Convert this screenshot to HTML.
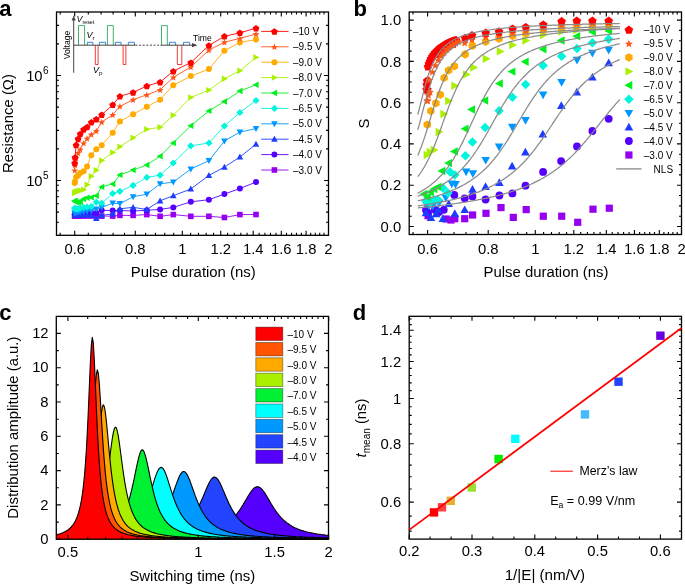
<!DOCTYPE html><html><head><meta charset="utf-8"><style>html,body{margin:0;padding:0;background:#fff;width:685px;height:584px;overflow:hidden}</style></head><body><svg width="685" height="584" viewBox="0 0 685 584" style="position:absolute;left:0;top:0;will-change:transform">
<rect width="685" height="584" fill="#fff"/>
<g font-family="'Liberation Sans', sans-serif" fill="#000">
<text x="-0.8" y="15.7" font-size="22" text-anchor="start" font-weight="bold">a</text>
<text x="353.4" y="15.7" font-size="22" text-anchor="start" font-weight="bold">b</text>
<text x="-0.8" y="320.2" font-size="22" text-anchor="start" font-weight="bold">c</text>
<text x="352.8" y="319.6" font-size="22" text-anchor="start" font-weight="bold">d</text>
<path d="M56.3 538.7L57.3 538.7L58.3 538.7L59.3 538.7L60.3 538.7L61.3 538.7L62.3 538.7L63.3 538.7L64.3 538.7L65.3 538.6L66.3 538.6L67.3 538.6L68.3 538.6L69.3 538.6L70.3 538.6L71.3 538.6L72.3 538.6L73.3 538.6L74.3 538.6L75.3 538.6L76.3 538.6L77.3 538.6L78.3 538.6L79.3 538.6L80.3 538.5L81.3 538.5L82.3 538.5L83.3 538.5L84.3 538.5L85.3 538.5L86.3 538.5L87.3 538.5L88.3 538.5L89.3 538.5L90.3 538.5L91.3 538.5L92.3 538.5L93.3 538.4L94.3 538.4L95.3 538.4L96.3 538.4L97.3 538.4L98.3 538.4L99.3 538.4L100.3 538.4L101.3 538.4L102.3 538.4L103.3 538.3L104.3 538.3L105.3 538.3L106.3 538.3L107.3 538.3L108.3 538.3L109.3 538.3L110.3 538.3L111.3 538.2L112.3 538.2L113.3 538.2L114.3 538.2L115.3 538.2L116.3 538.2L117.3 538.2L118.3 538.2L119.3 538.1L120.3 538.1L121.3 538.1L122.3 538.1L123.3 538.1L124.3 538.1L125.3 538L126.3 538L127.3 538L128.3 538L129.3 538L130.3 537.9L131.3 537.9L132.3 537.9L133.3 537.9L134.3 537.9L135.3 537.8L136.3 537.8L137.3 537.8L138.3 537.8L139.3 537.8L140.3 537.7L141.3 537.7L142.3 537.7L143.3 537.7L144.3 537.6L145.3 537.6L146.3 537.6L147.3 537.5L148.3 537.5L149.3 537.5L150.3 537.5L151.3 537.4L152.3 537.4L153.3 537.4L154.3 537.3L155.3 537.3L156.3 537.2L157.3 537.2L158.3 537.2L159.3 537.1L160.3 537.1L161.3 537L162.3 537L163.3 537L164.3 536.9L165.3 536.9L166.3 536.8L167.3 536.8L168.3 536.7L169.3 536.7L170.3 536.6L171.3 536.5L172.3 536.5L173.3 536.4L174.3 536.4L175.3 536.3L176.3 536.2L177.3 536.2L178.3 536.1L179.3 536L180.3 535.9L181.3 535.9L182.3 535.8L183.3 535.7L184.3 535.6L185.3 535.5L186.3 535.4L187.3 535.3L188.3 535.2L189.3 535.1L190.3 535L191.3 534.9L192.3 534.7L193.3 534.6L194.3 534.5L195.3 534.3L196.3 534.2L197.3 534L198.3 533.9L199.3 533.7L200.3 533.5L201.3 533.4L202.3 533.2L203.3 533L204.3 532.8L205.3 532.5L206.3 532.3L207.3 532.1L208.3 531.8L209.3 531.6L210.3 531.3L211.3 531L212.3 530.7L213.3 530.3L214.3 530L215.3 529.6L216.3 529.3L217.3 528.9L218.3 528.4L219.3 528L220.3 527.5L221.3 527L222.3 526.5L223.3 525.9L224.3 525.3L225.3 524.7L226.3 524L227.3 523.3L228.3 522.5L229.3 521.7L230.3 520.9L231.3 519.9L232.3 519L233.3 518L234.3 516.9L235.3 515.7L236.3 514.5L237.3 513.3L238.3 511.9L239.3 510.5L240.3 509.1L241.3 507.5L242.3 505.9L243.3 504.3L244.3 502.6L245.3 500.9L246.3 499.2L247.3 497.5L248.3 495.8L249.3 494.2L250.3 492.7L251.3 491.2L252.3 490L253.3 488.9L254.3 488L255.3 487.3L256.3 486.9L257.3 486.7L258.3 486.8L259.3 487.2L260.3 487.8L261.3 488.7L262.3 489.7L263.3 491L264.3 492.4L265.3 493.9L266.3 495.5L267.3 497.2L268.3 498.9L269.3 500.6L270.3 502.3L271.3 504L272.3 505.6L273.3 507.2L274.3 508.8L275.3 510.2L276.3 511.7L277.3 513L278.3 514.3L279.3 515.5L280.3 516.7L281.3 517.8L282.3 518.8L283.3 519.8L284.3 520.7L285.3 521.5L286.3 522.4L287.3 523.1L288.3 523.8L289.3 524.5L290.3 525.2L291.3 525.8L292.3 526.4L293.3 526.9L294.3 527.4L295.3 527.9L296.3 528.3L297.3 528.8L298.3 529.2L299.3 529.6L300.3 529.9L301.3 530.3L302.3 530.6L303.3 530.9L304.3 531.2L305.3 531.5L306.3 531.8L307.3 532L308.3 532.3L309.3 532.5L310.3 532.7L311.3 532.9L312.3 533.1L313.3 533.3L314.3 533.5L315.3 533.7L316.3 533.8L317.3 534L318.3 534.2L319.3 534.3L320.3 534.4L321.3 534.6L322.3 534.7L323.3 534.8L324.3 534.9L325.3 535.1L326.3 535.2L327.3 535.3L328.3 535.4L328.5 539.2L56.3 539.2Z" fill="#5500ff"/>
<path d="M56.3 538.7L57.3 538.7L58.3 538.7L59.3 538.7L60.3 538.7L61.3 538.7L62.3 538.7L63.3 538.7L64.3 538.7L65.3 538.6L66.3 538.6L67.3 538.6L68.3 538.6L69.3 538.6L70.3 538.6L71.3 538.6L72.3 538.6L73.3 538.6L74.3 538.6L75.3 538.6L76.3 538.6L77.3 538.6L78.3 538.6L79.3 538.6L80.3 538.5L81.3 538.5L82.3 538.5L83.3 538.5L84.3 538.5L85.3 538.5L86.3 538.5L87.3 538.5L88.3 538.5L89.3 538.5L90.3 538.5L91.3 538.5L92.3 538.5L93.3 538.4L94.3 538.4L95.3 538.4L96.3 538.4L97.3 538.4L98.3 538.4L99.3 538.4L100.3 538.4L101.3 538.4L102.3 538.4L103.3 538.3L104.3 538.3L105.3 538.3L106.3 538.3L107.3 538.3L108.3 538.3L109.3 538.3L110.3 538.3L111.3 538.2L112.3 538.2L113.3 538.2L114.3 538.2L115.3 538.2L116.3 538.2L117.3 538.2L118.3 538.2L119.3 538.1L120.3 538.1L121.3 538.1L122.3 538.1L123.3 538.1L124.3 538.1L125.3 538L126.3 538L127.3 538L128.3 538L129.3 538L130.3 537.9L131.3 537.9L132.3 537.9L133.3 537.9L134.3 537.9L135.3 537.8L136.3 537.8L137.3 537.8L138.3 537.8L139.3 537.8L140.3 537.7L141.3 537.7L142.3 537.7L143.3 537.7L144.3 537.6L145.3 537.6L146.3 537.6L147.3 537.5L148.3 537.5L149.3 537.5L150.3 537.5L151.3 537.4L152.3 537.4L153.3 537.4L154.3 537.3L155.3 537.3L156.3 537.2L157.3 537.2L158.3 537.2L159.3 537.1L160.3 537.1L161.3 537L162.3 537L163.3 537L164.3 536.9L165.3 536.9L166.3 536.8L167.3 536.8L168.3 536.7L169.3 536.7L170.3 536.6L171.3 536.5L172.3 536.5L173.3 536.4L174.3 536.4L175.3 536.3L176.3 536.2L177.3 536.2L178.3 536.1L179.3 536L180.3 535.9L181.3 535.9L182.3 535.8L183.3 535.7L184.3 535.6L185.3 535.5L186.3 535.4L187.3 535.3L188.3 535.2L189.3 535.1L190.3 535L191.3 534.9L192.3 534.7L193.3 534.6L194.3 534.5L195.3 534.3L196.3 534.2L197.3 534L198.3 533.9L199.3 533.7L200.3 533.5L201.3 533.4L202.3 533.2L203.3 533L204.3 532.8L205.3 532.5L206.3 532.3L207.3 532.1L208.3 531.8L209.3 531.6L210.3 531.3L211.3 531L212.3 530.7L213.3 530.3L214.3 530L215.3 529.6L216.3 529.3L217.3 528.9L218.3 528.4L219.3 528L220.3 527.5L221.3 527L222.3 526.5L223.3 525.9L224.3 525.3L225.3 524.7L226.3 524L227.3 523.3L228.3 522.5L229.3 521.7L230.3 520.9L231.3 519.9L232.3 519L233.3 518L234.3 516.9L235.3 515.7L236.3 514.5L237.3 513.3L238.3 511.9L239.3 510.5L240.3 509.1L241.3 507.5L242.3 505.9L243.3 504.3L244.3 502.6L245.3 500.9L246.3 499.2L247.3 497.5L248.3 495.8L249.3 494.2L250.3 492.7L251.3 491.2L252.3 490L253.3 488.9L254.3 488L255.3 487.3L256.3 486.9L257.3 486.7L258.3 486.8L259.3 487.2L260.3 487.8L261.3 488.7L262.3 489.7L263.3 491L264.3 492.4L265.3 493.9L266.3 495.5L267.3 497.2L268.3 498.9L269.3 500.6L270.3 502.3L271.3 504L272.3 505.6L273.3 507.2L274.3 508.8L275.3 510.2L276.3 511.7L277.3 513L278.3 514.3L279.3 515.5L280.3 516.7L281.3 517.8L282.3 518.8L283.3 519.8L284.3 520.7L285.3 521.5L286.3 522.4L287.3 523.1L288.3 523.8L289.3 524.5L290.3 525.2L291.3 525.8L292.3 526.4L293.3 526.9L294.3 527.4L295.3 527.9L296.3 528.3L297.3 528.8L298.3 529.2L299.3 529.6L300.3 529.9L301.3 530.3L302.3 530.6L303.3 530.9L304.3 531.2L305.3 531.5L306.3 531.8L307.3 532L308.3 532.3L309.3 532.5L310.3 532.7L311.3 532.9L312.3 533.1L313.3 533.3L314.3 533.5L315.3 533.7L316.3 533.8L317.3 534L318.3 534.2L319.3 534.3L320.3 534.4L321.3 534.6L322.3 534.7L323.3 534.8L324.3 534.9L325.3 535.1L326.3 535.2L327.3 535.3L328.3 535.4" fill="none" stroke="#000" stroke-width="1.1" stroke-linejoin="round"/>
<path d="M56.3 538.5L57.3 538.5L58.3 538.5L59.3 538.5L60.3 538.5L61.3 538.5L62.3 538.4L63.3 538.4L64.3 538.4L65.3 538.4L66.3 538.4L67.3 538.4L68.3 538.4L69.3 538.4L70.3 538.4L71.3 538.4L72.3 538.3L73.3 538.3L74.3 538.3L75.3 538.3L76.3 538.3L77.3 538.3L78.3 538.3L79.3 538.3L80.3 538.2L81.3 538.2L82.3 538.2L83.3 538.2L84.3 538.2L85.3 538.2L86.3 538.1L87.3 538.1L88.3 538.1L89.3 538.1L90.3 538.1L91.3 538.1L92.3 538L93.3 538L94.3 538L95.3 538L96.3 538L97.3 537.9L98.3 537.9L99.3 537.9L100.3 537.9L101.3 537.9L102.3 537.8L103.3 537.8L104.3 537.8L105.3 537.8L106.3 537.7L107.3 537.7L108.3 537.7L109.3 537.6L110.3 537.6L111.3 537.6L112.3 537.6L113.3 537.5L114.3 537.5L115.3 537.5L116.3 537.4L117.3 537.4L118.3 537.4L119.3 537.3L120.3 537.3L121.3 537.2L122.3 537.2L123.3 537.2L124.3 537.1L125.3 537.1L126.3 537L127.3 537L128.3 536.9L129.3 536.9L130.3 536.8L131.3 536.8L132.3 536.7L133.3 536.6L134.3 536.6L135.3 536.5L136.3 536.4L137.3 536.4L138.3 536.3L139.3 536.2L140.3 536.2L141.3 536.1L142.3 536L143.3 535.9L144.3 535.8L145.3 535.7L146.3 535.6L147.3 535.5L148.3 535.4L149.3 535.3L150.3 535.2L151.3 535.1L152.3 535L153.3 534.8L154.3 534.7L155.3 534.6L156.3 534.4L157.3 534.2L158.3 534.1L159.3 533.9L160.3 533.7L161.3 533.5L162.3 533.3L163.3 533.1L164.3 532.9L165.3 532.7L166.3 532.4L167.3 532.2L168.3 531.9L169.3 531.6L170.3 531.3L171.3 531L172.3 530.7L173.3 530.3L174.3 529.9L175.3 529.5L176.3 529.1L177.3 528.6L178.3 528.2L179.3 527.6L180.3 527.1L181.3 526.5L182.3 525.9L183.3 525.2L184.3 524.5L185.3 523.7L186.3 522.9L187.3 522L188.3 521L189.3 520L190.3 518.9L191.3 517.8L192.3 516.5L193.3 515.2L194.3 513.7L195.3 512.2L196.3 510.6L197.3 508.8L198.3 507L199.3 505L200.3 502.9L201.3 500.7L202.3 498.5L203.3 496.2L204.3 493.8L205.3 491.4L206.3 489L207.3 486.7L208.3 484.5L209.3 482.5L210.3 480.8L211.3 479.3L212.3 478.2L213.3 477.4L214.3 477.1L215.3 477.3L216.3 477.8L217.3 478.8L218.3 480.1L219.3 481.8L220.3 483.7L221.3 485.8L222.3 488.1L223.3 490.4L224.3 492.8L225.3 495.2L226.3 497.6L227.3 499.8L228.3 502.1L229.3 504.2L230.3 506.2L231.3 508.1L232.3 509.9L233.3 511.6L234.3 513.1L235.3 514.6L236.3 516L237.3 517.3L238.3 518.5L239.3 519.6L240.3 520.7L241.3 521.6L242.3 522.5L243.3 523.4L244.3 524.2L245.3 524.9L246.3 525.6L247.3 526.2L248.3 526.9L249.3 527.4L250.3 528L251.3 528.4L252.3 528.9L253.3 529.4L254.3 529.8L255.3 530.2L256.3 530.5L257.3 530.9L258.3 531.2L259.3 531.5L260.3 531.8L261.3 532.1L262.3 532.3L263.3 532.6L264.3 532.8L265.3 533.1L266.3 533.3L267.3 533.5L268.3 533.7L269.3 533.8L270.3 534L271.3 534.2L272.3 534.3L273.3 534.5L274.3 534.6L275.3 534.8L276.3 534.9L277.3 535L278.3 535.2L279.3 535.3L280.3 535.4L281.3 535.5L282.3 535.6L283.3 535.7L284.3 535.8L285.3 535.9L286.3 536L287.3 536L288.3 536.1L289.3 536.2L290.3 536.3L291.3 536.4L292.3 536.4L293.3 536.5L294.3 536.6L295.3 536.6L296.3 536.7L297.3 536.7L298.3 536.8L299.3 536.8L300.3 536.9L301.3 536.9L302.3 537L303.3 537L304.3 537.1L305.3 537.1L306.3 537.2L307.3 537.2L308.3 537.3L309.3 537.3L310.3 537.3L311.3 537.4L312.3 537.4L313.3 537.4L314.3 537.5L315.3 537.5L316.3 537.5L317.3 537.6L318.3 537.6L319.3 537.6L320.3 537.7L321.3 537.7L322.3 537.7L323.3 537.7L324.3 537.8L325.3 537.8L326.3 537.8L327.3 537.8L328.3 537.9L328.5 539.2L56.3 539.2Z" fill="#2244ff"/>
<path d="M56.3 538.5L57.3 538.5L58.3 538.5L59.3 538.5L60.3 538.5L61.3 538.5L62.3 538.4L63.3 538.4L64.3 538.4L65.3 538.4L66.3 538.4L67.3 538.4L68.3 538.4L69.3 538.4L70.3 538.4L71.3 538.4L72.3 538.3L73.3 538.3L74.3 538.3L75.3 538.3L76.3 538.3L77.3 538.3L78.3 538.3L79.3 538.3L80.3 538.2L81.3 538.2L82.3 538.2L83.3 538.2L84.3 538.2L85.3 538.2L86.3 538.1L87.3 538.1L88.3 538.1L89.3 538.1L90.3 538.1L91.3 538.1L92.3 538L93.3 538L94.3 538L95.3 538L96.3 538L97.3 537.9L98.3 537.9L99.3 537.9L100.3 537.9L101.3 537.9L102.3 537.8L103.3 537.8L104.3 537.8L105.3 537.8L106.3 537.7L107.3 537.7L108.3 537.7L109.3 537.6L110.3 537.6L111.3 537.6L112.3 537.6L113.3 537.5L114.3 537.5L115.3 537.5L116.3 537.4L117.3 537.4L118.3 537.4L119.3 537.3L120.3 537.3L121.3 537.2L122.3 537.2L123.3 537.2L124.3 537.1L125.3 537.1L126.3 537L127.3 537L128.3 536.9L129.3 536.9L130.3 536.8L131.3 536.8L132.3 536.7L133.3 536.6L134.3 536.6L135.3 536.5L136.3 536.4L137.3 536.4L138.3 536.3L139.3 536.2L140.3 536.2L141.3 536.1L142.3 536L143.3 535.9L144.3 535.8L145.3 535.7L146.3 535.6L147.3 535.5L148.3 535.4L149.3 535.3L150.3 535.2L151.3 535.1L152.3 535L153.3 534.8L154.3 534.7L155.3 534.6L156.3 534.4L157.3 534.2L158.3 534.1L159.3 533.9L160.3 533.7L161.3 533.5L162.3 533.3L163.3 533.1L164.3 532.9L165.3 532.7L166.3 532.4L167.3 532.2L168.3 531.9L169.3 531.6L170.3 531.3L171.3 531L172.3 530.7L173.3 530.3L174.3 529.9L175.3 529.5L176.3 529.1L177.3 528.6L178.3 528.2L179.3 527.6L180.3 527.1L181.3 526.5L182.3 525.9L183.3 525.2L184.3 524.5L185.3 523.7L186.3 522.9L187.3 522L188.3 521L189.3 520L190.3 518.9L191.3 517.8L192.3 516.5L193.3 515.2L194.3 513.7L195.3 512.2L196.3 510.6L197.3 508.8L198.3 507L199.3 505L200.3 502.9L201.3 500.7L202.3 498.5L203.3 496.2L204.3 493.8L205.3 491.4L206.3 489L207.3 486.7L208.3 484.5L209.3 482.5L210.3 480.8L211.3 479.3L212.3 478.2L213.3 477.4L214.3 477.1L215.3 477.3L216.3 477.8L217.3 478.8L218.3 480.1L219.3 481.8L220.3 483.7L221.3 485.8L222.3 488.1L223.3 490.4L224.3 492.8L225.3 495.2L226.3 497.6L227.3 499.8L228.3 502.1L229.3 504.2L230.3 506.2L231.3 508.1L232.3 509.9L233.3 511.6L234.3 513.1L235.3 514.6L236.3 516L237.3 517.3L238.3 518.5L239.3 519.6L240.3 520.7L241.3 521.6L242.3 522.5L243.3 523.4L244.3 524.2L245.3 524.9L246.3 525.6L247.3 526.2L248.3 526.9L249.3 527.4L250.3 528L251.3 528.4L252.3 528.9L253.3 529.4L254.3 529.8L255.3 530.2L256.3 530.5L257.3 530.9L258.3 531.2L259.3 531.5L260.3 531.8L261.3 532.1L262.3 532.3L263.3 532.6L264.3 532.8L265.3 533.1L266.3 533.3L267.3 533.5L268.3 533.7L269.3 533.8L270.3 534L271.3 534.2L272.3 534.3L273.3 534.5L274.3 534.6L275.3 534.8L276.3 534.9L277.3 535L278.3 535.2L279.3 535.3L280.3 535.4L281.3 535.5L282.3 535.6L283.3 535.7L284.3 535.8L285.3 535.9L286.3 536L287.3 536L288.3 536.1L289.3 536.2L290.3 536.3L291.3 536.4L292.3 536.4L293.3 536.5L294.3 536.6L295.3 536.6L296.3 536.7L297.3 536.7L298.3 536.8L299.3 536.8L300.3 536.9L301.3 536.9L302.3 537L303.3 537L304.3 537.1L305.3 537.1L306.3 537.2L307.3 537.2L308.3 537.3L309.3 537.3L310.3 537.3L311.3 537.4L312.3 537.4L313.3 537.4L314.3 537.5L315.3 537.5L316.3 537.5L317.3 537.6L318.3 537.6L319.3 537.6L320.3 537.7L321.3 537.7L322.3 537.7L323.3 537.7L324.3 537.8L325.3 537.8L326.3 537.8L327.3 537.8L328.3 537.9" fill="none" stroke="#000" stroke-width="1.1" stroke-linejoin="round"/>
<path d="M56.3 538.2L57.3 538.2L58.3 538.2L59.3 538.2L60.3 538.2L61.3 538.1L62.3 538.1L63.3 538.1L64.3 538.1L65.3 538.1L66.3 538L67.3 538L68.3 538L69.3 538L70.3 538L71.3 537.9L72.3 537.9L73.3 537.9L74.3 537.9L75.3 537.8L76.3 537.8L77.3 537.8L78.3 537.8L79.3 537.7L80.3 537.7L81.3 537.7L82.3 537.7L83.3 537.6L84.3 537.6L85.3 537.6L86.3 537.5L87.3 537.5L88.3 537.5L89.3 537.4L90.3 537.4L91.3 537.4L92.3 537.3L93.3 537.3L94.3 537.2L95.3 537.2L96.3 537.1L97.3 537.1L98.3 537.1L99.3 537L100.3 536.9L101.3 536.9L102.3 536.8L103.3 536.8L104.3 536.7L105.3 536.7L106.3 536.6L107.3 536.5L108.3 536.5L109.3 536.4L110.3 536.3L111.3 536.2L112.3 536.2L113.3 536.1L114.3 536L115.3 535.9L116.3 535.8L117.3 535.7L118.3 535.6L119.3 535.5L120.3 535.4L121.3 535.3L122.3 535.2L123.3 535L124.3 534.9L125.3 534.8L126.3 534.6L127.3 534.5L128.3 534.3L129.3 534.1L130.3 534L131.3 533.8L132.3 533.6L133.3 533.4L134.3 533.2L135.3 532.9L136.3 532.7L137.3 532.4L138.3 532.2L139.3 531.9L140.3 531.6L141.3 531.3L142.3 530.9L143.3 530.5L144.3 530.2L145.3 529.8L146.3 529.3L147.3 528.8L148.3 528.3L149.3 527.8L150.3 527.2L151.3 526.6L152.3 526L153.3 525.3L154.3 524.5L155.3 523.7L156.3 522.8L157.3 521.9L158.3 520.9L159.3 519.8L160.3 518.6L161.3 517.3L162.3 516L163.3 514.5L164.3 512.9L165.3 511.2L166.3 509.3L167.3 507.3L168.3 505.2L169.3 502.9L170.3 500.5L171.3 498L172.3 495.3L173.3 492.6L174.3 489.7L175.3 486.9L176.3 484.1L177.3 481.4L178.3 478.8L179.3 476.5L180.3 474.6L181.3 473.1L182.3 472L183.3 471.5L184.3 471.6L185.3 472.2L186.3 473.3L187.3 474.9L188.3 477L189.3 479.3L190.3 481.9L191.3 484.6L192.3 487.5L193.3 490.3L194.3 493.1L195.3 495.9L196.3 498.5L197.3 501L198.3 503.4L199.3 505.6L200.3 507.7L201.3 509.7L202.3 511.5L203.3 513.2L204.3 514.8L205.3 516.3L206.3 517.6L207.3 518.9L208.3 520L209.3 521.1L210.3 522.1L211.3 523L212.3 523.9L213.3 524.7L214.3 525.4L215.3 526.1L216.3 526.8L217.3 527.4L218.3 527.9L219.3 528.5L220.3 528.9L221.3 529.4L222.3 529.8L223.3 530.2L224.3 530.6L225.3 531L226.3 531.3L227.3 531.6L228.3 531.9L229.3 532.2L230.3 532.5L231.3 532.7L232.3 533L233.3 533.2L234.3 533.4L235.3 533.6L236.3 533.8L237.3 534L238.3 534.2L239.3 534.3L240.3 534.5L241.3 534.6L242.3 534.8L243.3 534.9L244.3 535.1L245.3 535.2L246.3 535.3L247.3 535.4L248.3 535.5L249.3 535.6L250.3 535.7L251.3 535.8L252.3 535.9L253.3 536L254.3 536.1L255.3 536.2L256.3 536.3L257.3 536.3L258.3 536.4L259.3 536.5L260.3 536.5L261.3 536.6L262.3 536.7L263.3 536.7L264.3 536.8L265.3 536.9L266.3 536.9L267.3 537L268.3 537L269.3 537.1L270.3 537.1L271.3 537.2L272.3 537.2L273.3 537.2L274.3 537.3L275.3 537.3L276.3 537.4L277.3 537.4L278.3 537.4L279.3 537.5L280.3 537.5L281.3 537.5L282.3 537.6L283.3 537.6L284.3 537.6L285.3 537.7L286.3 537.7L287.3 537.7L288.3 537.8L289.3 537.8L290.3 537.8L291.3 537.8L292.3 537.9L293.3 537.9L294.3 537.9L295.3 537.9L296.3 537.9L297.3 538L298.3 538L299.3 538L300.3 538L301.3 538L302.3 538.1L303.3 538.1L304.3 538.1L305.3 538.1L306.3 538.1L307.3 538.2L308.3 538.2L309.3 538.2L310.3 538.2L311.3 538.2L312.3 538.2L313.3 538.2L314.3 538.3L315.3 538.3L316.3 538.3L317.3 538.3L318.3 538.3L319.3 538.3L320.3 538.3L321.3 538.4L322.3 538.4L323.3 538.4L324.3 538.4L325.3 538.4L326.3 538.4L327.3 538.4L328.3 538.4L328.5 539.2L56.3 539.2Z" fill="#0099ff"/>
<path d="M56.3 538.2L57.3 538.2L58.3 538.2L59.3 538.2L60.3 538.2L61.3 538.1L62.3 538.1L63.3 538.1L64.3 538.1L65.3 538.1L66.3 538L67.3 538L68.3 538L69.3 538L70.3 538L71.3 537.9L72.3 537.9L73.3 537.9L74.3 537.9L75.3 537.8L76.3 537.8L77.3 537.8L78.3 537.8L79.3 537.7L80.3 537.7L81.3 537.7L82.3 537.7L83.3 537.6L84.3 537.6L85.3 537.6L86.3 537.5L87.3 537.5L88.3 537.5L89.3 537.4L90.3 537.4L91.3 537.4L92.3 537.3L93.3 537.3L94.3 537.2L95.3 537.2L96.3 537.1L97.3 537.1L98.3 537.1L99.3 537L100.3 536.9L101.3 536.9L102.3 536.8L103.3 536.8L104.3 536.7L105.3 536.7L106.3 536.6L107.3 536.5L108.3 536.5L109.3 536.4L110.3 536.3L111.3 536.2L112.3 536.2L113.3 536.1L114.3 536L115.3 535.9L116.3 535.8L117.3 535.7L118.3 535.6L119.3 535.5L120.3 535.4L121.3 535.3L122.3 535.2L123.3 535L124.3 534.9L125.3 534.8L126.3 534.6L127.3 534.5L128.3 534.3L129.3 534.1L130.3 534L131.3 533.8L132.3 533.6L133.3 533.4L134.3 533.2L135.3 532.9L136.3 532.7L137.3 532.4L138.3 532.2L139.3 531.9L140.3 531.6L141.3 531.3L142.3 530.9L143.3 530.5L144.3 530.2L145.3 529.8L146.3 529.3L147.3 528.8L148.3 528.3L149.3 527.8L150.3 527.2L151.3 526.6L152.3 526L153.3 525.3L154.3 524.5L155.3 523.7L156.3 522.8L157.3 521.9L158.3 520.9L159.3 519.8L160.3 518.6L161.3 517.3L162.3 516L163.3 514.5L164.3 512.9L165.3 511.2L166.3 509.3L167.3 507.3L168.3 505.2L169.3 502.9L170.3 500.5L171.3 498L172.3 495.3L173.3 492.6L174.3 489.7L175.3 486.9L176.3 484.1L177.3 481.4L178.3 478.8L179.3 476.5L180.3 474.6L181.3 473.1L182.3 472L183.3 471.5L184.3 471.6L185.3 472.2L186.3 473.3L187.3 474.9L188.3 477L189.3 479.3L190.3 481.9L191.3 484.6L192.3 487.5L193.3 490.3L194.3 493.1L195.3 495.9L196.3 498.5L197.3 501L198.3 503.4L199.3 505.6L200.3 507.7L201.3 509.7L202.3 511.5L203.3 513.2L204.3 514.8L205.3 516.3L206.3 517.6L207.3 518.9L208.3 520L209.3 521.1L210.3 522.1L211.3 523L212.3 523.9L213.3 524.7L214.3 525.4L215.3 526.1L216.3 526.8L217.3 527.4L218.3 527.9L219.3 528.5L220.3 528.9L221.3 529.4L222.3 529.8L223.3 530.2L224.3 530.6L225.3 531L226.3 531.3L227.3 531.6L228.3 531.9L229.3 532.2L230.3 532.5L231.3 532.7L232.3 533L233.3 533.2L234.3 533.4L235.3 533.6L236.3 533.8L237.3 534L238.3 534.2L239.3 534.3L240.3 534.5L241.3 534.6L242.3 534.8L243.3 534.9L244.3 535.1L245.3 535.2L246.3 535.3L247.3 535.4L248.3 535.5L249.3 535.6L250.3 535.7L251.3 535.8L252.3 535.9L253.3 536L254.3 536.1L255.3 536.2L256.3 536.3L257.3 536.3L258.3 536.4L259.3 536.5L260.3 536.5L261.3 536.6L262.3 536.7L263.3 536.7L264.3 536.8L265.3 536.9L266.3 536.9L267.3 537L268.3 537L269.3 537.1L270.3 537.1L271.3 537.2L272.3 537.2L273.3 537.2L274.3 537.3L275.3 537.3L276.3 537.4L277.3 537.4L278.3 537.4L279.3 537.5L280.3 537.5L281.3 537.5L282.3 537.6L283.3 537.6L284.3 537.6L285.3 537.7L286.3 537.7L287.3 537.7L288.3 537.8L289.3 537.8L290.3 537.8L291.3 537.8L292.3 537.9L293.3 537.9L294.3 537.9L295.3 537.9L296.3 537.9L297.3 538L298.3 538L299.3 538L300.3 538L301.3 538L302.3 538.1L303.3 538.1L304.3 538.1L305.3 538.1L306.3 538.1L307.3 538.2L308.3 538.2L309.3 538.2L310.3 538.2L311.3 538.2L312.3 538.2L313.3 538.2L314.3 538.3L315.3 538.3L316.3 538.3L317.3 538.3L318.3 538.3L319.3 538.3L320.3 538.3L321.3 538.4L322.3 538.4L323.3 538.4L324.3 538.4L325.3 538.4L326.3 538.4L327.3 538.4L328.3 538.4" fill="none" stroke="#000" stroke-width="1.1" stroke-linejoin="round"/>
<path d="M56.3 537.8L57.3 537.8L58.3 537.8L59.3 537.8L60.3 537.7L61.3 537.7L62.3 537.7L63.3 537.6L64.3 537.6L65.3 537.6L66.3 537.5L67.3 537.5L68.3 537.5L69.3 537.4L70.3 537.4L71.3 537.4L72.3 537.3L73.3 537.3L74.3 537.2L75.3 537.2L76.3 537.1L77.3 537.1L78.3 537L79.3 537L80.3 536.9L81.3 536.9L82.3 536.8L83.3 536.8L84.3 536.7L85.3 536.6L86.3 536.6L87.3 536.5L88.3 536.4L89.3 536.4L90.3 536.3L91.3 536.2L92.3 536.1L93.3 536L94.3 535.9L95.3 535.8L96.3 535.7L97.3 535.6L98.3 535.5L99.3 535.4L100.3 535.3L101.3 535.2L102.3 535L103.3 534.9L104.3 534.8L105.3 534.6L106.3 534.4L107.3 534.3L108.3 534.1L109.3 533.9L110.3 533.7L111.3 533.5L112.3 533.3L113.3 533.1L114.3 532.8L115.3 532.6L116.3 532.3L117.3 532L118.3 531.7L119.3 531.4L120.3 531.1L121.3 530.7L122.3 530.3L123.3 529.9L124.3 529.4L125.3 529L126.3 528.5L127.3 527.9L128.3 527.3L129.3 526.7L130.3 526L131.3 525.3L132.3 524.5L133.3 523.7L134.3 522.8L135.3 521.8L136.3 520.7L137.3 519.6L138.3 518.3L139.3 517L140.3 515.5L141.3 513.9L142.3 512.2L143.3 510.3L144.3 508.3L145.3 506.1L146.3 503.8L147.3 501.3L148.3 498.6L149.3 495.8L150.3 492.8L151.3 489.7L152.3 486.5L153.3 483.3L154.3 480.2L155.3 477.1L156.3 474.4L157.3 471.9L158.3 469.9L159.3 468.4L160.3 467.6L161.3 467.4L162.3 467.8L163.3 468.9L164.3 470.6L165.3 472.8L166.3 475.4L167.3 478.3L168.3 481.4L169.3 484.6L170.3 487.8L171.3 490.9L172.3 494L173.3 496.9L174.3 499.7L175.3 502.3L176.3 504.7L177.3 507L178.3 509.1L179.3 511.1L180.3 512.9L181.3 514.6L182.3 516.1L183.3 517.5L184.3 518.8L185.3 520L186.3 521.2L187.3 522.2L188.3 523.1L189.3 524L190.3 524.8L191.3 525.6L192.3 526.3L193.3 527L194.3 527.6L195.3 528.1L196.3 528.7L197.3 529.2L198.3 529.6L199.3 530.1L200.3 530.5L201.3 530.8L202.3 531.2L203.3 531.5L204.3 531.8L205.3 532.1L206.3 532.4L207.3 532.7L208.3 532.9L209.3 533.2L210.3 533.4L211.3 533.6L212.3 533.8L213.3 534L214.3 534.2L215.3 534.3L216.3 534.5L217.3 534.7L218.3 534.8L219.3 535L220.3 535.1L221.3 535.2L222.3 535.3L223.3 535.5L224.3 535.6L225.3 535.7L226.3 535.8L227.3 535.9L228.3 536L229.3 536.1L230.3 536.1L231.3 536.2L232.3 536.3L233.3 536.4L234.3 536.5L235.3 536.5L236.3 536.6L237.3 536.7L238.3 536.7L239.3 536.8L240.3 536.8L241.3 536.9L242.3 537L243.3 537L244.3 537.1L245.3 537.1L246.3 537.2L247.3 537.2L248.3 537.2L249.3 537.3L250.3 537.3L251.3 537.4L252.3 537.4L253.3 537.4L254.3 537.5L255.3 537.5L256.3 537.6L257.3 537.6L258.3 537.6L259.3 537.6L260.3 537.7L261.3 537.7L262.3 537.7L263.3 537.8L264.3 537.8L265.3 537.8L266.3 537.8L267.3 537.9L268.3 537.9L269.3 537.9L270.3 537.9L271.3 538L272.3 538L273.3 538L274.3 538L275.3 538L276.3 538.1L277.3 538.1L278.3 538.1L279.3 538.1L280.3 538.1L281.3 538.2L282.3 538.2L283.3 538.2L284.3 538.2L285.3 538.2L286.3 538.2L287.3 538.3L288.3 538.3L289.3 538.3L290.3 538.3L291.3 538.3L292.3 538.3L293.3 538.3L294.3 538.3L295.3 538.4L296.3 538.4L297.3 538.4L298.3 538.4L299.3 538.4L300.3 538.4L301.3 538.4L302.3 538.4L303.3 538.5L304.3 538.5L305.3 538.5L306.3 538.5L307.3 538.5L308.3 538.5L309.3 538.5L310.3 538.5L311.3 538.5L312.3 538.5L313.3 538.5L314.3 538.6L315.3 538.6L316.3 538.6L317.3 538.6L318.3 538.6L319.3 538.6L320.3 538.6L321.3 538.6L322.3 538.6L323.3 538.6L324.3 538.6L325.3 538.6L326.3 538.6L327.3 538.7L328.3 538.7L328.5 539.2L56.3 539.2Z" fill="#00ffff"/>
<path d="M56.3 537.8L57.3 537.8L58.3 537.8L59.3 537.8L60.3 537.7L61.3 537.7L62.3 537.7L63.3 537.6L64.3 537.6L65.3 537.6L66.3 537.5L67.3 537.5L68.3 537.5L69.3 537.4L70.3 537.4L71.3 537.4L72.3 537.3L73.3 537.3L74.3 537.2L75.3 537.2L76.3 537.1L77.3 537.1L78.3 537L79.3 537L80.3 536.9L81.3 536.9L82.3 536.8L83.3 536.8L84.3 536.7L85.3 536.6L86.3 536.6L87.3 536.5L88.3 536.4L89.3 536.4L90.3 536.3L91.3 536.2L92.3 536.1L93.3 536L94.3 535.9L95.3 535.8L96.3 535.7L97.3 535.6L98.3 535.5L99.3 535.4L100.3 535.3L101.3 535.2L102.3 535L103.3 534.9L104.3 534.8L105.3 534.6L106.3 534.4L107.3 534.3L108.3 534.1L109.3 533.9L110.3 533.7L111.3 533.5L112.3 533.3L113.3 533.1L114.3 532.8L115.3 532.6L116.3 532.3L117.3 532L118.3 531.7L119.3 531.4L120.3 531.1L121.3 530.7L122.3 530.3L123.3 529.9L124.3 529.4L125.3 529L126.3 528.5L127.3 527.9L128.3 527.3L129.3 526.7L130.3 526L131.3 525.3L132.3 524.5L133.3 523.7L134.3 522.8L135.3 521.8L136.3 520.7L137.3 519.6L138.3 518.3L139.3 517L140.3 515.5L141.3 513.9L142.3 512.2L143.3 510.3L144.3 508.3L145.3 506.1L146.3 503.8L147.3 501.3L148.3 498.6L149.3 495.8L150.3 492.8L151.3 489.7L152.3 486.5L153.3 483.3L154.3 480.2L155.3 477.1L156.3 474.4L157.3 471.9L158.3 469.9L159.3 468.4L160.3 467.6L161.3 467.4L162.3 467.8L163.3 468.9L164.3 470.6L165.3 472.8L166.3 475.4L167.3 478.3L168.3 481.4L169.3 484.6L170.3 487.8L171.3 490.9L172.3 494L173.3 496.9L174.3 499.7L175.3 502.3L176.3 504.7L177.3 507L178.3 509.1L179.3 511.1L180.3 512.9L181.3 514.6L182.3 516.1L183.3 517.5L184.3 518.8L185.3 520L186.3 521.2L187.3 522.2L188.3 523.1L189.3 524L190.3 524.8L191.3 525.6L192.3 526.3L193.3 527L194.3 527.6L195.3 528.1L196.3 528.7L197.3 529.2L198.3 529.6L199.3 530.1L200.3 530.5L201.3 530.8L202.3 531.2L203.3 531.5L204.3 531.8L205.3 532.1L206.3 532.4L207.3 532.7L208.3 532.9L209.3 533.2L210.3 533.4L211.3 533.6L212.3 533.8L213.3 534L214.3 534.2L215.3 534.3L216.3 534.5L217.3 534.7L218.3 534.8L219.3 535L220.3 535.1L221.3 535.2L222.3 535.3L223.3 535.5L224.3 535.6L225.3 535.7L226.3 535.8L227.3 535.9L228.3 536L229.3 536.1L230.3 536.1L231.3 536.2L232.3 536.3L233.3 536.4L234.3 536.5L235.3 536.5L236.3 536.6L237.3 536.7L238.3 536.7L239.3 536.8L240.3 536.8L241.3 536.9L242.3 537L243.3 537L244.3 537.1L245.3 537.1L246.3 537.2L247.3 537.2L248.3 537.2L249.3 537.3L250.3 537.3L251.3 537.4L252.3 537.4L253.3 537.4L254.3 537.5L255.3 537.5L256.3 537.6L257.3 537.6L258.3 537.6L259.3 537.6L260.3 537.7L261.3 537.7L262.3 537.7L263.3 537.8L264.3 537.8L265.3 537.8L266.3 537.8L267.3 537.9L268.3 537.9L269.3 537.9L270.3 537.9L271.3 538L272.3 538L273.3 538L274.3 538L275.3 538L276.3 538.1L277.3 538.1L278.3 538.1L279.3 538.1L280.3 538.1L281.3 538.2L282.3 538.2L283.3 538.2L284.3 538.2L285.3 538.2L286.3 538.2L287.3 538.3L288.3 538.3L289.3 538.3L290.3 538.3L291.3 538.3L292.3 538.3L293.3 538.3L294.3 538.3L295.3 538.4L296.3 538.4L297.3 538.4L298.3 538.4L299.3 538.4L300.3 538.4L301.3 538.4L302.3 538.4L303.3 538.5L304.3 538.5L305.3 538.5L306.3 538.5L307.3 538.5L308.3 538.5L309.3 538.5L310.3 538.5L311.3 538.5L312.3 538.5L313.3 538.5L314.3 538.6L315.3 538.6L316.3 538.6L317.3 538.6L318.3 538.6L319.3 538.6L320.3 538.6L321.3 538.6L322.3 538.6L323.3 538.6L324.3 538.6L325.3 538.6L326.3 538.6L327.3 538.7L328.3 538.7" fill="none" stroke="#000" stroke-width="1.1" stroke-linejoin="round"/>
<path d="M56.3 537.6L57.3 537.5L58.3 537.5L59.3 537.4L60.3 537.4L61.3 537.3L62.3 537.3L63.3 537.3L64.3 537.2L65.3 537.2L66.3 537.1L67.3 537L68.3 537L69.3 536.9L70.3 536.9L71.3 536.8L72.3 536.7L73.3 536.7L74.3 536.6L75.3 536.5L76.3 536.4L77.3 536.4L78.3 536.3L79.3 536.2L80.3 536.1L81.3 536L82.3 535.9L83.3 535.8L84.3 535.7L85.3 535.5L86.3 535.4L87.3 535.3L88.3 535.1L89.3 535L90.3 534.8L91.3 534.7L92.3 534.5L93.3 534.3L94.3 534.1L95.3 533.9L96.3 533.7L97.3 533.5L98.3 533.2L99.3 532.9L100.3 532.7L101.3 532.4L102.3 532.1L103.3 531.7L104.3 531.4L105.3 531L106.3 530.5L107.3 530.1L108.3 529.6L109.3 529.1L110.3 528.5L111.3 527.9L112.3 527.2L113.3 526.5L114.3 525.7L115.3 524.9L116.3 524L117.3 522.9L118.3 521.8L119.3 520.6L120.3 519.3L121.3 517.8L122.3 516.1L123.3 514.3L124.3 512.4L125.3 510.2L126.3 507.7L127.3 505.1L128.3 502.1L129.3 498.9L130.3 495.3L131.3 491.4L132.3 487.2L133.3 482.7L134.3 478L135.3 473.1L136.3 468.2L137.3 463.5L138.3 459.1L139.3 455.3L140.3 452.3L141.3 450.5L142.3 449.8L143.3 450.5L144.3 452.3L145.3 455.3L146.3 459.1L147.3 463.5L148.3 468.2L149.3 473.1L150.3 478L151.3 482.7L152.3 487.2L153.3 491.4L154.3 495.3L155.3 498.9L156.3 502.1L157.3 505.1L158.3 507.7L159.3 510.2L160.3 512.4L161.3 514.3L162.3 516.1L163.3 517.8L164.3 519.3L165.3 520.6L166.3 521.8L167.3 522.9L168.3 524L169.3 524.9L170.3 525.7L171.3 526.5L172.3 527.2L173.3 527.9L174.3 528.5L175.3 529.1L176.3 529.6L177.3 530.1L178.3 530.5L179.3 531L180.3 531.4L181.3 531.7L182.3 532.1L183.3 532.4L184.3 532.7L185.3 532.9L186.3 533.2L187.3 533.5L188.3 533.7L189.3 533.9L190.3 534.1L191.3 534.3L192.3 534.5L193.3 534.7L194.3 534.8L195.3 535L196.3 535.1L197.3 535.3L198.3 535.4L199.3 535.5L200.3 535.7L201.3 535.8L202.3 535.9L203.3 536L204.3 536.1L205.3 536.2L206.3 536.3L207.3 536.4L208.3 536.4L209.3 536.5L210.3 536.6L211.3 536.7L212.3 536.7L213.3 536.8L214.3 536.9L215.3 536.9L216.3 537L217.3 537L218.3 537.1L219.3 537.2L220.3 537.2L221.3 537.3L222.3 537.3L223.3 537.3L224.3 537.4L225.3 537.4L226.3 537.5L227.3 537.5L228.3 537.6L229.3 537.6L230.3 537.6L231.3 537.7L232.3 537.7L233.3 537.7L234.3 537.8L235.3 537.8L236.3 537.8L237.3 537.8L238.3 537.9L239.3 537.9L240.3 537.9L241.3 537.9L242.3 538L243.3 538L244.3 538L245.3 538L246.3 538.1L247.3 538.1L248.3 538.1L249.3 538.1L250.3 538.1L251.3 538.2L252.3 538.2L253.3 538.2L254.3 538.2L255.3 538.2L256.3 538.3L257.3 538.3L258.3 538.3L259.3 538.3L260.3 538.3L261.3 538.3L262.3 538.3L263.3 538.4L264.3 538.4L265.3 538.4L266.3 538.4L267.3 538.4L268.3 538.4L269.3 538.4L270.3 538.4L271.3 538.5L272.3 538.5L273.3 538.5L274.3 538.5L275.3 538.5L276.3 538.5L277.3 538.5L278.3 538.5L279.3 538.5L280.3 538.6L281.3 538.6L282.3 538.6L283.3 538.6L284.3 538.6L285.3 538.6L286.3 538.6L287.3 538.6L288.3 538.6L289.3 538.6L290.3 538.6L291.3 538.6L292.3 538.7L293.3 538.7L294.3 538.7L295.3 538.7L296.3 538.7L297.3 538.7L298.3 538.7L299.3 538.7L300.3 538.7L301.3 538.7L302.3 538.7L303.3 538.7L304.3 538.7L305.3 538.7L306.3 538.7L307.3 538.7L308.3 538.8L309.3 538.8L310.3 538.8L311.3 538.8L312.3 538.8L313.3 538.8L314.3 538.8L315.3 538.8L316.3 538.8L317.3 538.8L318.3 538.8L319.3 538.8L320.3 538.8L321.3 538.8L322.3 538.8L323.3 538.8L324.3 538.8L325.3 538.8L326.3 538.8L327.3 538.8L328.3 538.8L328.5 539.2L56.3 539.2Z" fill="#00f033"/>
<path d="M56.3 537.6L57.3 537.5L58.3 537.5L59.3 537.4L60.3 537.4L61.3 537.3L62.3 537.3L63.3 537.3L64.3 537.2L65.3 537.2L66.3 537.1L67.3 537L68.3 537L69.3 536.9L70.3 536.9L71.3 536.8L72.3 536.7L73.3 536.7L74.3 536.6L75.3 536.5L76.3 536.4L77.3 536.4L78.3 536.3L79.3 536.2L80.3 536.1L81.3 536L82.3 535.9L83.3 535.8L84.3 535.7L85.3 535.5L86.3 535.4L87.3 535.3L88.3 535.1L89.3 535L90.3 534.8L91.3 534.7L92.3 534.5L93.3 534.3L94.3 534.1L95.3 533.9L96.3 533.7L97.3 533.5L98.3 533.2L99.3 532.9L100.3 532.7L101.3 532.4L102.3 532.1L103.3 531.7L104.3 531.4L105.3 531L106.3 530.5L107.3 530.1L108.3 529.6L109.3 529.1L110.3 528.5L111.3 527.9L112.3 527.2L113.3 526.5L114.3 525.7L115.3 524.9L116.3 524L117.3 522.9L118.3 521.8L119.3 520.6L120.3 519.3L121.3 517.8L122.3 516.1L123.3 514.3L124.3 512.4L125.3 510.2L126.3 507.7L127.3 505.1L128.3 502.1L129.3 498.9L130.3 495.3L131.3 491.4L132.3 487.2L133.3 482.7L134.3 478L135.3 473.1L136.3 468.2L137.3 463.5L138.3 459.1L139.3 455.3L140.3 452.3L141.3 450.5L142.3 449.8L143.3 450.5L144.3 452.3L145.3 455.3L146.3 459.1L147.3 463.5L148.3 468.2L149.3 473.1L150.3 478L151.3 482.7L152.3 487.2L153.3 491.4L154.3 495.3L155.3 498.9L156.3 502.1L157.3 505.1L158.3 507.7L159.3 510.2L160.3 512.4L161.3 514.3L162.3 516.1L163.3 517.8L164.3 519.3L165.3 520.6L166.3 521.8L167.3 522.9L168.3 524L169.3 524.9L170.3 525.7L171.3 526.5L172.3 527.2L173.3 527.9L174.3 528.5L175.3 529.1L176.3 529.6L177.3 530.1L178.3 530.5L179.3 531L180.3 531.4L181.3 531.7L182.3 532.1L183.3 532.4L184.3 532.7L185.3 532.9L186.3 533.2L187.3 533.5L188.3 533.7L189.3 533.9L190.3 534.1L191.3 534.3L192.3 534.5L193.3 534.7L194.3 534.8L195.3 535L196.3 535.1L197.3 535.3L198.3 535.4L199.3 535.5L200.3 535.7L201.3 535.8L202.3 535.9L203.3 536L204.3 536.1L205.3 536.2L206.3 536.3L207.3 536.4L208.3 536.4L209.3 536.5L210.3 536.6L211.3 536.7L212.3 536.7L213.3 536.8L214.3 536.9L215.3 536.9L216.3 537L217.3 537L218.3 537.1L219.3 537.2L220.3 537.2L221.3 537.3L222.3 537.3L223.3 537.3L224.3 537.4L225.3 537.4L226.3 537.5L227.3 537.5L228.3 537.6L229.3 537.6L230.3 537.6L231.3 537.7L232.3 537.7L233.3 537.7L234.3 537.8L235.3 537.8L236.3 537.8L237.3 537.8L238.3 537.9L239.3 537.9L240.3 537.9L241.3 537.9L242.3 538L243.3 538L244.3 538L245.3 538L246.3 538.1L247.3 538.1L248.3 538.1L249.3 538.1L250.3 538.1L251.3 538.2L252.3 538.2L253.3 538.2L254.3 538.2L255.3 538.2L256.3 538.3L257.3 538.3L258.3 538.3L259.3 538.3L260.3 538.3L261.3 538.3L262.3 538.3L263.3 538.4L264.3 538.4L265.3 538.4L266.3 538.4L267.3 538.4L268.3 538.4L269.3 538.4L270.3 538.4L271.3 538.5L272.3 538.5L273.3 538.5L274.3 538.5L275.3 538.5L276.3 538.5L277.3 538.5L278.3 538.5L279.3 538.5L280.3 538.6L281.3 538.6L282.3 538.6L283.3 538.6L284.3 538.6L285.3 538.6L286.3 538.6L287.3 538.6L288.3 538.6L289.3 538.6L290.3 538.6L291.3 538.6L292.3 538.7L293.3 538.7L294.3 538.7L295.3 538.7L296.3 538.7L297.3 538.7L298.3 538.7L299.3 538.7L300.3 538.7L301.3 538.7L302.3 538.7L303.3 538.7L304.3 538.7L305.3 538.7L306.3 538.7L307.3 538.7L308.3 538.8L309.3 538.8L310.3 538.8L311.3 538.8L312.3 538.8L313.3 538.8L314.3 538.8L315.3 538.8L316.3 538.8L317.3 538.8L318.3 538.8L319.3 538.8L320.3 538.8L321.3 538.8L322.3 538.8L323.3 538.8L324.3 538.8L325.3 538.8L326.3 538.8L327.3 538.8L328.3 538.8" fill="none" stroke="#000" stroke-width="1.1" stroke-linejoin="round"/>
<path d="M56.3 536.4L57.3 536.3L58.3 536.2L59.3 536.1L60.3 536L61.3 535.9L62.3 535.8L63.3 535.6L64.3 535.5L65.3 535.4L66.3 535.2L67.3 535L68.3 534.9L69.3 534.7L70.3 534.5L71.3 534.3L72.3 534.1L73.3 533.8L74.3 533.6L75.3 533.3L76.3 533L77.3 532.7L78.3 532.4L79.3 532L80.3 531.7L81.3 531.2L82.3 530.8L83.3 530.3L84.3 529.8L85.3 529.2L86.3 528.6L87.3 527.9L88.3 527.1L89.3 526.3L90.3 525.4L91.3 524.3L92.3 523.2L93.3 522L94.3 520.6L95.3 519L96.3 517.3L97.3 515.4L98.3 513.2L99.3 510.7L100.3 507.9L101.3 504.7L102.3 501.2L103.3 497.1L104.3 492.5L105.3 487.4L106.3 481.6L107.3 475.2L108.3 468.2L109.3 460.8L110.3 453.1L111.3 445.5L112.3 438.6L113.3 432.8L114.3 428.8L115.3 427.1L116.3 427.8L117.3 431L118.3 436.1L119.3 442.6L120.3 450L121.3 457.7L122.3 465.3L123.3 472.5L124.3 479.1L125.3 485.1L126.3 490.5L127.3 495.3L128.3 499.6L129.3 503.4L130.3 506.7L131.3 509.6L132.3 512.2L133.3 514.5L134.3 516.6L135.3 518.4L136.3 520L137.3 521.4L138.3 522.7L139.3 523.9L140.3 525L141.3 525.9L142.3 526.8L143.3 527.6L144.3 528.3L145.3 528.9L146.3 529.5L147.3 530.1L148.3 530.6L149.3 531.1L150.3 531.5L151.3 531.9L152.3 532.3L153.3 532.6L154.3 532.9L155.3 533.2L156.3 533.5L157.3 533.7L158.3 534L159.3 534.2L160.3 534.4L161.3 534.6L162.3 534.8L163.3 535L164.3 535.1L165.3 535.3L166.3 535.4L167.3 535.6L168.3 535.7L169.3 535.8L170.3 536L171.3 536.1L172.3 536.2L173.3 536.3L174.3 536.4L175.3 536.5L176.3 536.6L177.3 536.6L178.3 536.7L179.3 536.8L180.3 536.9L181.3 536.9L182.3 537L183.3 537.1L184.3 537.1L185.3 537.2L186.3 537.2L187.3 537.3L188.3 537.3L189.3 537.4L190.3 537.4L191.3 537.5L192.3 537.5L193.3 537.6L194.3 537.6L195.3 537.6L196.3 537.7L197.3 537.7L198.3 537.8L199.3 537.8L200.3 537.8L201.3 537.9L202.3 537.9L203.3 537.9L204.3 537.9L205.3 538L206.3 538L207.3 538L208.3 538L209.3 538.1L210.3 538.1L211.3 538.1L212.3 538.1L213.3 538.2L214.3 538.2L215.3 538.2L216.3 538.2L217.3 538.2L218.3 538.3L219.3 538.3L220.3 538.3L221.3 538.3L222.3 538.3L223.3 538.3L224.3 538.4L225.3 538.4L226.3 538.4L227.3 538.4L228.3 538.4L229.3 538.4L230.3 538.4L231.3 538.5L232.3 538.5L233.3 538.5L234.3 538.5L235.3 538.5L236.3 538.5L237.3 538.5L238.3 538.5L239.3 538.5L240.3 538.6L241.3 538.6L242.3 538.6L243.3 538.6L244.3 538.6L245.3 538.6L246.3 538.6L247.3 538.6L248.3 538.6L249.3 538.6L250.3 538.7L251.3 538.7L252.3 538.7L253.3 538.7L254.3 538.7L255.3 538.7L256.3 538.7L257.3 538.7L258.3 538.7L259.3 538.7L260.3 538.7L261.3 538.7L262.3 538.7L263.3 538.7L264.3 538.7L265.3 538.8L266.3 538.8L267.3 538.8L268.3 538.8L269.3 538.8L270.3 538.8L271.3 538.8L272.3 538.8L273.3 538.8L274.3 538.8L275.3 538.8L276.3 538.8L277.3 538.8L278.3 538.8L279.3 538.8L280.3 538.8L281.3 538.8L282.3 538.8L283.3 538.8L284.3 538.8L285.3 538.9L286.3 538.9L287.3 538.9L288.3 538.9L289.3 538.9L290.3 538.9L291.3 538.9L292.3 538.9L293.3 538.9L294.3 538.9L295.3 538.9L296.3 538.9L297.3 538.9L298.3 538.9L299.3 538.9L300.3 538.9L301.3 538.9L302.3 538.9L303.3 538.9L304.3 538.9L305.3 538.9L306.3 538.9L307.3 538.9L308.3 538.9L309.3 538.9L310.3 538.9L311.3 538.9L312.3 538.9L313.3 538.9L314.3 538.9L315.3 538.9L316.3 539L317.3 539L318.3 539L319.3 539L320.3 539L321.3 539L322.3 539L323.3 539L324.3 539L325.3 539L326.3 539L327.3 539L328.3 539L328.5 539.2L56.3 539.2Z" fill="#aaee00"/>
<path d="M56.3 536.4L57.3 536.3L58.3 536.2L59.3 536.1L60.3 536L61.3 535.9L62.3 535.8L63.3 535.6L64.3 535.5L65.3 535.4L66.3 535.2L67.3 535L68.3 534.9L69.3 534.7L70.3 534.5L71.3 534.3L72.3 534.1L73.3 533.8L74.3 533.6L75.3 533.3L76.3 533L77.3 532.7L78.3 532.4L79.3 532L80.3 531.7L81.3 531.2L82.3 530.8L83.3 530.3L84.3 529.8L85.3 529.2L86.3 528.6L87.3 527.9L88.3 527.1L89.3 526.3L90.3 525.4L91.3 524.3L92.3 523.2L93.3 522L94.3 520.6L95.3 519L96.3 517.3L97.3 515.4L98.3 513.2L99.3 510.7L100.3 507.9L101.3 504.7L102.3 501.2L103.3 497.1L104.3 492.5L105.3 487.4L106.3 481.6L107.3 475.2L108.3 468.2L109.3 460.8L110.3 453.1L111.3 445.5L112.3 438.6L113.3 432.8L114.3 428.8L115.3 427.1L116.3 427.8L117.3 431L118.3 436.1L119.3 442.6L120.3 450L121.3 457.7L122.3 465.3L123.3 472.5L124.3 479.1L125.3 485.1L126.3 490.5L127.3 495.3L128.3 499.6L129.3 503.4L130.3 506.7L131.3 509.6L132.3 512.2L133.3 514.5L134.3 516.6L135.3 518.4L136.3 520L137.3 521.4L138.3 522.7L139.3 523.9L140.3 525L141.3 525.9L142.3 526.8L143.3 527.6L144.3 528.3L145.3 528.9L146.3 529.5L147.3 530.1L148.3 530.6L149.3 531.1L150.3 531.5L151.3 531.9L152.3 532.3L153.3 532.6L154.3 532.9L155.3 533.2L156.3 533.5L157.3 533.7L158.3 534L159.3 534.2L160.3 534.4L161.3 534.6L162.3 534.8L163.3 535L164.3 535.1L165.3 535.3L166.3 535.4L167.3 535.6L168.3 535.7L169.3 535.8L170.3 536L171.3 536.1L172.3 536.2L173.3 536.3L174.3 536.4L175.3 536.5L176.3 536.6L177.3 536.6L178.3 536.7L179.3 536.8L180.3 536.9L181.3 536.9L182.3 537L183.3 537.1L184.3 537.1L185.3 537.2L186.3 537.2L187.3 537.3L188.3 537.3L189.3 537.4L190.3 537.4L191.3 537.5L192.3 537.5L193.3 537.6L194.3 537.6L195.3 537.6L196.3 537.7L197.3 537.7L198.3 537.8L199.3 537.8L200.3 537.8L201.3 537.9L202.3 537.9L203.3 537.9L204.3 537.9L205.3 538L206.3 538L207.3 538L208.3 538L209.3 538.1L210.3 538.1L211.3 538.1L212.3 538.1L213.3 538.2L214.3 538.2L215.3 538.2L216.3 538.2L217.3 538.2L218.3 538.3L219.3 538.3L220.3 538.3L221.3 538.3L222.3 538.3L223.3 538.3L224.3 538.4L225.3 538.4L226.3 538.4L227.3 538.4L228.3 538.4L229.3 538.4L230.3 538.4L231.3 538.5L232.3 538.5L233.3 538.5L234.3 538.5L235.3 538.5L236.3 538.5L237.3 538.5L238.3 538.5L239.3 538.5L240.3 538.6L241.3 538.6L242.3 538.6L243.3 538.6L244.3 538.6L245.3 538.6L246.3 538.6L247.3 538.6L248.3 538.6L249.3 538.6L250.3 538.7L251.3 538.7L252.3 538.7L253.3 538.7L254.3 538.7L255.3 538.7L256.3 538.7L257.3 538.7L258.3 538.7L259.3 538.7L260.3 538.7L261.3 538.7L262.3 538.7L263.3 538.7L264.3 538.7L265.3 538.8L266.3 538.8L267.3 538.8L268.3 538.8L269.3 538.8L270.3 538.8L271.3 538.8L272.3 538.8L273.3 538.8L274.3 538.8L275.3 538.8L276.3 538.8L277.3 538.8L278.3 538.8L279.3 538.8L280.3 538.8L281.3 538.8L282.3 538.8L283.3 538.8L284.3 538.8L285.3 538.9L286.3 538.9L287.3 538.9L288.3 538.9L289.3 538.9L290.3 538.9L291.3 538.9L292.3 538.9L293.3 538.9L294.3 538.9L295.3 538.9L296.3 538.9L297.3 538.9L298.3 538.9L299.3 538.9L300.3 538.9L301.3 538.9L302.3 538.9L303.3 538.9L304.3 538.9L305.3 538.9L306.3 538.9L307.3 538.9L308.3 538.9L309.3 538.9L310.3 538.9L311.3 538.9L312.3 538.9L313.3 538.9L314.3 538.9L315.3 538.9L316.3 539L317.3 539L318.3 539L319.3 539L320.3 539L321.3 539L322.3 539L323.3 539L324.3 539L325.3 539L326.3 539L327.3 539L328.3 539" fill="none" stroke="#000" stroke-width="1.1" stroke-linejoin="round"/>
<path d="M56.3 535.5L57.3 535.3L58.3 535.2L59.3 535L60.3 534.8L61.3 534.6L62.3 534.4L63.3 534.1L64.3 533.9L65.3 533.6L66.3 533.3L67.3 533L68.3 532.7L69.3 532.3L70.3 531.9L71.3 531.5L72.3 531L73.3 530.5L74.3 529.9L75.3 529.3L76.3 528.6L77.3 527.8L78.3 527L79.3 526L80.3 525L81.3 523.8L82.3 522.5L83.3 521.1L84.3 519.4L85.3 517.5L86.3 515.4L87.3 512.9L88.3 510.1L89.3 506.8L90.3 503.1L91.3 498.7L92.3 493.7L93.3 487.9L94.3 481.1L95.3 473.3L96.3 464.5L97.3 454.7L98.3 444L99.3 433.1L100.3 422.5L101.3 413.5L102.3 407.3L103.3 404.8L104.3 406.5L105.3 412L106.3 420.6L107.3 430.9L108.3 441.8L109.3 452.6L110.3 462.6L111.3 471.7L112.3 479.6L113.3 486.6L114.3 492.6L115.3 497.8L116.3 502.3L117.3 506.1L118.3 509.5L119.3 512.4L120.3 514.9L121.3 517.1L122.3 519L123.3 520.7L124.3 522.3L125.3 523.6L126.3 524.8L127.3 525.8L128.3 526.8L129.3 527.7L130.3 528.4L131.3 529.1L132.3 529.8L133.3 530.3L134.3 530.9L135.3 531.4L136.3 531.8L137.3 532.2L138.3 532.6L139.3 532.9L140.3 533.3L141.3 533.5L142.3 533.8L143.3 534.1L144.3 534.3L145.3 534.5L146.3 534.7L147.3 534.9L148.3 535.1L149.3 535.3L150.3 535.5L151.3 535.6L152.3 535.7L153.3 535.9L154.3 536L155.3 536.1L156.3 536.2L157.3 536.3L158.3 536.4L159.3 536.5L160.3 536.6L161.3 536.7L162.3 536.8L163.3 536.9L164.3 537L165.3 537L166.3 537.1L167.3 537.2L168.3 537.2L169.3 537.3L170.3 537.3L171.3 537.4L172.3 537.4L173.3 537.5L174.3 537.5L175.3 537.6L176.3 537.6L177.3 537.7L178.3 537.7L179.3 537.7L180.3 537.8L181.3 537.8L182.3 537.9L183.3 537.9L184.3 537.9L185.3 537.9L186.3 538L187.3 538L188.3 538L189.3 538.1L190.3 538.1L191.3 538.1L192.3 538.1L193.3 538.2L194.3 538.2L195.3 538.2L196.3 538.2L197.3 538.2L198.3 538.3L199.3 538.3L200.3 538.3L201.3 538.3L202.3 538.3L203.3 538.4L204.3 538.4L205.3 538.4L206.3 538.4L207.3 538.4L208.3 538.4L209.3 538.4L210.3 538.5L211.3 538.5L212.3 538.5L213.3 538.5L214.3 538.5L215.3 538.5L216.3 538.5L217.3 538.6L218.3 538.6L219.3 538.6L220.3 538.6L221.3 538.6L222.3 538.6L223.3 538.6L224.3 538.6L225.3 538.6L226.3 538.6L227.3 538.7L228.3 538.7L229.3 538.7L230.3 538.7L231.3 538.7L232.3 538.7L233.3 538.7L234.3 538.7L235.3 538.7L236.3 538.7L237.3 538.7L238.3 538.7L239.3 538.7L240.3 538.7L241.3 538.8L242.3 538.8L243.3 538.8L244.3 538.8L245.3 538.8L246.3 538.8L247.3 538.8L248.3 538.8L249.3 538.8L250.3 538.8L251.3 538.8L252.3 538.8L253.3 538.8L254.3 538.8L255.3 538.8L256.3 538.8L257.3 538.8L258.3 538.8L259.3 538.9L260.3 538.9L261.3 538.9L262.3 538.9L263.3 538.9L264.3 538.9L265.3 538.9L266.3 538.9L267.3 538.9L268.3 538.9L269.3 538.9L270.3 538.9L271.3 538.9L272.3 538.9L273.3 538.9L274.3 538.9L275.3 538.9L276.3 538.9L277.3 538.9L278.3 538.9L279.3 538.9L280.3 538.9L281.3 538.9L282.3 538.9L283.3 538.9L284.3 538.9L285.3 538.9L286.3 538.9L287.3 538.9L288.3 539L289.3 539L290.3 539L291.3 539L292.3 539L293.3 539L294.3 539L295.3 539L296.3 539L297.3 539L298.3 539L299.3 539L300.3 539L301.3 539L302.3 539L303.3 539L304.3 539L305.3 539L306.3 539L307.3 539L308.3 539L309.3 539L310.3 539L311.3 539L312.3 539L313.3 539L314.3 539L315.3 539L316.3 539L317.3 539L318.3 539L319.3 539L320.3 539L321.3 539L322.3 539L323.3 539L324.3 539L325.3 539L326.3 539L327.3 539L328.3 539L328.5 539.2L56.3 539.2Z" fill="#ffaa00"/>
<path d="M56.3 535.5L57.3 535.3L58.3 535.2L59.3 535L60.3 534.8L61.3 534.6L62.3 534.4L63.3 534.1L64.3 533.9L65.3 533.6L66.3 533.3L67.3 533L68.3 532.7L69.3 532.3L70.3 531.9L71.3 531.5L72.3 531L73.3 530.5L74.3 529.9L75.3 529.3L76.3 528.6L77.3 527.8L78.3 527L79.3 526L80.3 525L81.3 523.8L82.3 522.5L83.3 521.1L84.3 519.4L85.3 517.5L86.3 515.4L87.3 512.9L88.3 510.1L89.3 506.8L90.3 503.1L91.3 498.7L92.3 493.7L93.3 487.9L94.3 481.1L95.3 473.3L96.3 464.5L97.3 454.7L98.3 444L99.3 433.1L100.3 422.5L101.3 413.5L102.3 407.3L103.3 404.8L104.3 406.5L105.3 412L106.3 420.6L107.3 430.9L108.3 441.8L109.3 452.6L110.3 462.6L111.3 471.7L112.3 479.6L113.3 486.6L114.3 492.6L115.3 497.8L116.3 502.3L117.3 506.1L118.3 509.5L119.3 512.4L120.3 514.9L121.3 517.1L122.3 519L123.3 520.7L124.3 522.3L125.3 523.6L126.3 524.8L127.3 525.8L128.3 526.8L129.3 527.7L130.3 528.4L131.3 529.1L132.3 529.8L133.3 530.3L134.3 530.9L135.3 531.4L136.3 531.8L137.3 532.2L138.3 532.6L139.3 532.9L140.3 533.3L141.3 533.5L142.3 533.8L143.3 534.1L144.3 534.3L145.3 534.5L146.3 534.7L147.3 534.9L148.3 535.1L149.3 535.3L150.3 535.5L151.3 535.6L152.3 535.7L153.3 535.9L154.3 536L155.3 536.1L156.3 536.2L157.3 536.3L158.3 536.4L159.3 536.5L160.3 536.6L161.3 536.7L162.3 536.8L163.3 536.9L164.3 537L165.3 537L166.3 537.1L167.3 537.2L168.3 537.2L169.3 537.3L170.3 537.3L171.3 537.4L172.3 537.4L173.3 537.5L174.3 537.5L175.3 537.6L176.3 537.6L177.3 537.7L178.3 537.7L179.3 537.7L180.3 537.8L181.3 537.8L182.3 537.9L183.3 537.9L184.3 537.9L185.3 537.9L186.3 538L187.3 538L188.3 538L189.3 538.1L190.3 538.1L191.3 538.1L192.3 538.1L193.3 538.2L194.3 538.2L195.3 538.2L196.3 538.2L197.3 538.2L198.3 538.3L199.3 538.3L200.3 538.3L201.3 538.3L202.3 538.3L203.3 538.4L204.3 538.4L205.3 538.4L206.3 538.4L207.3 538.4L208.3 538.4L209.3 538.4L210.3 538.5L211.3 538.5L212.3 538.5L213.3 538.5L214.3 538.5L215.3 538.5L216.3 538.5L217.3 538.6L218.3 538.6L219.3 538.6L220.3 538.6L221.3 538.6L222.3 538.6L223.3 538.6L224.3 538.6L225.3 538.6L226.3 538.6L227.3 538.7L228.3 538.7L229.3 538.7L230.3 538.7L231.3 538.7L232.3 538.7L233.3 538.7L234.3 538.7L235.3 538.7L236.3 538.7L237.3 538.7L238.3 538.7L239.3 538.7L240.3 538.7L241.3 538.8L242.3 538.8L243.3 538.8L244.3 538.8L245.3 538.8L246.3 538.8L247.3 538.8L248.3 538.8L249.3 538.8L250.3 538.8L251.3 538.8L252.3 538.8L253.3 538.8L254.3 538.8L255.3 538.8L256.3 538.8L257.3 538.8L258.3 538.8L259.3 538.9L260.3 538.9L261.3 538.9L262.3 538.9L263.3 538.9L264.3 538.9L265.3 538.9L266.3 538.9L267.3 538.9L268.3 538.9L269.3 538.9L270.3 538.9L271.3 538.9L272.3 538.9L273.3 538.9L274.3 538.9L275.3 538.9L276.3 538.9L277.3 538.9L278.3 538.9L279.3 538.9L280.3 538.9L281.3 538.9L282.3 538.9L283.3 538.9L284.3 538.9L285.3 538.9L286.3 538.9L287.3 538.9L288.3 539L289.3 539L290.3 539L291.3 539L292.3 539L293.3 539L294.3 539L295.3 539L296.3 539L297.3 539L298.3 539L299.3 539L300.3 539L301.3 539L302.3 539L303.3 539L304.3 539L305.3 539L306.3 539L307.3 539L308.3 539L309.3 539L310.3 539L311.3 539L312.3 539L313.3 539L314.3 539L315.3 539L316.3 539L317.3 539L318.3 539L319.3 539L320.3 539L321.3 539L322.3 539L323.3 539L324.3 539L325.3 539L326.3 539L327.3 539L328.3 539" fill="none" stroke="#000" stroke-width="1.1" stroke-linejoin="round"/>
<path d="M56.3 535.2L57.3 535L58.3 534.8L59.3 534.6L60.3 534.4L61.3 534.1L62.3 533.8L63.3 533.5L64.3 533.2L65.3 532.8L66.3 532.4L67.3 532L68.3 531.5L69.3 530.9L70.3 530.4L71.3 529.7L72.3 529L73.3 528.2L74.3 527.3L75.3 526.2L76.3 525.1L77.3 523.8L78.3 522.3L79.3 520.6L80.3 518.6L81.3 516.3L82.3 513.7L83.3 510.5L84.3 506.9L85.3 502.5L86.3 497.3L87.3 491.1L88.3 483.6L89.3 474.6L90.3 463.8L91.3 450.9L92.3 436.1L93.3 419.5L94.3 402.3L95.3 386.4L96.3 374.7L97.3 369.8L98.3 373.1L99.3 383.6L100.3 398.9L101.3 416.1L102.3 432.9L103.3 448.1L104.3 461.4L105.3 472.6L106.3 481.9L107.3 489.7L108.3 496.2L109.3 501.5L110.3 506.1L111.3 509.9L112.3 513.1L113.3 515.8L114.3 518.2L115.3 520.2L116.3 522L117.3 523.5L118.3 524.8L119.3 526L120.3 527.1L121.3 528L122.3 528.8L123.3 529.6L124.3 530.2L125.3 530.8L126.3 531.4L127.3 531.9L128.3 532.3L129.3 532.7L130.3 533.1L131.3 533.4L132.3 533.8L133.3 534L134.3 534.3L135.3 534.6L136.3 534.8L137.3 535L138.3 535.2L139.3 535.4L140.3 535.6L141.3 535.7L142.3 535.9L143.3 536L144.3 536.1L145.3 536.3L146.3 536.4L147.3 536.5L148.3 536.6L149.3 536.7L150.3 536.8L151.3 536.9L152.3 537L153.3 537L154.3 537.1L155.3 537.2L156.3 537.2L157.3 537.3L158.3 537.4L159.3 537.4L160.3 537.5L161.3 537.5L162.3 537.6L163.3 537.6L164.3 537.7L165.3 537.7L166.3 537.8L167.3 537.8L168.3 537.8L169.3 537.9L170.3 537.9L171.3 538L172.3 538L173.3 538L174.3 538L175.3 538.1L176.3 538.1L177.3 538.1L178.3 538.2L179.3 538.2L180.3 538.2L181.3 538.2L182.3 538.3L183.3 538.3L184.3 538.3L185.3 538.3L186.3 538.3L187.3 538.4L188.3 538.4L189.3 538.4L190.3 538.4L191.3 538.4L192.3 538.4L193.3 538.5L194.3 538.5L195.3 538.5L196.3 538.5L197.3 538.5L198.3 538.5L199.3 538.5L200.3 538.6L201.3 538.6L202.3 538.6L203.3 538.6L204.3 538.6L205.3 538.6L206.3 538.6L207.3 538.6L208.3 538.6L209.3 538.7L210.3 538.7L211.3 538.7L212.3 538.7L213.3 538.7L214.3 538.7L215.3 538.7L216.3 538.7L217.3 538.7L218.3 538.7L219.3 538.7L220.3 538.7L221.3 538.8L222.3 538.8L223.3 538.8L224.3 538.8L225.3 538.8L226.3 538.8L227.3 538.8L228.3 538.8L229.3 538.8L230.3 538.8L231.3 538.8L232.3 538.8L233.3 538.8L234.3 538.8L235.3 538.8L236.3 538.8L237.3 538.9L238.3 538.9L239.3 538.9L240.3 538.9L241.3 538.9L242.3 538.9L243.3 538.9L244.3 538.9L245.3 538.9L246.3 538.9L247.3 538.9L248.3 538.9L249.3 538.9L250.3 538.9L251.3 538.9L252.3 538.9L253.3 538.9L254.3 538.9L255.3 538.9L256.3 538.9L257.3 538.9L258.3 538.9L259.3 538.9L260.3 538.9L261.3 538.9L262.3 538.9L263.3 539L264.3 539L265.3 539L266.3 539L267.3 539L268.3 539L269.3 539L270.3 539L271.3 539L272.3 539L273.3 539L274.3 539L275.3 539L276.3 539L277.3 539L278.3 539L279.3 539L280.3 539L281.3 539L282.3 539L283.3 539L284.3 539L285.3 539L286.3 539L287.3 539L288.3 539L289.3 539L290.3 539L291.3 539L292.3 539L293.3 539L294.3 539L295.3 539L296.3 539L297.3 539L298.3 539L299.3 539L300.3 539L301.3 539L302.3 539L303.3 539L304.3 539L305.3 539L306.3 539L307.3 539L308.3 539L309.3 539L310.3 539L311.3 539.1L312.3 539.1L313.3 539.1L314.3 539.1L315.3 539.1L316.3 539.1L317.3 539.1L318.3 539.1L319.3 539.1L320.3 539.1L321.3 539.1L322.3 539.1L323.3 539.1L324.3 539.1L325.3 539.1L326.3 539.1L327.3 539.1L328.3 539.1L328.5 539.2L56.3 539.2Z" fill="#ff5500"/>
<path d="M56.3 535.2L57.3 535L58.3 534.8L59.3 534.6L60.3 534.4L61.3 534.1L62.3 533.8L63.3 533.5L64.3 533.2L65.3 532.8L66.3 532.4L67.3 532L68.3 531.5L69.3 530.9L70.3 530.4L71.3 529.7L72.3 529L73.3 528.2L74.3 527.3L75.3 526.2L76.3 525.1L77.3 523.8L78.3 522.3L79.3 520.6L80.3 518.6L81.3 516.3L82.3 513.7L83.3 510.5L84.3 506.9L85.3 502.5L86.3 497.3L87.3 491.1L88.3 483.6L89.3 474.6L90.3 463.8L91.3 450.9L92.3 436.1L93.3 419.5L94.3 402.3L95.3 386.4L96.3 374.7L97.3 369.8L98.3 373.1L99.3 383.6L100.3 398.9L101.3 416.1L102.3 432.9L103.3 448.1L104.3 461.4L105.3 472.6L106.3 481.9L107.3 489.7L108.3 496.2L109.3 501.5L110.3 506.1L111.3 509.9L112.3 513.1L113.3 515.8L114.3 518.2L115.3 520.2L116.3 522L117.3 523.5L118.3 524.8L119.3 526L120.3 527.1L121.3 528L122.3 528.8L123.3 529.6L124.3 530.2L125.3 530.8L126.3 531.4L127.3 531.9L128.3 532.3L129.3 532.7L130.3 533.1L131.3 533.4L132.3 533.8L133.3 534L134.3 534.3L135.3 534.6L136.3 534.8L137.3 535L138.3 535.2L139.3 535.4L140.3 535.6L141.3 535.7L142.3 535.9L143.3 536L144.3 536.1L145.3 536.3L146.3 536.4L147.3 536.5L148.3 536.6L149.3 536.7L150.3 536.8L151.3 536.9L152.3 537L153.3 537L154.3 537.1L155.3 537.2L156.3 537.2L157.3 537.3L158.3 537.4L159.3 537.4L160.3 537.5L161.3 537.5L162.3 537.6L163.3 537.6L164.3 537.7L165.3 537.7L166.3 537.8L167.3 537.8L168.3 537.8L169.3 537.9L170.3 537.9L171.3 538L172.3 538L173.3 538L174.3 538L175.3 538.1L176.3 538.1L177.3 538.1L178.3 538.2L179.3 538.2L180.3 538.2L181.3 538.2L182.3 538.3L183.3 538.3L184.3 538.3L185.3 538.3L186.3 538.3L187.3 538.4L188.3 538.4L189.3 538.4L190.3 538.4L191.3 538.4L192.3 538.4L193.3 538.5L194.3 538.5L195.3 538.5L196.3 538.5L197.3 538.5L198.3 538.5L199.3 538.5L200.3 538.6L201.3 538.6L202.3 538.6L203.3 538.6L204.3 538.6L205.3 538.6L206.3 538.6L207.3 538.6L208.3 538.6L209.3 538.7L210.3 538.7L211.3 538.7L212.3 538.7L213.3 538.7L214.3 538.7L215.3 538.7L216.3 538.7L217.3 538.7L218.3 538.7L219.3 538.7L220.3 538.7L221.3 538.8L222.3 538.8L223.3 538.8L224.3 538.8L225.3 538.8L226.3 538.8L227.3 538.8L228.3 538.8L229.3 538.8L230.3 538.8L231.3 538.8L232.3 538.8L233.3 538.8L234.3 538.8L235.3 538.8L236.3 538.8L237.3 538.9L238.3 538.9L239.3 538.9L240.3 538.9L241.3 538.9L242.3 538.9L243.3 538.9L244.3 538.9L245.3 538.9L246.3 538.9L247.3 538.9L248.3 538.9L249.3 538.9L250.3 538.9L251.3 538.9L252.3 538.9L253.3 538.9L254.3 538.9L255.3 538.9L256.3 538.9L257.3 538.9L258.3 538.9L259.3 538.9L260.3 538.9L261.3 538.9L262.3 538.9L263.3 539L264.3 539L265.3 539L266.3 539L267.3 539L268.3 539L269.3 539L270.3 539L271.3 539L272.3 539L273.3 539L274.3 539L275.3 539L276.3 539L277.3 539L278.3 539L279.3 539L280.3 539L281.3 539L282.3 539L283.3 539L284.3 539L285.3 539L286.3 539L287.3 539L288.3 539L289.3 539L290.3 539L291.3 539L292.3 539L293.3 539L294.3 539L295.3 539L296.3 539L297.3 539L298.3 539L299.3 539L300.3 539L301.3 539L302.3 539L303.3 539L304.3 539L305.3 539L306.3 539L307.3 539L308.3 539L309.3 539L310.3 539L311.3 539.1L312.3 539.1L313.3 539.1L314.3 539.1L315.3 539.1L316.3 539.1L317.3 539.1L318.3 539.1L319.3 539.1L320.3 539.1L321.3 539.1L322.3 539.1L323.3 539.1L324.3 539.1L325.3 539.1L326.3 539.1L327.3 539.1L328.3 539.1" fill="none" stroke="#000" stroke-width="1.1" stroke-linejoin="round"/>
<path d="M56.3 534.8L57.3 534.6L58.3 534.3L59.3 534L60.3 533.7L61.3 533.3L62.3 532.9L63.3 532.5L64.3 532L65.3 531.5L66.3 531L67.3 530.3L68.3 529.6L69.3 528.8L70.3 527.9L71.3 526.8L72.3 525.7L73.3 524.3L74.3 522.8L75.3 521L76.3 518.9L77.3 516.4L78.3 513.5L79.3 510L80.3 505.8L81.3 500.7L82.3 494.5L83.3 486.8L84.3 477.3L85.3 465.4L86.3 450.7L87.3 432.7L88.3 411.4L89.3 387.6L90.3 364L91.3 345.4L92.3 337.4L93.3 342.8L94.3 359.7L95.3 382.7L96.3 406.8L97.3 428.7L98.3 447.4L99.3 462.7L100.3 475.1L101.3 485.1L102.3 493.1L103.3 499.6L104.3 504.9L105.3 509.2L106.3 512.8L107.3 515.9L108.3 518.4L109.3 520.6L110.3 522.4L111.3 524L112.3 525.4L113.3 526.6L114.3 527.7L115.3 528.6L116.3 529.4L117.3 530.2L118.3 530.8L119.3 531.4L120.3 531.9L121.3 532.4L122.3 532.9L123.3 533.2L124.3 533.6L125.3 533.9L126.3 534.2L127.3 534.5L128.3 534.8L129.3 535L130.3 535.2L131.3 535.4L132.3 535.6L133.3 535.8L134.3 535.9L135.3 536.1L136.3 536.2L137.3 536.3L138.3 536.5L139.3 536.6L140.3 536.7L141.3 536.8L142.3 536.9L143.3 537L144.3 537L145.3 537.1L146.3 537.2L147.3 537.3L148.3 537.3L149.3 537.4L150.3 537.5L151.3 537.5L152.3 537.6L153.3 537.6L154.3 537.7L155.3 537.7L156.3 537.8L157.3 537.8L158.3 537.9L159.3 537.9L160.3 537.9L161.3 538L162.3 538L163.3 538L164.3 538.1L165.3 538.1L166.3 538.1L167.3 538.2L168.3 538.2L169.3 538.2L170.3 538.2L171.3 538.3L172.3 538.3L173.3 538.3L174.3 538.3L175.3 538.4L176.3 538.4L177.3 538.4L178.3 538.4L179.3 538.4L180.3 538.4L181.3 538.5L182.3 538.5L183.3 538.5L184.3 538.5L185.3 538.5L186.3 538.5L187.3 538.6L188.3 538.6L189.3 538.6L190.3 538.6L191.3 538.6L192.3 538.6L193.3 538.6L194.3 538.6L195.3 538.6L196.3 538.7L197.3 538.7L198.3 538.7L199.3 538.7L200.3 538.7L201.3 538.7L202.3 538.7L203.3 538.7L204.3 538.7L205.3 538.7L206.3 538.7L207.3 538.8L208.3 538.8L209.3 538.8L210.3 538.8L211.3 538.8L212.3 538.8L213.3 538.8L214.3 538.8L215.3 538.8L216.3 538.8L217.3 538.8L218.3 538.8L219.3 538.8L220.3 538.8L221.3 538.8L222.3 538.9L223.3 538.9L224.3 538.9L225.3 538.9L226.3 538.9L227.3 538.9L228.3 538.9L229.3 538.9L230.3 538.9L231.3 538.9L232.3 538.9L233.3 538.9L234.3 538.9L235.3 538.9L236.3 538.9L237.3 538.9L238.3 538.9L239.3 538.9L240.3 538.9L241.3 538.9L242.3 538.9L243.3 538.9L244.3 538.9L245.3 538.9L246.3 539L247.3 539L248.3 539L249.3 539L250.3 539L251.3 539L252.3 539L253.3 539L254.3 539L255.3 539L256.3 539L257.3 539L258.3 539L259.3 539L260.3 539L261.3 539L262.3 539L263.3 539L264.3 539L265.3 539L266.3 539L267.3 539L268.3 539L269.3 539L270.3 539L271.3 539L272.3 539L273.3 539L274.3 539L275.3 539L276.3 539L277.3 539L278.3 539L279.3 539L280.3 539L281.3 539L282.3 539L283.3 539L284.3 539L285.3 539L286.3 539L287.3 539L288.3 539L289.3 539L290.3 539.1L291.3 539.1L292.3 539.1L293.3 539.1L294.3 539.1L295.3 539.1L296.3 539.1L297.3 539.1L298.3 539.1L299.3 539.1L300.3 539.1L301.3 539.1L302.3 539.1L303.3 539.1L304.3 539.1L305.3 539.1L306.3 539.1L307.3 539.1L308.3 539.1L309.3 539.1L310.3 539.1L311.3 539.1L312.3 539.1L313.3 539.1L314.3 539.1L315.3 539.1L316.3 539.1L317.3 539.1L318.3 539.1L319.3 539.1L320.3 539.1L321.3 539.1L322.3 539.1L323.3 539.1L324.3 539.1L325.3 539.1L326.3 539.1L327.3 539.1L328.3 539.1L328.5 539.2L56.3 539.2Z" fill="#ff0000"/>
<path d="M56.3 534.8L57.3 534.6L58.3 534.3L59.3 534L60.3 533.7L61.3 533.3L62.3 532.9L63.3 532.5L64.3 532L65.3 531.5L66.3 531L67.3 530.3L68.3 529.6L69.3 528.8L70.3 527.9L71.3 526.8L72.3 525.7L73.3 524.3L74.3 522.8L75.3 521L76.3 518.9L77.3 516.4L78.3 513.5L79.3 510L80.3 505.8L81.3 500.7L82.3 494.5L83.3 486.8L84.3 477.3L85.3 465.4L86.3 450.7L87.3 432.7L88.3 411.4L89.3 387.6L90.3 364L91.3 345.4L92.3 337.4L93.3 342.8L94.3 359.7L95.3 382.7L96.3 406.8L97.3 428.7L98.3 447.4L99.3 462.7L100.3 475.1L101.3 485.1L102.3 493.1L103.3 499.6L104.3 504.9L105.3 509.2L106.3 512.8L107.3 515.9L108.3 518.4L109.3 520.6L110.3 522.4L111.3 524L112.3 525.4L113.3 526.6L114.3 527.7L115.3 528.6L116.3 529.4L117.3 530.2L118.3 530.8L119.3 531.4L120.3 531.9L121.3 532.4L122.3 532.9L123.3 533.2L124.3 533.6L125.3 533.9L126.3 534.2L127.3 534.5L128.3 534.8L129.3 535L130.3 535.2L131.3 535.4L132.3 535.6L133.3 535.8L134.3 535.9L135.3 536.1L136.3 536.2L137.3 536.3L138.3 536.5L139.3 536.6L140.3 536.7L141.3 536.8L142.3 536.9L143.3 537L144.3 537L145.3 537.1L146.3 537.2L147.3 537.3L148.3 537.3L149.3 537.4L150.3 537.5L151.3 537.5L152.3 537.6L153.3 537.6L154.3 537.7L155.3 537.7L156.3 537.8L157.3 537.8L158.3 537.9L159.3 537.9L160.3 537.9L161.3 538L162.3 538L163.3 538L164.3 538.1L165.3 538.1L166.3 538.1L167.3 538.2L168.3 538.2L169.3 538.2L170.3 538.2L171.3 538.3L172.3 538.3L173.3 538.3L174.3 538.3L175.3 538.4L176.3 538.4L177.3 538.4L178.3 538.4L179.3 538.4L180.3 538.4L181.3 538.5L182.3 538.5L183.3 538.5L184.3 538.5L185.3 538.5L186.3 538.5L187.3 538.6L188.3 538.6L189.3 538.6L190.3 538.6L191.3 538.6L192.3 538.6L193.3 538.6L194.3 538.6L195.3 538.6L196.3 538.7L197.3 538.7L198.3 538.7L199.3 538.7L200.3 538.7L201.3 538.7L202.3 538.7L203.3 538.7L204.3 538.7L205.3 538.7L206.3 538.7L207.3 538.8L208.3 538.8L209.3 538.8L210.3 538.8L211.3 538.8L212.3 538.8L213.3 538.8L214.3 538.8L215.3 538.8L216.3 538.8L217.3 538.8L218.3 538.8L219.3 538.8L220.3 538.8L221.3 538.8L222.3 538.9L223.3 538.9L224.3 538.9L225.3 538.9L226.3 538.9L227.3 538.9L228.3 538.9L229.3 538.9L230.3 538.9L231.3 538.9L232.3 538.9L233.3 538.9L234.3 538.9L235.3 538.9L236.3 538.9L237.3 538.9L238.3 538.9L239.3 538.9L240.3 538.9L241.3 538.9L242.3 538.9L243.3 538.9L244.3 538.9L245.3 538.9L246.3 539L247.3 539L248.3 539L249.3 539L250.3 539L251.3 539L252.3 539L253.3 539L254.3 539L255.3 539L256.3 539L257.3 539L258.3 539L259.3 539L260.3 539L261.3 539L262.3 539L263.3 539L264.3 539L265.3 539L266.3 539L267.3 539L268.3 539L269.3 539L270.3 539L271.3 539L272.3 539L273.3 539L274.3 539L275.3 539L276.3 539L277.3 539L278.3 539L279.3 539L280.3 539L281.3 539L282.3 539L283.3 539L284.3 539L285.3 539L286.3 539L287.3 539L288.3 539L289.3 539L290.3 539.1L291.3 539.1L292.3 539.1L293.3 539.1L294.3 539.1L295.3 539.1L296.3 539.1L297.3 539.1L298.3 539.1L299.3 539.1L300.3 539.1L301.3 539.1L302.3 539.1L303.3 539.1L304.3 539.1L305.3 539.1L306.3 539.1L307.3 539.1L308.3 539.1L309.3 539.1L310.3 539.1L311.3 539.1L312.3 539.1L313.3 539.1L314.3 539.1L315.3 539.1L316.3 539.1L317.3 539.1L318.3 539.1L319.3 539.1L320.3 539.1L321.3 539.1L322.3 539.1L323.3 539.1L324.3 539.1L325.3 539.1L326.3 539.1L327.3 539.1L328.3 539.1" fill="none" stroke="#000" stroke-width="1.1" stroke-linejoin="round"/>
<rect x="255.8" y="327.1" width="27" height="13.4" fill="#ff0000" stroke="rgba(0,0,0,0.45)" stroke-width="0.8"/>
<text x="287.5" y="337.9" font-size="10" text-anchor="start" >–10 V</text>
<rect x="255.8" y="342.5" width="27" height="13.4" fill="#ff5500" stroke="rgba(0,0,0,0.45)" stroke-width="0.8"/>
<text x="287.5" y="353.3" font-size="10" text-anchor="start" >–9.5 V</text>
<rect x="255.8" y="357.8" width="27" height="13.4" fill="#ffaa00" stroke="rgba(0,0,0,0.45)" stroke-width="0.8"/>
<text x="287.5" y="368.6" font-size="10" text-anchor="start" >–9.0 V</text>
<rect x="255.8" y="373.2" width="27" height="13.4" fill="#aaee00" stroke="rgba(0,0,0,0.45)" stroke-width="0.8"/>
<text x="287.5" y="384" font-size="10" text-anchor="start" >–8.0 V</text>
<rect x="255.8" y="388.6" width="27" height="13.4" fill="#00f033" stroke="rgba(0,0,0,0.45)" stroke-width="0.8"/>
<text x="287.5" y="399.4" font-size="10" text-anchor="start" >–7.0 V</text>
<rect x="255.8" y="404" width="27" height="13.4" fill="#00ffff" stroke="rgba(0,0,0,0.45)" stroke-width="0.8"/>
<text x="287.5" y="414.8" font-size="10" text-anchor="start" >–6.5 V</text>
<rect x="255.8" y="419.3" width="27" height="13.4" fill="#0099ff" stroke="rgba(0,0,0,0.45)" stroke-width="0.8"/>
<text x="287.5" y="430.1" font-size="10" text-anchor="start" >–5.0 V</text>
<rect x="255.8" y="434.7" width="27" height="13.4" fill="#2244ff" stroke="rgba(0,0,0,0.45)" stroke-width="0.8"/>
<text x="287.5" y="445.5" font-size="10" text-anchor="start" >–4.5 V</text>
<rect x="255.8" y="450.1" width="27" height="13.4" fill="#5500ff" stroke="rgba(0,0,0,0.45)" stroke-width="0.8"/>
<text x="287.5" y="460.9" font-size="10" text-anchor="start" >–4.0 V</text>
<rect x="56.3" y="316.4" width="272.2" height="222.8" fill="none" stroke="#000" stroke-width="1.3"/>
<path d="M67.9 539.2v-4.5M67.9 316.4v4.5M198.3 539.2v-4.5M198.3 316.4v4.5M274.6 539.2v-4.5M274.6 316.4v4.5M328.7 539.2v-4.5M328.7 316.4v4.5" stroke="#000" stroke-width="1.1" fill="none"/>
<path d="M87.7 539.2v-2.5M87.7 316.4v2.5M105.7 539.2v-2.5M105.7 316.4v2.5M122 539.2v-2.5M122 316.4v2.5M137.1 539.2v-2.5M137.1 316.4v2.5M151 539.2v-2.5M151 316.4v2.5M164 539.2v-2.5M164 316.4v2.5M176.1 539.2v-2.5M176.1 316.4v2.5M187.6 539.2v-2.5M187.6 316.4v2.5M208.5 539.2v-2.5M208.5 316.4v2.5M218.1 539.2v-2.5M218.1 316.4v2.5M227.3 539.2v-2.5M227.3 316.4v2.5M236.1 539.2v-2.5M236.1 316.4v2.5M244.4 539.2v-2.5M244.4 316.4v2.5M252.4 539.2v-2.5M252.4 316.4v2.5M260.1 539.2v-2.5M260.1 316.4v2.5M267.5 539.2v-2.5M267.5 316.4v2.5M281.4 539.2v-2.5M281.4 316.4v2.5M288 539.2v-2.5M288 316.4v2.5M294.4 539.2v-2.5M294.4 316.4v2.5M300.6 539.2v-2.5M300.6 316.4v2.5M306.6 539.2v-2.5M306.6 316.4v2.5M312.3 539.2v-2.5M312.3 316.4v2.5M318 539.2v-2.5M318 316.4v2.5M323.4 539.2v-2.5M323.4 316.4v2.5" stroke="#000" stroke-width="1.1" fill="none"/>
<path d="M56.3 539.2h4.5M328.5 539.2h-4.5M56.3 504.9h4.5M328.5 504.9h-4.5M56.3 470.6h4.5M328.5 470.6h-4.5M56.3 436.3h4.5M328.5 436.3h-4.5M56.3 402h4.5M328.5 402h-4.5M56.3 367.7h4.5M328.5 367.7h-4.5M56.3 333.4h4.5M328.5 333.4h-4.5" stroke="#000" stroke-width="1.1" fill="none"/>
<path d="M56.3 522.1h2.5M328.5 522.1h-2.5M56.3 487.8h2.5M328.5 487.8h-2.5M56.3 453.5h2.5M328.5 453.5h-2.5M56.3 419.2h2.5M328.5 419.2h-2.5M56.3 384.9h2.5M328.5 384.9h-2.5M56.3 350.6h2.5M328.5 350.6h-2.5" stroke="#000" stroke-width="1.1" fill="none"/>
<text x="67.9" y="556.8" font-size="14.8" text-anchor="middle" >0.5</text>
<text x="198.3" y="556.8" font-size="14.8" text-anchor="middle" >1</text>
<text x="274.6" y="556.8" font-size="14.8" text-anchor="middle" >1.5</text>
<text x="328.7" y="556.8" font-size="14.8" text-anchor="middle" >2</text>
<text x="48.6" y="543.8" font-size="14.8" text-anchor="end" >0</text>
<text x="48.6" y="509.5" font-size="14.8" text-anchor="end" >2</text>
<text x="48.6" y="475.2" font-size="14.8" text-anchor="end" >4</text>
<text x="48.6" y="440.9" font-size="14.8" text-anchor="end" >6</text>
<text x="48.6" y="406.6" font-size="14.8" text-anchor="end" >8</text>
<text x="48.6" y="372.3" font-size="14.8" text-anchor="end" >10</text>
<text x="48.6" y="338" font-size="14.8" text-anchor="end" >12</text>
<text x="192.3" y="581.2" font-size="14.9" text-anchor="middle" >Switching time (ns)</text>
<text transform="translate(17.8,427.6) rotate(-90)" font-size="14.9" text-anchor="middle">Distribution amplitude (a.u.)</text>
<rect x="429.8" y="508.2" width="8.4" height="8.4" fill="#ff0000"/>
<rect x="437.8" y="503.1" width="8.4" height="8.4" fill="#ff4040"/>
<rect x="446.6" y="496.6" width="8.4" height="8.4" fill="#e6b030"/>
<rect x="467.5" y="483.3" width="8.4" height="8.4" fill="#99e033"/>
<rect x="494.4" y="454.8" width="8.4" height="8.4" fill="#00ee00"/>
<rect x="511.1" y="434.6" width="8.4" height="8.4" fill="#00ffff"/>
<rect x="580.8" y="410.2" width="8.4" height="8.4" fill="#44bbff"/>
<rect x="614.3" y="377.5" width="8.4" height="8.4" fill="#2244ff"/>
<rect x="656.2" y="331.5" width="8.4" height="8.4" fill="#6600dd"/>
<rect x="409.2" y="316.3" width="272.3" height="222.8" fill="none" stroke="#000" stroke-width="1.3"/>
<path d="M409.2 539.1v-4.5M409.2 316.3v4.5M472 539.1v-4.5M472 316.3v4.5M534.8 539.1v-4.5M534.8 316.3v4.5M597.6 539.1v-4.5M597.6 316.3v4.5M660.4 539.1v-4.5M660.4 316.3v4.5" stroke="#000" stroke-width="1.1" fill="none"/>
<path d="M430.1 539.1v-2.5M430.1 316.3v2.5M451.1 539.1v-2.5M451.1 316.3v2.5M492.9 539.1v-2.5M492.9 316.3v2.5M513.9 539.1v-2.5M513.9 316.3v2.5M555.7 539.1v-2.5M555.7 316.3v2.5M576.7 539.1v-2.5M576.7 316.3v2.5M618.5 539.1v-2.5M618.5 316.3v2.5M639.5 539.1v-2.5M639.5 316.3v2.5" stroke="#000" stroke-width="1.1" fill="none"/>
<path d="M409.2 502.1h4.5M681.5 502.1h-4.5M409.2 443.8h4.5M681.5 443.8h-4.5M409.2 398.5h4.5M681.5 398.5h-4.5M409.2 361.5h4.5M681.5 361.5h-4.5M409.2 330.3h4.5M681.5 330.3h-4.5" stroke="#000" stroke-width="1.1" fill="none"/>
<path d="M409.2 531.1h2.5M681.5 531.1h-2.5M409.2 516.1h2.5M681.5 516.1h-2.5M409.2 489h2.5M681.5 489h-2.5M409.2 476.7h2.5M681.5 476.7h-2.5M409.2 465.1h2.5M681.5 465.1h-2.5M409.2 454.2h2.5M681.5 454.2h-2.5M409.2 433.9h2.5M681.5 433.9h-2.5M409.2 424.4h2.5M681.5 424.4h-2.5M409.2 415.4h2.5M681.5 415.4h-2.5M409.2 406.8h2.5M681.5 406.8h-2.5M409.2 390.6h2.5M681.5 390.6h-2.5M409.2 382.9h2.5M681.5 382.9h-2.5M409.2 375.5h2.5M681.5 375.5h-2.5M409.2 368.4h2.5M681.5 368.4h-2.5M409.2 354.9h2.5M681.5 354.9h-2.5M409.2 348.5h2.5M681.5 348.5h-2.5M409.2 342.2h2.5M681.5 342.2h-2.5M409.2 336.2h2.5M681.5 336.2h-2.5M409.2 324.6h2.5M681.5 324.6h-2.5M409.2 319h2.5M681.5 319h-2.5" stroke="#000" stroke-width="1.1" fill="none"/>
<line x1="409.2" y1="529.9" x2="681.5" y2="328.0" stroke="#ff0000" stroke-width="1.7"/>
<text x="409.2" y="556.4" font-size="14.8" text-anchor="middle" >0.2</text>
<text x="472" y="556.4" font-size="14.8" text-anchor="middle" >0.3</text>
<text x="534.8" y="556.4" font-size="14.8" text-anchor="middle" >0.4</text>
<text x="597.6" y="556.4" font-size="14.8" text-anchor="middle" >0.5</text>
<text x="660.4" y="556.4" font-size="14.8" text-anchor="middle" >0.6</text>
<text x="401.2" y="507.2" font-size="14.8" text-anchor="end" >0.6</text>
<text x="401.2" y="448.9" font-size="14.8" text-anchor="end" >0.8</text>
<text x="401.2" y="403.6" font-size="14.8" text-anchor="end" >1</text>
<text x="401.2" y="366.6" font-size="14.8" text-anchor="end" >1.2</text>
<text x="401.2" y="335.4" font-size="14.8" text-anchor="end" >1.4</text>
<text x="544.9" y="580.3" font-size="15.2" text-anchor="middle" >1/|E| (nm/V)</text>
<text transform="translate(365.7,428) rotate(-90)" font-size="14.8" text-anchor="middle"><tspan font-style="italic">t</tspan><tspan font-size="10" dy="4.6">mean</tspan><tspan dy="-4.6"> (ns)</tspan></text>
<line x1="550.4" y1="471.2" x2="572.9" y2="471.2" stroke="#ff0000" stroke-width="1"/>
<text x="579.5" y="474.8" font-size="12.3" text-anchor="start" >Merz’s law</text>
<text x="550.2" y="504.6" font-size="12.6">E<tspan font-size="8.6" dy="3.2">a</tspan><tspan dy="-3.2"> = 0.99 V/nm</tspan></text>
<g>
<polyline points="74.7,216 75,216 76.1,216 78.1,216 80.2,216 83.6,216 87.1,216 91.3,216 96.3,216 101.7,216.1 112.7,216.1 119.9,215.4 133.1,215.4 146.8,214.6 160.1,216.3 173.3,214.6 190.8,216.3 208.9,216.3 224.4,217.5 239.9,214.6 256,214.5" fill="none" stroke="#9600f0" stroke-width="0.9" stroke-linejoin="round"/>
<rect x="71.9" y="213.2" width="5.6" height="5.6" fill="#9600f0"/><rect x="72.2" y="213.2" width="5.6" height="5.6" fill="#9600f0"/><rect x="73.3" y="213.2" width="5.6" height="5.6" fill="#9600f0"/><rect x="75.3" y="213.2" width="5.6" height="5.6" fill="#9600f0"/><rect x="77.4" y="213.2" width="5.6" height="5.6" fill="#9600f0"/><rect x="80.8" y="213.2" width="5.6" height="5.6" fill="#9600f0"/><rect x="84.3" y="213.2" width="5.6" height="5.6" fill="#9600f0"/><rect x="88.5" y="213.2" width="5.6" height="5.6" fill="#9600f0"/><rect x="93.5" y="213.2" width="5.6" height="5.6" fill="#9600f0"/><rect x="98.9" y="213.3" width="5.6" height="5.6" fill="#9600f0"/><rect x="109.9" y="213.3" width="5.6" height="5.6" fill="#9600f0"/><rect x="117.1" y="212.6" width="5.6" height="5.6" fill="#9600f0"/><rect x="130.3" y="212.6" width="5.6" height="5.6" fill="#9600f0"/><rect x="144" y="211.8" width="5.6" height="5.6" fill="#9600f0"/><rect x="157.3" y="213.5" width="5.6" height="5.6" fill="#9600f0"/><rect x="170.5" y="211.8" width="5.6" height="5.6" fill="#9600f0"/><rect x="188" y="213.5" width="5.6" height="5.6" fill="#9600f0"/><rect x="206.1" y="213.5" width="5.6" height="5.6" fill="#9600f0"/><rect x="221.6" y="214.7" width="5.6" height="5.6" fill="#9600f0"/><rect x="237.1" y="211.8" width="5.6" height="5.6" fill="#9600f0"/><rect x="253.2" y="211.7" width="5.6" height="5.6" fill="#9600f0"/>
<polyline points="74.7,214.5 75,214.5 76.1,214.5 78.1,214.5 80.2,214 83.6,214 87.1,213.5 91.3,213 96.3,213 101.7,210.3 112.7,210.5 119.9,210.5 133.1,211 146.8,210.3 160.1,209.4 173.3,207.4 190.8,201.8 208.9,199.7 224.4,194.1 239.9,188.5 256,182.1" fill="none" stroke="#5500ff" stroke-width="0.9" stroke-linejoin="round"/>
<circle cx="74.7" cy="214.5" r="3" fill="#5500ff"/><circle cx="75" cy="214.5" r="3" fill="#5500ff"/><circle cx="76.1" cy="214.5" r="3" fill="#5500ff"/><circle cx="78.1" cy="214.5" r="3" fill="#5500ff"/><circle cx="80.2" cy="214" r="3" fill="#5500ff"/><circle cx="83.6" cy="214" r="3" fill="#5500ff"/><circle cx="87.1" cy="213.5" r="3" fill="#5500ff"/><circle cx="91.3" cy="213" r="3" fill="#5500ff"/><circle cx="96.3" cy="213" r="3" fill="#5500ff"/><circle cx="101.7" cy="210.3" r="3" fill="#5500ff"/><circle cx="112.7" cy="210.5" r="3" fill="#5500ff"/><circle cx="119.9" cy="210.5" r="3" fill="#5500ff"/><circle cx="133.1" cy="211" r="3" fill="#5500ff"/><circle cx="146.8" cy="210.3" r="3" fill="#5500ff"/><circle cx="160.1" cy="209.4" r="3" fill="#5500ff"/><circle cx="173.3" cy="207.4" r="3" fill="#5500ff"/><circle cx="190.8" cy="201.8" r="3" fill="#5500ff"/><circle cx="208.9" cy="199.7" r="3" fill="#5500ff"/><circle cx="224.4" cy="194.1" r="3" fill="#5500ff"/><circle cx="239.9" cy="188.5" r="3" fill="#5500ff"/><circle cx="256" cy="182.1" r="3" fill="#5500ff"/>
<polyline points="74.7,215 75,215 76.1,215 78.1,215 80.2,215 83.6,215 87.1,215 91.3,215.5 96.3,218.3 101.7,215.4 112.7,213.9 119.9,208.8 133.1,207.3 146.8,209.5 160.1,200.8 173.3,195.7 190.8,189 208.9,175.4 224.4,167.1 239.9,157 256,144.2" fill="none" stroke="#1e3cff" stroke-width="0.9" stroke-linejoin="round"/>
<polygon points="74.7,211.6 71.4,217.6 78,217.6" fill="#1e3cff"/><polygon points="75,211.6 71.7,217.6 78.3,217.6" fill="#1e3cff"/><polygon points="76.1,211.6 72.8,217.6 79.4,217.6" fill="#1e3cff"/><polygon points="78.1,211.6 74.8,217.6 81.4,217.6" fill="#1e3cff"/><polygon points="80.2,211.6 76.9,217.6 83.5,217.6" fill="#1e3cff"/><polygon points="83.6,211.6 80.3,217.6 86.9,217.6" fill="#1e3cff"/><polygon points="87.1,211.6 83.8,217.6 90.4,217.6" fill="#1e3cff"/><polygon points="91.3,212.1 88,218.1 94.6,218.1" fill="#1e3cff"/><polygon points="96.3,214.9 93,220.9 99.6,220.9" fill="#1e3cff"/><polygon points="101.7,212 98.4,218 105,218" fill="#1e3cff"/><polygon points="112.7,210.5 109.4,216.5 116,216.5" fill="#1e3cff"/><polygon points="119.9,205.4 116.6,211.4 123.2,211.4" fill="#1e3cff"/><polygon points="133.1,203.9 129.8,209.9 136.4,209.9" fill="#1e3cff"/><polygon points="146.8,206.1 143.5,212.1 150.1,212.1" fill="#1e3cff"/><polygon points="160.1,197.4 156.8,203.4 163.4,203.4" fill="#1e3cff"/><polygon points="173.3,192.3 170,198.2 176.6,198.2" fill="#1e3cff"/><polygon points="190.8,185.6 187.5,191.6 194.1,191.6" fill="#1e3cff"/><polygon points="208.9,172 205.6,178 212.2,178" fill="#1e3cff"/><polygon points="224.4,163.7 221.1,169.7 227.7,169.7" fill="#1e3cff"/><polygon points="239.9,153.6 236.6,159.6 243.2,159.6" fill="#1e3cff"/><polygon points="256,140.8 252.7,146.8 259.3,146.8" fill="#1e3cff"/>
<polyline points="74.7,213.2 75,213 76.1,212.5 78.1,212 80.2,212 83.6,211.5 87.1,211 91.3,210.5 96.3,209 101.7,207.3 112.7,203.2 119.9,203.7 133.1,196.8 146.8,194.2 160.1,183.8 173.3,182.2 190.8,169 208.9,160.7 224.4,141 239.9,132.1 256,128.6" fill="none" stroke="#0096ff" stroke-width="0.9" stroke-linejoin="round"/>
<polygon points="74.7,216.6 71.4,210.6 78,210.6" fill="#0096ff"/><polygon points="75,216.4 71.7,210.4 78.3,210.4" fill="#0096ff"/><polygon points="76.1,215.9 72.8,209.9 79.4,209.9" fill="#0096ff"/><polygon points="78.1,215.4 74.8,209.4 81.4,209.4" fill="#0096ff"/><polygon points="80.2,215.4 76.9,209.4 83.5,209.4" fill="#0096ff"/><polygon points="83.6,214.9 80.3,208.9 86.9,208.9" fill="#0096ff"/><polygon points="87.1,214.4 83.8,208.4 90.4,208.4" fill="#0096ff"/><polygon points="91.3,213.9 88,207.9 94.6,207.9" fill="#0096ff"/><polygon points="96.3,212.4 93,206.4 99.6,206.4" fill="#0096ff"/><polygon points="101.7,210.7 98.4,204.8 105,204.8" fill="#0096ff"/><polygon points="112.7,206.6 109.4,200.6 116,200.6" fill="#0096ff"/><polygon points="119.9,207.1 116.6,201.1 123.2,201.1" fill="#0096ff"/><polygon points="133.1,200.2 129.8,194.2 136.4,194.2" fill="#0096ff"/><polygon points="146.8,197.6 143.5,191.6 150.1,191.6" fill="#0096ff"/><polygon points="160.1,187.2 156.8,181.2 163.4,181.2" fill="#0096ff"/><polygon points="173.3,185.6 170,179.6 176.6,179.6" fill="#0096ff"/><polygon points="190.8,172.4 187.5,166.4 194.1,166.4" fill="#0096ff"/><polygon points="208.9,164.1 205.6,158.1 212.2,158.1" fill="#0096ff"/><polygon points="224.4,144.4 221.1,138.4 227.7,138.4" fill="#0096ff"/><polygon points="239.9,135.5 236.6,129.5 243.2,129.5" fill="#0096ff"/><polygon points="256,132 252.7,126 259.3,126" fill="#0096ff"/>
<polyline points="74.7,208.1 75,208.5 76.1,208.8 78.1,208.8 80.2,208 83.6,207.5 87.1,207 91.3,206.6 96.3,202.2 101.7,203.2 112.7,193.5 119.9,191.3 133.1,185.4 146.8,177.4 160.1,175.2 173.3,163 190.8,145.8 208.9,143 224.4,126 239.9,112.5 256,100.5" fill="none" stroke="#00f5dc" stroke-width="0.9" stroke-linejoin="round"/>
<polygon points="74.7,204.5 78.3,208.1 74.7,211.7 71.1,208.1" fill="#00f5dc"/><polygon points="75,204.9 78.6,208.5 75,212.1 71.4,208.5" fill="#00f5dc"/><polygon points="76.1,205.2 79.7,208.8 76.1,212.4 72.5,208.8" fill="#00f5dc"/><polygon points="78.1,205.2 81.7,208.8 78.1,212.4 74.5,208.8" fill="#00f5dc"/><polygon points="80.2,204.4 83.8,208 80.2,211.6 76.6,208" fill="#00f5dc"/><polygon points="83.6,203.9 87.2,207.5 83.6,211.1 80,207.5" fill="#00f5dc"/><polygon points="87.1,203.4 90.7,207 87.1,210.6 83.5,207" fill="#00f5dc"/><polygon points="91.3,203 94.9,206.6 91.3,210.2 87.7,206.6" fill="#00f5dc"/><polygon points="96.3,198.6 99.9,202.2 96.3,205.8 92.7,202.2" fill="#00f5dc"/><polygon points="101.7,199.6 105.3,203.2 101.7,206.8 98.1,203.2" fill="#00f5dc"/><polygon points="112.7,189.9 116.3,193.5 112.7,197.1 109.1,193.5" fill="#00f5dc"/><polygon points="119.9,187.7 123.5,191.3 119.9,194.9 116.3,191.3" fill="#00f5dc"/><polygon points="133.1,181.8 136.7,185.4 133.1,189 129.5,185.4" fill="#00f5dc"/><polygon points="146.8,173.8 150.4,177.4 146.8,181 143.2,177.4" fill="#00f5dc"/><polygon points="160.1,171.6 163.7,175.2 160.1,178.8 156.5,175.2" fill="#00f5dc"/><polygon points="173.3,159.4 176.9,163 173.3,166.6 169.7,163" fill="#00f5dc"/><polygon points="190.8,142.2 194.4,145.8 190.8,149.4 187.2,145.8" fill="#00f5dc"/><polygon points="208.9,139.4 212.5,143 208.9,146.6 205.3,143" fill="#00f5dc"/><polygon points="224.4,122.4 228,126 224.4,129.6 220.8,126" fill="#00f5dc"/><polygon points="239.9,108.9 243.5,112.5 239.9,116.1 236.3,112.5" fill="#00f5dc"/><polygon points="256,96.9 259.6,100.5 256,104.1 252.4,100.5" fill="#00f5dc"/>
<polyline points="74.7,200.8 75,201.5 76.1,202 78.1,202.2 80.2,202 83.6,199 87.1,197.8 91.3,197.4 96.3,195.7 101.7,186.9 112.7,184 119.9,174.9 133.1,170.1 146.8,165 160.1,156.2 173.3,143 190.8,125.7 208.9,110.9 224.4,101.5 239.9,91 256,84.8" fill="none" stroke="#00f01e" stroke-width="0.9" stroke-linejoin="round"/>
<polygon points="71.2,200.8 77.3,197.6 77.3,204" fill="#00f01e"/><polygon points="71.5,201.5 77.6,198.3 77.6,204.7" fill="#00f01e"/><polygon points="72.6,202 78.7,198.8 78.7,205.2" fill="#00f01e"/><polygon points="74.6,202.2 80.7,199 80.7,205.4" fill="#00f01e"/><polygon points="76.7,202 82.8,198.8 82.8,205.2" fill="#00f01e"/><polygon points="80.1,199 86.2,195.8 86.2,202.2" fill="#00f01e"/><polygon points="83.6,197.8 89.7,194.6 89.7,201" fill="#00f01e"/><polygon points="87.8,197.4 93.9,194.2 93.9,200.6" fill="#00f01e"/><polygon points="92.8,195.7 98.9,192.5 98.9,198.9" fill="#00f01e"/><polygon points="98.2,186.9 104.3,183.7 104.3,190.1" fill="#00f01e"/><polygon points="109.2,184 115.3,180.8 115.3,187.2" fill="#00f01e"/><polygon points="116.4,174.9 122.5,171.7 122.5,178.1" fill="#00f01e"/><polygon points="129.6,170.1 135.7,166.9 135.7,173.3" fill="#00f01e"/><polygon points="143.3,165 149.4,161.8 149.4,168.2" fill="#00f01e"/><polygon points="156.6,156.2 162.7,153 162.7,159.4" fill="#00f01e"/><polygon points="169.8,143 175.9,139.8 175.9,146.2" fill="#00f01e"/><polygon points="187.3,125.7 193.4,122.5 193.4,128.9" fill="#00f01e"/><polygon points="205.4,110.9 211.5,107.7 211.5,114.1" fill="#00f01e"/><polygon points="220.9,101.5 227,98.3 227,104.7" fill="#00f01e"/><polygon points="236.4,91 242.5,87.8 242.5,94.2" fill="#00f01e"/><polygon points="252.5,84.8 258.6,81.6 258.6,88" fill="#00f01e"/>
<polyline points="74.7,193 75,192.4 76.1,191.5 78.1,190.9 80.2,190.5 83.6,189.8 87.1,184.7 91.3,176.2 96.3,170.3 101.7,160.5 112.7,152.5 119.9,146.8 133.1,137.8 146.8,129.3 160.1,127.3 173.3,115.3 190.8,97.4 208.9,90.1 224.4,78.7 239.9,70.8 256,57.3" fill="none" stroke="#aaf000" stroke-width="0.9" stroke-linejoin="round"/>
<polygon points="78.2,193 72.1,189.8 72.1,196.2" fill="#aaf000"/><polygon points="78.5,192.4 72.4,189.2 72.4,195.6" fill="#aaf000"/><polygon points="79.6,191.5 73.5,188.3 73.5,194.7" fill="#aaf000"/><polygon points="81.6,190.9 75.5,187.7 75.5,194.1" fill="#aaf000"/><polygon points="83.7,190.5 77.6,187.3 77.6,193.7" fill="#aaf000"/><polygon points="87.1,189.8 81,186.6 81,193" fill="#aaf000"/><polygon points="90.6,184.7 84.5,181.5 84.5,187.9" fill="#aaf000"/><polygon points="94.8,176.2 88.7,173 88.7,179.4" fill="#aaf000"/><polygon points="99.8,170.3 93.7,167.1 93.7,173.5" fill="#aaf000"/><polygon points="105.2,160.5 99.1,157.3 99.1,163.7" fill="#aaf000"/><polygon points="116.2,152.5 110.1,149.3 110.1,155.7" fill="#aaf000"/><polygon points="123.4,146.8 117.3,143.6 117.3,150" fill="#aaf000"/><polygon points="136.6,137.8 130.5,134.6 130.5,141" fill="#aaf000"/><polygon points="150.3,129.3 144.2,126.1 144.2,132.5" fill="#aaf000"/><polygon points="163.6,127.3 157.5,124.1 157.5,130.5" fill="#aaf000"/><polygon points="176.8,115.3 170.7,112.1 170.7,118.5" fill="#aaf000"/><polygon points="194.3,97.4 188.2,94.2 188.2,100.6" fill="#aaf000"/><polygon points="212.4,90.1 206.3,86.9 206.3,93.3" fill="#aaf000"/><polygon points="227.9,78.7 221.8,75.5 221.8,81.9" fill="#aaf000"/><polygon points="243.4,70.8 237.3,67.6 237.3,74" fill="#aaf000"/><polygon points="259.5,57.3 253.4,54.1 253.4,60.5" fill="#aaf000"/>
<polyline points="74.7,183 75,181.6 76.1,177 78.1,175.4 80.2,172.9 83.6,171.3 87.1,166.5 91.3,155.2 96.3,149.2 101.7,145.3 112.7,132.8 119.9,121.5 133.1,114.2 146.8,106.8 160.1,99.7 173.3,85.2 190.8,76.1 208.9,69.1 224.4,50.7 239.9,42.4 256,39.6" fill="none" stroke="#ffaa00" stroke-width="0.9" stroke-linejoin="round"/>
<circle cx="74.7" cy="183" r="3" fill="#ffaa00"/><circle cx="75" cy="181.6" r="3" fill="#ffaa00"/><circle cx="76.1" cy="177" r="3" fill="#ffaa00"/><circle cx="78.1" cy="175.4" r="3" fill="#ffaa00"/><circle cx="80.2" cy="172.9" r="3" fill="#ffaa00"/><circle cx="83.6" cy="171.3" r="3" fill="#ffaa00"/><circle cx="87.1" cy="166.5" r="3" fill="#ffaa00"/><circle cx="91.3" cy="155.2" r="3" fill="#ffaa00"/><circle cx="96.3" cy="149.2" r="3" fill="#ffaa00"/><circle cx="101.7" cy="145.3" r="3" fill="#ffaa00"/><circle cx="112.7" cy="132.8" r="3" fill="#ffaa00"/><circle cx="119.9" cy="121.5" r="3" fill="#ffaa00"/><circle cx="133.1" cy="114.2" r="3" fill="#ffaa00"/><circle cx="146.8" cy="106.8" r="3" fill="#ffaa00"/><circle cx="160.1" cy="99.7" r="3" fill="#ffaa00"/><circle cx="173.3" cy="85.2" r="3" fill="#ffaa00"/><circle cx="190.8" cy="76.1" r="3" fill="#ffaa00"/><circle cx="208.9" cy="69.1" r="3" fill="#ffaa00"/><circle cx="224.4" cy="50.7" r="3" fill="#ffaa00"/><circle cx="239.9" cy="42.4" r="3" fill="#ffaa00"/><circle cx="256" cy="39.6" r="3" fill="#ffaa00"/>
<polyline points="74.7,170.3 75,165 76.1,158 78.1,153 80.2,149.5 83.6,143.1 87.1,138.5 91.3,134.5 96.3,131 101.7,122 112.7,114.8 119.9,106.3 133.1,99.7 146.8,94.8 160.1,89.8 173.3,77.3 190.8,67 208.9,50.1 224.4,42.2 239.9,38.4 256,34" fill="none" stroke="#ff5519" stroke-width="0.9" stroke-linejoin="round"/>
<polygon points="74.7,167.1 75.6,169.4 78.1,169.6 76.2,171.2 76.8,173.6 74.7,172.3 72.6,173.6 73.2,171.2 71.3,169.6 73.8,169.4" fill="#ff5519"/><polygon points="75,161.8 75.9,164.1 78.4,164.3 76.5,165.9 77.1,168.3 75,167 72.9,168.3 73.5,165.9 71.6,164.3 74.1,164.1" fill="#ff5519"/><polygon points="76.1,154.8 77,157.1 79.5,157.3 77.6,158.9 78.2,161.3 76.1,160 74,161.3 74.6,158.9 72.7,157.3 75.2,157.1" fill="#ff5519"/><polygon points="78.1,149.8 79,152.1 81.5,152.3 79.6,153.9 80.2,156.3 78.1,155 76,156.3 76.6,153.9 74.7,152.3 77.2,152.1" fill="#ff5519"/><polygon points="80.2,146.3 81.1,148.6 83.6,148.8 81.7,150.4 82.3,152.8 80.2,151.5 78.1,152.8 78.7,150.4 76.8,148.8 79.3,148.6" fill="#ff5519"/><polygon points="83.6,139.9 84.5,142.2 87,142.4 85.1,144 85.7,146.4 83.6,145.1 81.5,146.4 82.1,144 80.2,142.4 82.7,142.2" fill="#ff5519"/><polygon points="87.1,135.3 88,137.6 90.5,137.8 88.6,139.4 89.2,141.8 87.1,140.5 85,141.8 85.6,139.4 83.7,137.8 86.2,137.6" fill="#ff5519"/><polygon points="91.3,131.3 92.2,133.6 94.7,133.8 92.8,135.4 93.4,137.8 91.3,136.5 89.2,137.8 89.8,135.4 87.9,133.8 90.4,133.6" fill="#ff5519"/><polygon points="96.3,127.8 97.2,130.1 99.7,130.3 97.8,131.9 98.4,134.3 96.3,133 94.2,134.3 94.8,131.9 92.9,130.3 95.4,130.1" fill="#ff5519"/><polygon points="101.7,118.8 102.6,121.1 105.1,121.3 103.2,122.9 103.8,125.3 101.7,124 99.6,125.3 100.2,122.9 98.3,121.3 100.8,121.1" fill="#ff5519"/><polygon points="112.7,111.6 113.6,113.9 116.1,114.1 114.2,115.7 114.8,118.1 112.7,116.8 110.6,118.1 111.2,115.7 109.3,114.1 111.8,113.9" fill="#ff5519"/><polygon points="119.9,103.1 120.8,105.4 123.3,105.6 121.4,107.2 122,109.6 119.9,108.3 117.8,109.6 118.4,107.2 116.5,105.6 119,105.4" fill="#ff5519"/><polygon points="133.1,96.5 134,98.8 136.5,99 134.6,100.6 135.2,103 133.1,101.7 131,103 131.6,100.6 129.7,99 132.2,98.8" fill="#ff5519"/><polygon points="146.8,91.6 147.7,93.9 150.2,94.1 148.3,95.7 148.9,98.1 146.8,96.8 144.7,98.1 145.3,95.7 143.4,94.1 145.9,93.9" fill="#ff5519"/><polygon points="160.1,86.6 161,88.9 163.5,89.1 161.6,90.7 162.2,93.1 160.1,91.8 158,93.1 158.6,90.7 156.7,89.1 159.2,88.9" fill="#ff5519"/><polygon points="173.3,74.1 174.2,76.4 176.7,76.6 174.8,78.2 175.4,80.6 173.3,79.3 171.2,80.6 171.8,78.2 169.9,76.6 172.4,76.4" fill="#ff5519"/><polygon points="190.8,63.8 191.7,66.1 194.2,66.3 192.3,67.9 192.9,70.3 190.8,69 188.7,70.3 189.3,67.9 187.4,66.3 189.9,66.1" fill="#ff5519"/><polygon points="208.9,46.9 209.8,49.2 212.3,49.4 210.4,51 211,53.4 208.9,52.1 206.8,53.4 207.4,51 205.5,49.4 208,49.2" fill="#ff5519"/><polygon points="224.4,39 225.3,41.3 227.8,41.5 225.9,43.1 226.5,45.5 224.4,44.2 222.3,45.5 222.9,43.1 221,41.5 223.5,41.3" fill="#ff5519"/><polygon points="239.9,35.2 240.8,37.5 243.3,37.7 241.4,39.3 242,41.7 239.9,40.4 237.8,41.7 238.4,39.3 236.5,37.7 239,37.5" fill="#ff5519"/><polygon points="256,30.8 256.9,33.1 259.4,33.3 257.5,34.9 258.1,37.3 256,36 253.9,37.3 254.5,34.9 252.6,33.3 255.1,33.1" fill="#ff5519"/>
<polyline points="74.7,163.1 75,157.5 76.1,145 78.1,138.9 80.2,133.9 83.6,129.5 87.1,127 91.3,122.3 96.3,119.1 101.7,114.8 112.7,104.8 119.9,96.2 133.1,92.4 146.8,86 160.1,82.1 173.3,71.2 190.8,62.6 208.9,45.5 224.4,36.3 239.9,32.8 256,28.2" fill="none" stroke="#ff0000" stroke-width="0.9" stroke-linejoin="round"/>
<polygon points="74.7,159.9 78.1,162.3 76.8,166.4 72.6,166.4 71.3,162.3" fill="#ff0000"/><polygon points="75,154.3 78.4,156.7 77.1,160.8 72.9,160.8 71.6,156.7" fill="#ff0000"/><polygon points="76.1,141.8 79.5,144.2 78.2,148.3 74,148.3 72.7,144.2" fill="#ff0000"/><polygon points="78.1,135.7 81.5,138.1 80.2,142.2 76,142.2 74.7,138.1" fill="#ff0000"/><polygon points="80.2,130.7 83.6,133.1 82.3,137.2 78.1,137.2 76.8,133.1" fill="#ff0000"/><polygon points="83.6,126.3 87,128.7 85.7,132.8 81.5,132.8 80.2,128.7" fill="#ff0000"/><polygon points="87.1,123.8 90.5,126.2 89.2,130.3 85,130.3 83.7,126.2" fill="#ff0000"/><polygon points="91.3,119.1 94.7,121.5 93.4,125.6 89.2,125.6 87.9,121.5" fill="#ff0000"/><polygon points="96.3,115.9 99.7,118.3 98.4,122.4 94.2,122.4 92.9,118.3" fill="#ff0000"/><polygon points="101.7,111.6 105.1,114 103.8,118.1 99.6,118.1 98.3,114" fill="#ff0000"/><polygon points="112.7,101.6 116.1,104 114.8,108.1 110.6,108.1 109.3,104" fill="#ff0000"/><polygon points="119.9,93 123.3,95.4 122,99.5 117.8,99.5 116.5,95.4" fill="#ff0000"/><polygon points="133.1,89.2 136.5,91.6 135.2,95.7 131,95.7 129.7,91.6" fill="#ff0000"/><polygon points="146.8,82.8 150.2,85.2 148.9,89.3 144.7,89.3 143.4,85.2" fill="#ff0000"/><polygon points="160.1,78.9 163.5,81.3 162.2,85.4 158,85.4 156.7,81.3" fill="#ff0000"/><polygon points="173.3,68 176.7,70.4 175.4,74.5 171.2,74.5 169.9,70.4" fill="#ff0000"/><polygon points="190.8,59.4 194.2,61.8 192.9,65.9 188.7,65.9 187.4,61.8" fill="#ff0000"/><polygon points="208.9,42.3 212.3,44.7 211,48.8 206.8,48.8 205.5,44.7" fill="#ff0000"/><polygon points="224.4,33.1 227.8,35.5 226.5,39.6 222.3,39.6 221,35.5" fill="#ff0000"/><polygon points="239.9,29.6 243.3,32 242,36.1 237.8,36.1 236.5,32" fill="#ff0000"/><polygon points="256,25 259.4,27.4 258.1,31.5 253.9,31.5 252.6,27.4" fill="#ff0000"/>
</g>
<g fill="none" stroke-width="1">
<path d="M78.5 45.2V25.6H84.6V45.2" stroke="#3cb46e"/>
<path d="M107.4 45.2V25.6H113.3V45.2" stroke="#3cb46e"/>
<path d="M161.5 45.2V25.6H167.3V45.2" stroke="#3cb46e"/>
<path d="M87.3 45.2V42.3H92.9V45.2" stroke="#3c82d2"/>
<path d="M99.4 45.2V42.3H105.5V45.2" stroke="#3c82d2"/>
<path d="M115.4 45.2V42.3H121V45.2" stroke="#3c82d2"/>
<path d="M128.3 45.2V42.3H134.5V45.2" stroke="#3c82d2"/>
<path d="M169.4 45.2V42.3H175.6V45.2" stroke="#3c82d2"/>
<path d="M183.5 45.2V42.3H189.6V45.2" stroke="#3c82d2"/>
<path d="M95.3 45.2V64.5H98.1V45.2" stroke="#ee3b3b"/>
<path d="M123.1 45.2V64.5H125.9V45.2" stroke="#ee3b3b"/>
<path d="M177.3 45.2V64.5H181.8V45.2" stroke="#ee3b3b"/>
</g>
<path d="M73.7 72.7V18.5M73.7 45.2H135.5M160.5 45.2H194" stroke="#444" stroke-width="1" fill="none"/>
<path d="M135.5 45.2H160.5" stroke="#444" stroke-width="1" stroke-dasharray="2 1.6" fill="none"/>
<path d="M71.6 20.5L73.7 15.5L75.8 20.5Z M192 43.1L197.5 45.2L192 47.3Z" fill="#444"/>
<text x="76.5" y="21.6" font-size="9" font-style="italic">V<tspan font-size="5.3" dy="2.0" font-style="normal">reset</tspan></text>
<text x="86.5" y="37.7" font-size="9" font-style="italic">V<tspan font-size="6.2" dy="2.2" font-style="normal">r</tspan></text>
<text x="93" y="72.6" font-size="9" font-style="italic">V<tspan font-size="6.2" dy="2.2" font-style="normal">p</tspan></text>
<text x="193" y="40.9" font-size="8.6">Time</text>
<text transform="translate(69.6,45) rotate(-90)" font-size="8.6" text-anchor="middle">Voltage</text>
<line x1="261.2" y1="31.4" x2="288.6" y2="31.4" stroke="#ff0000" stroke-width="0.9"/>
<polygon points="274.4,28.2 277.8,30.6 276.5,34.7 272.3,34.7 271,30.6" fill="#ff0000"/>
<text x="293" y="35" font-size="10" text-anchor="start" >–10 V</text>
<line x1="261.2" y1="46.8" x2="288.6" y2="46.8" stroke="#ff5519" stroke-width="0.9"/>
<polygon points="274.4,43.6 275.3,45.9 277.8,46.1 275.9,47.7 276.5,50.1 274.4,48.8 272.3,50.1 272.9,47.7 271,46.1 273.5,45.9" fill="#ff5519"/>
<text x="293" y="50.4" font-size="10" text-anchor="start" >–9.5 V</text>
<line x1="261.2" y1="62.2" x2="288.6" y2="62.2" stroke="#ffaa00" stroke-width="0.9"/>
<circle cx="274.4" cy="62.2" r="3" fill="#ffaa00"/>
<text x="293" y="65.8" font-size="10" text-anchor="start" >–9.0 V</text>
<line x1="261.2" y1="77.6" x2="288.6" y2="77.6" stroke="#aaf000" stroke-width="0.9"/>
<polygon points="277.9,77.6 271.8,74.4 271.8,80.8" fill="#aaf000"/>
<text x="293" y="81.2" font-size="10" text-anchor="start" >–8.0 V</text>
<line x1="261.2" y1="93" x2="288.6" y2="93" stroke="#00f01e" stroke-width="0.9"/>
<polygon points="270.9,93 277,89.8 277,96.2" fill="#00f01e"/>
<text x="293" y="96.6" font-size="10" text-anchor="start" >–7.0 V</text>
<line x1="261.2" y1="108.4" x2="288.6" y2="108.4" stroke="#00f5dc" stroke-width="0.9"/>
<polygon points="274.4,104.8 278,108.4 274.4,112 270.8,108.4" fill="#00f5dc"/>
<text x="293" y="112" font-size="10" text-anchor="start" >–6.5 V</text>
<line x1="261.2" y1="123.8" x2="288.6" y2="123.8" stroke="#0096ff" stroke-width="0.9"/>
<polygon points="274.4,127.2 271.1,121.3 277.7,121.3" fill="#0096ff"/>
<text x="293" y="127.4" font-size="10" text-anchor="start" >–5.0 V</text>
<line x1="261.2" y1="139.2" x2="288.6" y2="139.2" stroke="#1e3cff" stroke-width="0.9"/>
<polygon points="274.4,135.8 271.1,141.8 277.7,141.8" fill="#1e3cff"/>
<text x="293" y="142.8" font-size="10" text-anchor="start" >–4.5 V</text>
<line x1="261.2" y1="154.6" x2="288.6" y2="154.6" stroke="#5500ff" stroke-width="0.9"/>
<circle cx="274.4" cy="154.6" r="3" fill="#5500ff"/>
<text x="293" y="158.2" font-size="10" text-anchor="start" >–4.0 V</text>
<line x1="261.2" y1="170" x2="288.6" y2="170" stroke="#9600f0" stroke-width="0.9"/>
<rect x="271.6" y="167.2" width="5.6" height="5.6" fill="#9600f0"/>
<text x="293" y="173.6" font-size="10" text-anchor="start" >–3.0 V</text>
<rect x="56.5" y="12" width="272" height="223.3" fill="none" stroke="#000" stroke-width="1.3"/>
<path d="M74.7 235.3v-4.5M74.7 12v4.5M135.3 235.3v-4.5M135.3 12v4.5M182.3 235.3v-4.5M182.3 12v4.5M220.7 235.3v-4.5M220.7 12v4.5M253.2 235.3v-4.5M253.2 12v4.5M281.3 235.3v-4.5M281.3 12v4.5M306.1 235.3v-4.5M306.1 12v4.5" stroke="#000" stroke-width="1.1" fill="none"/>
<path d="M60.2 235.3v-2.5M60.2 12v2.5M88.3 235.3v-2.5M88.3 12v2.5M101.1 235.3v-2.5M101.1 12v2.5M113.1 235.3v-2.5M113.1 12v2.5M124.5 235.3v-2.5M124.5 12v2.5M145.6 235.3v-2.5M145.6 12v2.5M155.4 235.3v-2.5M155.4 12v2.5M164.7 235.3v-2.5M164.7 12v2.5M173.7 235.3v-2.5M173.7 12v2.5M190.6 235.3v-2.5M190.6 12v2.5M198.5 235.3v-2.5M198.5 12v2.5M206.2 235.3v-2.5M206.2 12v2.5M213.6 235.3v-2.5M213.6 12v2.5M227.6 235.3v-2.5M227.6 12v2.5M234.3 235.3v-2.5M234.3 12v2.5M240.8 235.3v-2.5M240.8 12v2.5M247.1 235.3v-2.5M247.1 12v2.5M259.1 235.3v-2.5M259.1 12v2.5M264.9 235.3v-2.5M264.9 12v2.5M270.5 235.3v-2.5M270.5 12v2.5M276 235.3v-2.5M276 12v2.5M286.5 235.3v-2.5M286.5 12v2.5M291.6 235.3v-2.5M291.6 12v2.5M296.5 235.3v-2.5M296.5 12v2.5M301.4 235.3v-2.5M301.4 12v2.5M310.7 235.3v-2.5M310.7 12v2.5M315.3 235.3v-2.5M315.3 12v2.5M319.7 235.3v-2.5M319.7 12v2.5M324 235.3v-2.5M324 12v2.5" stroke="#000" stroke-width="1.1" fill="none"/>
<path d="M56.5 180.5h4.5M328.5 180.5h-4.5M56.5 75.5h4.5M328.5 75.5h-4.5" stroke="#000" stroke-width="1.1" fill="none"/>
<path d="M56.5 222.3h2.5M328.5 222.3h-2.5M56.5 212.1h2.5M328.5 212.1h-2.5M56.5 203.8h2.5M328.5 203.8h-2.5M56.5 196.8h2.5M328.5 196.8h-2.5M56.5 190.7h2.5M328.5 190.7h-2.5M56.5 185.3h2.5M328.5 185.3h-2.5M56.5 148.9h2.5M328.5 148.9h-2.5M56.5 130.4h2.5M328.5 130.4h-2.5M56.5 117.3h2.5M328.5 117.3h-2.5M56.5 107.1h2.5M328.5 107.1h-2.5M56.5 98.8h2.5M328.5 98.8h-2.5M56.5 91.8h2.5M328.5 91.8h-2.5M56.5 85.7h2.5M328.5 85.7h-2.5M56.5 80.3h2.5M328.5 80.3h-2.5M56.5 43.9h2.5M328.5 43.9h-2.5M56.5 25.4h2.5M328.5 25.4h-2.5" stroke="#000" stroke-width="1.1" fill="none"/>
<text x="74.7" y="254.1" font-size="14.8" text-anchor="middle" >0.6</text>
<text x="135.3" y="254.1" font-size="14.8" text-anchor="middle" >0.8</text>
<text x="182.3" y="254.1" font-size="14.8" text-anchor="middle" >1</text>
<text x="220.7" y="254.1" font-size="14.8" text-anchor="middle" >1.2</text>
<text x="253.2" y="254.1" font-size="14.8" text-anchor="middle" >1.4</text>
<text x="281.3" y="254.1" font-size="14.8" text-anchor="middle" >1.6</text>
<text x="306.1" y="254.1" font-size="14.8" text-anchor="middle" >1.8</text>
<text x="328.3" y="254.1" font-size="14.8" text-anchor="middle" >2</text>
<text x="42.6" y="185.7" font-size="14.8" text-anchor="end">10</text>
<text x="42.9" y="179.1" font-size="10">5</text>
<text x="42.6" y="80.7" font-size="14.8" text-anchor="end">10</text>
<text x="42.9" y="74.1" font-size="10">6</text>
<text x="193.2" y="277" font-size="14.9" text-anchor="middle" >Pulse duration (ns)</text>
<text transform="translate(13.3,123.5) rotate(-90)" font-size="14.9" text-anchor="middle">Resistance (Ω)</text>
<g>
<rect x="424.4" y="212.1" width="7.2" height="7.2" fill="#9600f0"/><rect x="442.4" y="215.4" width="7.2" height="7.2" fill="#9600f0"/><rect x="447.4" y="216.4" width="7.2" height="7.2" fill="#9600f0"/><rect x="451.2" y="215.1" width="7.2" height="7.2" fill="#9600f0"/><rect x="461.1" y="215.1" width="7.2" height="7.2" fill="#9600f0"/><rect x="469" y="211.4" width="7.2" height="7.2" fill="#9600f0"/><rect x="482.4" y="209.7" width="7.2" height="7.2" fill="#9600f0"/><rect x="497.4" y="204" width="7.2" height="7.2" fill="#9600f0"/><rect x="509.7" y="213.8" width="7.2" height="7.2" fill="#9600f0"/><rect x="522.6" y="206" width="7.2" height="7.2" fill="#9600f0"/><rect x="539.7" y="212.6" width="7.2" height="7.2" fill="#9600f0"/><rect x="558.1" y="212.6" width="7.2" height="7.2" fill="#9600f0"/><rect x="574.1" y="218.7" width="7.2" height="7.2" fill="#9600f0"/><rect x="589.4" y="205.6" width="7.2" height="7.2" fill="#9600f0"/><rect x="605.7" y="204.6" width="7.2" height="7.2" fill="#9600f0"/>
<circle cx="426" cy="210" r="3.9" fill="#5500ff"/><circle cx="428" cy="212.7" r="3.9" fill="#5500ff"/><circle cx="434.9" cy="209.8" r="3.9" fill="#5500ff"/><circle cx="439" cy="212" r="3.9" fill="#5500ff"/><circle cx="443.8" cy="209.8" r="3.9" fill="#5500ff"/><circle cx="454.3" cy="194.9" r="3.9" fill="#5500ff"/><circle cx="464.7" cy="198.3" r="3.9" fill="#5500ff"/><circle cx="472.5" cy="196.4" r="3.9" fill="#5500ff"/><circle cx="485.6" cy="199.5" r="3.9" fill="#5500ff"/><circle cx="499.4" cy="195.5" r="3.9" fill="#5500ff"/><circle cx="512.4" cy="193.4" r="3.9" fill="#5500ff"/><circle cx="525.5" cy="185.7" r="3.9" fill="#5500ff"/><circle cx="543.1" cy="171.9" r="3.9" fill="#5500ff"/><circle cx="561.1" cy="161.1" r="3.9" fill="#5500ff"/><circle cx="577" cy="146.4" r="3.9" fill="#5500ff"/><circle cx="592.4" cy="131" r="3.9" fill="#5500ff"/><circle cx="608.7" cy="118.8" r="3.9" fill="#5500ff"/>
<polygon points="426,208.6 421.7,216.3 430.3,216.3" fill="#1e3cff"/><polygon points="430.9,213.3 426.6,221 435.2,221" fill="#1e3cff"/><polygon points="436,209.6 431.7,217.3 440.3,217.3" fill="#1e3cff"/><polygon points="438,205.6 433.7,213.3 442.3,213.3" fill="#1e3cff"/><polygon points="442.9,214.3 438.6,222 447.2,222" fill="#1e3cff"/><polygon points="448.8,199.4 444.5,207.1 453.1,207.1" fill="#1e3cff"/><polygon points="454.8,209.3 450.5,217 459.1,217" fill="#1e3cff"/><polygon points="464.7,205.4 460.4,213.1 469,213.1" fill="#1e3cff"/><polygon points="472.5,185 468.2,192.7 476.8,192.7" fill="#1e3cff"/><polygon points="485.6,182.2 481.3,189.9 489.9,189.9" fill="#1e3cff"/><polygon points="499.3,178.2 495,185.9 503.6,185.9" fill="#1e3cff"/><polygon points="512.1,161.8 507.8,169.5 516.4,169.5" fill="#1e3cff"/><polygon points="525.4,147.7 521.1,155.4 529.7,155.4" fill="#1e3cff"/><polygon points="542.8,129.8 538.5,137.5 547.1,137.5" fill="#1e3cff"/><polygon points="561.3,101.2 557,108.9 565.6,108.9" fill="#1e3cff"/><polygon points="576.8,87.7 572.5,95.4 581.1,95.4" fill="#1e3cff"/><polygon points="592.4,72.9 588.1,80.6 596.7,80.6" fill="#1e3cff"/><polygon points="608.7,58.5 604.4,66.2 613,66.2" fill="#1e3cff"/>
<polygon points="426,208.2 421.7,200.5 430.3,200.5" fill="#0096ff"/><polygon points="429,210.4 424.7,202.7 433.3,202.7" fill="#0096ff"/><polygon points="432.9,210.2 428.6,202.5 437.2,202.5" fill="#0096ff"/><polygon points="439,207.4 434.7,199.7 443.3,199.7" fill="#0096ff"/><polygon points="445.8,202.2 441.5,194.5 450.1,194.5" fill="#0096ff"/><polygon points="451.8,188.3 447.5,180.6 456.1,180.6" fill="#0096ff"/><polygon points="455.5,188.7 451.2,181 459.8,181" fill="#0096ff"/><polygon points="466.1,176.3 461.8,168.6 470.4,168.6" fill="#0096ff"/><polygon points="472.9,178 468.6,170.3 477.2,170.3" fill="#0096ff"/><polygon points="485.7,164.6 481.4,156.9 490,156.9" fill="#0096ff"/><polygon points="499.1,151.3 494.8,143.6 503.4,143.6" fill="#0096ff"/><polygon points="512.3,131.4 508,123.7 516.6,123.7" fill="#0096ff"/><polygon points="525.5,124.8 521.2,117.1 529.8,117.1" fill="#0096ff"/><polygon points="543.1,99.2 538.8,91.5 547.4,91.5" fill="#0096ff"/><polygon points="561.6,86.8 557.3,79.1 565.9,79.1" fill="#0096ff"/><polygon points="577,64.4 572.7,56.7 581.3,56.7" fill="#0096ff"/><polygon points="592.4,57.5 588.1,49.8 596.7,49.8" fill="#0096ff"/><polygon points="608.7,54.4 604.4,46.7 613,46.7" fill="#0096ff"/>
<polygon points="426,196.2 430.8,201 426,205.8 421.2,201" fill="#00f5dc"/><polygon points="430,198 434.8,202.8 430,207.6 425.2,202.8" fill="#00f5dc"/><polygon points="434,195.2 438.8,200 434,204.8 429.2,200" fill="#00f5dc"/><polygon points="437.9,195 442.7,199.8 437.9,204.6 433.1,199.8" fill="#00f5dc"/><polygon points="442.9,183.1 447.7,187.9 442.9,192.7 438.1,187.9" fill="#00f5dc"/><polygon points="447.8,188.1 452.6,192.9 447.8,197.7 443,192.9" fill="#00f5dc"/><polygon points="450,167.1 454.8,171.9 450,176.7 445.2,171.9" fill="#00f5dc"/><polygon points="454.8,170.2 459.6,175 454.8,179.8 450,175" fill="#00f5dc"/><polygon points="465.4,151 470.2,155.8 465.4,160.6 460.6,155.8" fill="#00f5dc"/><polygon points="472.4,137.2 477.2,142 472.4,146.8 467.6,142" fill="#00f5dc"/><polygon points="485.1,122.7 489.9,127.5 485.1,132.3 480.3,127.5" fill="#00f5dc"/><polygon points="499.1,106 503.9,110.8 499.1,115.6 494.3,110.8" fill="#00f5dc"/><polygon points="512.4,92.4 517.2,97.2 512.4,102 507.6,97.2" fill="#00f5dc"/><polygon points="525.6,79.7 530.4,84.5 525.6,89.3 520.8,84.5" fill="#00f5dc"/><polygon points="543.1,60.7 547.9,65.5 543.1,70.3 538.3,65.5" fill="#00f5dc"/><polygon points="561.6,51.4 566.4,56.2 561.6,61 556.8,56.2" fill="#00f5dc"/><polygon points="577,43.7 581.8,48.5 577,53.3 572.2,48.5" fill="#00f5dc"/><polygon points="592.4,38 597.2,42.8 592.4,47.6 587.6,42.8" fill="#00f5dc"/><polygon points="608.7,34.3 613.5,39.1 608.7,43.9 603.9,39.1" fill="#00f5dc"/>
<polygon points="419.5,194 427.4,189.8 427.4,198.2" fill="#00f01e"/><polygon points="423,197 430.9,192.8 430.9,201.2" fill="#00f01e"/><polygon points="426,192 433.9,187.8 433.9,196.2" fill="#00f01e"/><polygon points="429.5,189 437.4,184.8 437.4,193.2" fill="#00f01e"/><polygon points="433.4,186.9 441.3,182.7 441.3,191.1" fill="#00f01e"/><polygon points="437.4,171 445.3,166.8 445.3,175.2" fill="#00f01e"/><polygon points="444.1,163.1 452,158.9 452,167.3" fill="#00f01e"/><polygon points="449.9,151.5 457.8,147.3 457.8,155.7" fill="#00f01e"/><polygon points="460.6,128.8 468.5,124.6 468.5,133" fill="#00f01e"/><polygon points="467.1,109.5 475,105.3 475,113.7" fill="#00f01e"/><polygon points="480.3,100.5 488.2,96.3 488.2,104.7" fill="#00f01e"/><polygon points="494.9,83.5 502.8,79.3 502.8,87.7" fill="#00f01e"/><polygon points="507.5,71.6 515.4,67.4 515.4,75.8" fill="#00f01e"/><polygon points="520.8,61.7 528.7,57.5 528.7,65.9" fill="#00f01e"/><polygon points="538.6,49.3 546.5,45.1 546.5,53.5" fill="#00f01e"/><polygon points="556.7,40.5 564.6,36.3 564.6,44.7" fill="#00f01e"/><polygon points="572.3,36.2 580.2,32 580.2,40.4" fill="#00f01e"/><polygon points="587.9,31.9 595.8,27.7 595.8,36.1" fill="#00f01e"/><polygon points="604.2,30.9 612.1,26.7 612.1,35.1" fill="#00f01e"/>
<polygon points="431.5,155 423.6,150.8 423.6,159.2" fill="#aaf000"/><polygon points="434.5,152 426.6,147.8 426.6,156.2" fill="#aaf000"/><polygon points="438.5,150 430.6,145.8 430.6,154.2" fill="#aaf000"/><polygon points="443.5,132 435.6,127.8 435.6,136.2" fill="#aaf000"/><polygon points="448.3,114 440.4,109.8 440.4,118.2" fill="#aaf000"/><polygon points="453.1,101 445.2,96.8 445.2,105.2" fill="#aaf000"/><polygon points="459.2,85.7 451.3,81.5 451.3,89.9" fill="#aaf000"/><polygon points="470.9,74.4 463,70.2 463,78.6" fill="#aaf000"/><polygon points="478.1,67.5 470.2,63.3 470.2,71.7" fill="#aaf000"/><polygon points="490.6,58.7 482.7,54.5 482.7,62.9" fill="#aaf000"/><polygon points="504.7,51.4 496.8,47.2 496.8,55.6" fill="#aaf000"/><polygon points="517.1,45 509.2,40.8 509.2,49.2" fill="#aaf000"/><polygon points="530.3,40.5 522.4,36.3 522.4,44.7" fill="#aaf000"/><polygon points="547.8,35 539.9,30.8 539.9,39.2" fill="#aaf000"/><polygon points="566.1,31.5 558.2,27.3 558.2,35.7" fill="#aaf000"/><polygon points="581.3,30 573.4,25.8 573.4,34.2" fill="#aaf000"/><polygon points="596.9,26.8 589,22.6 589,31" fill="#aaf000"/><polygon points="613.2,25.3 605.3,21.1 605.3,29.5" fill="#aaf000"/>
<polygon points="427.3,120.4 431,122.6 431,126.8 427.3,129 423.6,126.8 423.6,122.6" fill="#ffaa00"/><polygon points="430.8,106.7 434.5,108.9 434.5,113.1 430.8,115.3 427.1,113.1 427.1,108.9" fill="#ffaa00"/><polygon points="435.9,98.9 439.6,101.1 439.6,105.3 435.9,107.5 432.2,105.3 432.2,101.1" fill="#ffaa00"/><polygon points="440.2,90.4 443.9,92.6 443.9,96.8 440.2,99 436.5,96.8 436.5,92.6" fill="#ffaa00"/><polygon points="444.1,73.5 447.8,75.7 447.8,79.9 444.1,82.1 440.4,79.9 440.4,75.7" fill="#ffaa00"/><polygon points="448.6,66 452.3,68.2 452.3,72.4 448.6,74.6 444.9,72.4 444.9,68.2" fill="#ffaa00"/><polygon points="454.4,61.9 458.1,64.1 458.1,68.3 454.4,70.5 450.7,68.3 450.7,64.1" fill="#ffaa00"/><polygon points="465.1,50.1 468.8,52.3 468.8,56.5 465.1,58.7 461.4,56.5 461.4,52.3" fill="#ffaa00"/><polygon points="472.4,41.5 476.1,43.7 476.1,47.9 472.4,50.1 468.7,47.9 468.7,43.7" fill="#ffaa00"/><polygon points="485.7,37.3 489.4,39.5 489.4,43.7 485.7,45.9 482,43.7 482,39.5" fill="#ffaa00"/><polygon points="499,34.3 502.7,36.5 502.7,40.7 499,42.9 495.3,40.7 495.3,36.5" fill="#ffaa00"/><polygon points="512.6,31.7 516.3,33.9 516.3,38.1 512.6,40.3 508.9,38.1 508.9,33.9" fill="#ffaa00"/><polygon points="525.8,29.2 529.5,31.4 529.5,35.6 525.8,37.8 522.1,35.6 522.1,31.4" fill="#ffaa00"/><polygon points="543.3,26.2 547,28.4 547,32.6 543.3,34.8 539.6,32.6 539.6,28.4" fill="#ffaa00"/><polygon points="561.6,23.1 565.3,25.3 565.3,29.5 561.6,31.7 557.9,29.5 557.9,25.3" fill="#ffaa00"/><polygon points="576.8,21.7 580.5,23.9 580.5,28.1 576.8,30.3 573.1,28.1 573.1,23.9" fill="#ffaa00"/><polygon points="592.4,20.7 596.1,22.9 596.1,27.1 592.4,29.3 588.7,27.1 588.7,22.9" fill="#ffaa00"/><polygon points="608.7,20.2 612.4,22.4 612.4,26.6 608.7,28.8 605,26.6 605,22.4" fill="#ffaa00"/>
<polygon points="427.4,97 428.5,99.6 431.4,99.8 429.2,101.7 429.9,104.5 427.4,103 424.9,104.5 425.6,101.7 423.4,99.8 426.3,99.6" fill="#ff5519"/><polygon points="464.7,39.1 465.8,41.7 468.7,41.9 466.5,43.8 467.2,46.6 464.7,45.1 462.2,46.6 462.9,43.8 460.7,41.9 463.6,41.7" fill="#ff5519"/><polygon points="472,35.7 473.1,38.3 476,38.5 473.8,40.4 474.5,43.2 472,41.7 469.5,43.2 470.2,40.4 468,38.5 470.9,38.3" fill="#ff5519"/><polygon points="485.7,33.1 486.8,35.7 489.7,35.9 487.5,37.8 488.2,40.6 485.7,39.1 483.2,40.6 483.9,37.8 481.7,35.9 484.6,35.7" fill="#ff5519"/><polygon points="499,31.9 500.1,34.5 503,34.7 500.8,36.6 501.5,39.4 499,37.9 496.5,39.4 497.2,36.6 495,34.7 497.9,34.5" fill="#ff5519"/><polygon points="512.6,29.3 513.7,31.9 516.6,32.1 514.4,34 515.1,36.8 512.6,35.3 510.1,36.8 510.8,34 508.6,32.1 511.5,31.9" fill="#ff5519"/><polygon points="525.8,27.3 526.9,29.9 529.8,30.1 527.6,32 528.3,34.8 525.8,33.3 523.3,34.8 524,32 521.8,30.1 524.7,29.9" fill="#ff5519"/><polygon points="543.3,24.3 544.4,26.9 547.3,27.1 545.1,29 545.8,31.8 543.3,30.3 540.8,31.8 541.5,29 539.3,27.1 542.2,26.9" fill="#ff5519"/><polygon points="561.6,21.3 562.7,23.9 565.6,24.1 563.4,26 564.1,28.8 561.6,27.3 559.1,28.8 559.8,26 557.6,24.1 560.5,23.9" fill="#ff5519"/><polygon points="576.8,19.8 577.9,22.4 580.8,22.6 578.6,24.5 579.3,27.3 576.8,25.8 574.3,27.3 575,24.5 572.8,22.6 575.7,22.4" fill="#ff5519"/><polygon points="592.4,19.3 593.5,21.9 596.4,22.1 594.2,24 594.9,26.8 592.4,25.3 589.9,26.8 590.6,24 588.4,22.1 591.3,21.9" fill="#ff5519"/><polygon points="608.7,18.8 609.8,21.4 612.7,21.6 610.5,23.5 611.2,26.3 608.7,24.8 606.2,26.3 606.9,23.5 604.7,21.6 607.6,21.4" fill="#ff5519"/>
<polygon points="426.6,85.2 430.9,88.4 429.2,93.4 424,93.4 422.3,88.4" fill="#ff0000"/><polygon points="427.4,77 431.7,80.1 430,85.1 424.8,85.1 423.1,80.1" fill="#ff0000"/><polygon points="465.1,33.7 469.4,36.8 467.7,41.8 462.5,41.8 460.8,36.8" fill="#ff0000"/><polygon points="472,31.1 476.3,34.2 474.6,39.2 469.4,39.2 467.7,34.2" fill="#ff0000"/><polygon points="485.7,28.6 490,31.7 488.3,36.7 483.1,36.7 481.4,31.7" fill="#ff0000"/><polygon points="499,27.2 503.3,30.4 501.6,35.4 496.4,35.4 494.7,30.4" fill="#ff0000"/><polygon points="512.6,24.4 516.9,27.6 515.2,32.6 510,32.6 508.3,27.6" fill="#ff0000"/><polygon points="525.8,22.9 530.1,26.1 528.4,31.1 523.2,31.1 521.5,26.1" fill="#ff0000"/><polygon points="543.3,20.4 547.6,23.6 545.9,28.6 540.7,28.6 539,23.6" fill="#ff0000"/><polygon points="561.6,17.1 565.9,20.3 564.2,25.3 559,25.3 557.3,20.3" fill="#ff0000"/><polygon points="576.8,16.6 581.1,19.7 579.4,24.7 574.2,24.7 572.5,19.7" fill="#ff0000"/><polygon points="592.4,16.6 596.7,19.7 595,24.7 589.8,24.7 588.1,19.7" fill="#ff0000"/><polygon points="608.7,16.6 613,19.7 611.3,24.7 606.1,24.7 604.4,19.7" fill="#ff0000"/>
<polygon points="428,62.5 432.3,65.6 430.6,70.6 425.4,70.6 423.7,65.6" fill="#ff0000"/><polygon points="429,59.5 433.3,62.6 431.6,67.6 426.4,67.6 424.7,62.6" fill="#ff0000"/><polygon points="430,57 434.3,60.1 432.6,65.1 427.4,65.1 425.7,60.1" fill="#ff0000"/><polygon points="431,54.5 435.3,57.6 433.6,62.6 428.4,62.6 426.7,57.6" fill="#ff0000"/><polygon points="432.2,52.5 436.5,55.6 434.8,60.6 429.6,60.6 427.9,55.6" fill="#ff0000"/><polygon points="433.5,50.5 437.8,53.6 436.1,58.6 430.9,58.6 429.2,53.6" fill="#ff0000"/><polygon points="435,48.5 439.3,51.6 437.6,56.6 432.4,56.6 430.7,51.6" fill="#ff0000"/><polygon points="436.5,47 440.8,50.1 439.1,55.1 433.9,55.1 432.2,50.1" fill="#ff0000"/><polygon points="438,45.5 442.3,48.6 440.6,53.6 435.4,53.6 433.7,48.6" fill="#ff0000"/><polygon points="439.5,44 443.8,47.1 442.1,52.1 436.9,52.1 435.2,47.1" fill="#ff0000"/><polygon points="441,43 445.3,46.1 443.6,51.1 438.4,51.1 436.7,46.1" fill="#ff0000"/><polygon points="442.5,42 446.8,45.1 445.1,50.1 439.9,50.1 438.2,45.1" fill="#ff0000"/><polygon points="444,41 448.3,44.1 446.6,49.1 441.4,49.1 439.7,44.1" fill="#ff0000"/><polygon points="445.5,40 449.8,43.1 448.1,48.1 442.9,48.1 441.2,43.1" fill="#ff0000"/><polygon points="447,39.2 451.3,42.3 449.6,47.3 444.4,47.3 442.7,42.3" fill="#ff0000"/><polygon points="448.5,38.4 452.8,41.5 451.1,46.5 445.9,46.5 444.2,41.5" fill="#ff0000"/><polygon points="450,37.8 454.3,40.9 452.6,45.9 447.4,45.9 445.7,40.9" fill="#ff0000"/><polygon points="451.5,37.2 455.8,40.3 454.1,45.3 448.9,45.3 447.2,40.3" fill="#ff0000"/><polygon points="453,36.6 457.3,39.7 455.6,44.7 450.4,44.7 448.7,39.7" fill="#ff0000"/><polygon points="454.5,36.2 458.8,39.3 457.1,44.3 451.9,44.3 450.2,39.3" fill="#ff0000"/><polygon points="456,35.8 460.3,38.9 458.6,43.9 453.4,43.9 451.7,38.9" fill="#ff0000"/><polygon points="437,50 441.3,53.1 439.6,58.1 434.4,58.1 432.7,53.1" fill="#ff0000"/><polygon points="441,46.5 445.3,49.6 443.6,54.6 438.4,54.6 436.7,49.6" fill="#ff0000"/><polygon points="445,44 449.3,47.1 447.6,52.1 442.4,52.1 440.7,47.1" fill="#ff0000"/><polygon points="449,42 453.3,45.1 451.6,50.1 446.4,50.1 444.7,45.1" fill="#ff0000"/><polygon points="453,40 457.3,43.1 455.6,48.1 450.4,48.1 448.7,43.1" fill="#ff0000"/><polygon points="427.4,76.2 431.7,79.4 430,84.4 424.8,84.4 423.1,79.4" fill="#ff0000"/><polygon points="427.4,85.2 431.7,88.4 430,93.4 424.8,93.4 423.1,88.4" fill="#ff0000"/><polygon points="426.8,80.5 431.1,83.6 429.4,88.6 424.2,88.6 422.5,83.6" fill="#ff0000"/>
<polygon points="429.5,76.1 430.6,78.8 433.5,79 431.3,80.8 432,83.6 429.5,82.1 427,83.6 427.7,80.8 425.5,79 428.4,78.8" fill="#ff5519"/><polygon points="432.4,68.1 433.5,70.8 436.4,71 434.2,72.9 434.9,75.7 432.4,74.1 429.9,75.7 430.6,72.9 428.4,71 431.3,70.8" fill="#ff5519"/><polygon points="435.3,61.6 436.4,64.3 439.3,64.5 437.1,66.3 437.8,69.1 435.3,67.6 432.8,69.1 433.5,66.3 431.3,64.5 434.2,64.3" fill="#ff5519"/><polygon points="438.2,56.3 439.3,59 442.2,59.2 440,61 440.7,63.8 438.2,62.3 435.7,63.8 436.4,61 434.2,59.2 437.1,59" fill="#ff5519"/><polygon points="441.1,51.9 442.2,54.6 445.1,54.8 442.9,56.7 443.6,59.5 441.1,58 438.6,59.5 439.3,56.7 437.1,54.8 440,54.6" fill="#ff5519"/><polygon points="444,48.4 445.1,51.1 448,51.3 445.8,53.1 446.5,56 444,54.4 441.5,56 442.2,53.1 440,51.3 442.9,51.1" fill="#ff5519"/><polygon points="446.9,45.5 448,48.1 450.9,48.3 448.7,50.2 449.4,53 446.9,51.5 444.4,53 445.1,50.2 442.9,48.3 445.8,48.1" fill="#ff5519"/><polygon points="449.8,43 450.9,45.7 453.8,45.9 451.6,47.8 452.3,50.6 449.8,49 447.3,50.6 448,47.8 445.8,45.9 448.7,45.7" fill="#ff5519"/><polygon points="452.7,40.9 453.8,43.6 456.7,43.8 454.5,45.7 455.2,48.5 452.7,47 450.2,48.5 450.9,45.7 448.7,43.8 451.6,43.6" fill="#ff5519"/><polygon points="455.6,39.1 456.7,41.8 459.6,42 457.4,43.9 458.1,46.7 455.6,45.2 453.1,46.7 453.8,43.9 451.6,42 454.5,41.8" fill="#ff5519"/><polygon points="458.5,37.6 459.6,40.3 462.5,40.5 460.3,42.4 461,45.2 458.5,43.6 456,45.2 456.7,42.4 454.5,40.5 457.4,40.3" fill="#ff5519"/><polygon points="427.4,96.7 428.5,99.3 431.4,99.5 429.2,101.4 429.9,104.2 427.4,102.7 424.9,104.2 425.6,101.4 423.4,99.5 426.3,99.3" fill="#ff5519"/><polygon points="430,88.1 431.1,90.7 434,90.9 431.8,92.8 432.5,95.6 430,94.1 427.5,95.6 428.2,92.8 426,90.9 428.9,90.7" fill="#ff5519"/><polygon points="428.5,91.3 429.6,93.9 432.5,94.1 430.3,96 431,98.8 428.5,97.3 426,98.8 426.7,96 424.5,94.1 427.4,93.9" fill="#ff5519"/>
</g>
<g fill="none" stroke="#8a8a8a" stroke-width="1.25">
<polyline points="417.8,114.7 418.8,110.8 419.8,106.8 420.8,102.8 421.8,98.8 422.8,94.8 423.8,90.9 424.8,87.1 425.8,83.5 426.8,80 427.8,76.8 428.8,73.8 429.8,70.9 430.8,68.3 431.8,65.8 432.8,63.5 433.8,61.4 434.8,59.5 435.8,57.7 436.8,56 437.8,54.4 438.8,53 439.8,51.6 440.8,50.4 441.8,49.2 442.8,48.1 443.8,47.1 444.8,46.2 445.8,45.3 446.8,44.4 447.8,43.7 448.8,42.9 449.8,42.2 450.8,41.6 451.8,40.9 452.8,40.3 453.8,39.8 454.8,39.3 455.8,38.7 456.8,38.3 457.8,37.8 458.8,37.4 459.8,37 460.8,36.6 461.8,36.2 462.8,35.8 463.8,35.5 464.8,35.1 465.8,34.8 466.8,34.5 467.8,34.2 468.8,33.9 469.8,33.7 470.8,33.4 471.8,33.2 472.8,32.9 473.8,32.7 474.8,32.5 475.8,32.2 476.8,32 477.8,31.8 478.8,31.6 479.8,31.4 480.8,31.2 481.8,31.1 482.8,30.9 483.8,30.7 484.8,30.6 485.8,30.4 486.8,30.3 487.8,30.1 488.8,30 489.8,29.8 490.8,29.7 491.8,29.5 492.8,29.4 493.8,29.3 494.8,29.2 495.8,29 496.8,28.9 497.8,28.8 498.8,28.7 499.8,28.6 500.8,28.5 501.8,28.4 502.8,28.3 503.8,28.2 504.8,28.1 505.8,28 506.8,27.9 507.8,27.8 508.8,27.7 509.8,27.6 510.8,27.6 511.8,27.5 512.8,27.4 513.8,27.3 514.8,27.2 515.8,27.2 516.8,27.1 517.8,27 518.8,27 519.8,26.9 520.8,26.8 521.8,26.8 522.8,26.7 523.8,26.6 524.8,26.6 525.8,26.5 526.8,26.4 527.8,26.4 528.8,26.3 529.8,26.3 530.8,26.2 531.8,26.1 532.8,26.1 533.8,26 534.8,26 535.8,25.9 536.8,25.9 537.8,25.8 538.8,25.8 539.8,25.7 540.8,25.7 541.8,25.6 542.8,25.6 543.8,25.6 544.8,25.5 545.8,25.5 546.8,25.4 547.8,25.4 548.8,25.3 549.8,25.3 550.8,25.3 551.8,25.2 552.8,25.2 553.8,25.1 554.8,25.1 555.8,25.1 556.8,25 557.8,25 558.8,25 559.8,24.9 560.8,24.9 561.8,24.9 562.8,24.8 563.8,24.8 564.8,24.8 565.8,24.7 566.8,24.7 567.8,24.7 568.8,24.6 569.8,24.6 570.8,24.6 571.8,24.5 572.8,24.5 573.8,24.5 574.8,24.4 575.8,24.4 576.8,24.4 577.8,24.4 578.8,24.3 579.8,24.3 580.8,24.3 581.8,24.3 582.8,24.2 583.8,24.2 584.8,24.2 585.8,24.2 586.8,24.1 587.8,24.1 588.8,24.1 589.8,24.1 590.8,24 591.8,24 592.8,24 593.8,24 594.8,23.9 595.8,23.9 596.8,23.9 597.8,23.9 598.8,23.9 599.8,23.8 600.8,23.8 601.8,23.8 602.8,23.8 603.8,23.7 604.8,23.7 605.8,23.7 606.8,23.7 607.8,23.7 608.8,23.6 609.8,23.6 610.8,23.6 611.8,23.6 612.8,23.6 613.8,23.6 614.8,23.5 615.8,23.5 616.8,23.5 617.8,23.5 618.8,23.5 619.8,23.4"/>
<polyline points="417.8,129.8 418.8,126.3 419.8,122.7 420.8,118.9 421.8,115.1 422.8,111.2 423.8,107.4 424.8,103.6 425.8,99.8 426.8,96.1 427.8,92.6 428.8,89.2 429.8,85.9 430.8,82.8 431.8,79.9 432.8,77.2 433.8,74.6 434.8,72.2 435.8,70 436.8,67.9 437.8,65.9 438.8,64.1 439.8,62.4 440.8,60.8 441.8,59.3 442.8,57.9 443.8,56.6 444.8,55.4 445.8,54.2 446.8,53.1 447.8,52.1 448.8,51.2 449.8,50.3 450.8,49.4 451.8,48.6 452.8,47.9 453.8,47.1 454.8,46.4 455.8,45.8 456.8,45.2 457.8,44.6 458.8,44 459.8,43.5 460.8,43 461.8,42.5 462.8,42 463.8,41.6 464.8,41.2 465.8,40.8 466.8,40.4 467.8,40 468.8,39.6 469.8,39.3 470.8,39 471.8,38.6 472.8,38.3 473.8,38 474.8,37.8 475.8,37.5 476.8,37.2 477.8,37 478.8,36.7 479.8,36.5 480.8,36.2 481.8,36 482.8,35.8 483.8,35.6 484.8,35.4 485.8,35.2 486.8,35 487.8,34.8 488.8,34.6 489.8,34.4 490.8,34.3 491.8,34.1 492.8,33.9 493.8,33.8 494.8,33.6 495.8,33.5 496.8,33.3 497.8,33.2 498.8,33 499.8,32.9 500.8,32.8 501.8,32.6 502.8,32.5 503.8,32.4 504.8,32.3 505.8,32.2 506.8,32 507.8,31.9 508.8,31.8 509.8,31.7 510.8,31.6 511.8,31.5 512.8,31.4 513.8,31.3 514.8,31.2 515.8,31.1 516.8,31 517.8,30.9 518.8,30.9 519.8,30.8 520.8,30.7 521.8,30.6 522.8,30.5 523.8,30.4 524.8,30.4 525.8,30.3 526.8,30.2 527.8,30.1 528.8,30.1 529.8,30 530.8,29.9 531.8,29.9 532.8,29.8 533.8,29.7 534.8,29.7 535.8,29.6 536.8,29.5 537.8,29.5 538.8,29.4 539.8,29.4 540.8,29.3 541.8,29.2 542.8,29.2 543.8,29.1 544.8,29.1 545.8,29 546.8,29 547.8,28.9 548.8,28.9 549.8,28.8 550.8,28.8 551.8,28.7 552.8,28.7 553.8,28.6 554.8,28.6 555.8,28.5 556.8,28.5 557.8,28.4 558.8,28.4 559.8,28.4 560.8,28.3 561.8,28.3 562.8,28.2 563.8,28.2 564.8,28.1 565.8,28.1 566.8,28.1 567.8,28 568.8,28 569.8,28 570.8,27.9 571.8,27.9 572.8,27.8 573.8,27.8 574.8,27.8 575.8,27.7 576.8,27.7 577.8,27.7 578.8,27.6 579.8,27.6 580.8,27.6 581.8,27.5 582.8,27.5 583.8,27.5 584.8,27.4 585.8,27.4 586.8,27.4 587.8,27.4 588.8,27.3 589.8,27.3 590.8,27.3 591.8,27.2 592.8,27.2 593.8,27.2 594.8,27.2 595.8,27.1 596.8,27.1 597.8,27.1 598.8,27 599.8,27 600.8,27 601.8,27 602.8,26.9 603.8,26.9 604.8,26.9 605.8,26.9 606.8,26.8 607.8,26.8 608.8,26.8 609.8,26.8 610.8,26.7 611.8,26.7 612.8,26.7 613.8,26.7 614.8,26.7 615.8,26.6 616.8,26.6 617.8,26.6 618.8,26.6 619.8,26.6"/>
<polyline points="417.8,155.4 418.8,153 419.8,150.6 420.8,148 421.8,145.3 422.8,142.5 423.8,139.6 424.8,136.6 425.8,133.5 426.8,130.3 427.8,127.1 428.8,123.8 429.8,120.5 430.8,117.1 431.8,113.8 432.8,110.5 433.8,107.3 434.8,104.1 435.8,101 436.8,98 437.8,95 438.8,92.2 439.8,89.5 440.8,87 441.8,84.5 442.8,82.2 443.8,79.9 444.8,77.8 445.8,75.8 446.8,73.9 447.8,72.1 448.8,70.4 449.8,68.8 450.8,67.3 451.8,65.8 452.8,64.4 453.8,63.1 454.8,61.9 455.8,60.7 456.8,59.6 457.8,58.6 458.8,57.5 459.8,56.6 460.8,55.7 461.8,54.8 462.8,54 463.8,53.2 464.8,52.4 465.8,51.7 466.8,51 467.8,50.3 468.8,49.7 469.8,49.1 470.8,48.5 471.8,48 472.8,47.4 473.8,46.9 474.8,46.4 475.8,45.9 476.8,45.5 477.8,45 478.8,44.6 479.8,44.2 480.8,43.8 481.8,43.4 482.8,43 483.8,42.7 484.8,42.3 485.8,42 486.8,41.7 487.8,41.3 488.8,41 489.8,40.7 490.8,40.5 491.8,40.2 492.8,39.9 493.8,39.6 494.8,39.4 495.8,39.1 496.8,38.9 497.8,38.7 498.8,38.4 499.8,38.2 500.8,38 501.8,37.8 502.8,37.6 503.8,37.4 504.8,37.2 505.8,37 506.8,36.8 507.8,36.6 508.8,36.5 509.8,36.3 510.8,36.1 511.8,36 512.8,35.8 513.8,35.6 514.8,35.5 515.8,35.3 516.8,35.2 517.8,35 518.8,34.9 519.8,34.8 520.8,34.6 521.8,34.5 522.8,34.4 523.8,34.2 524.8,34.1 525.8,34 526.8,33.9 527.8,33.8 528.8,33.7 529.8,33.5 530.8,33.4 531.8,33.3 532.8,33.2 533.8,33.1 534.8,33 535.8,32.9 536.8,32.8 537.8,32.7 538.8,32.6 539.8,32.5 540.8,32.4 541.8,32.4 542.8,32.3 543.8,32.2 544.8,32.1 545.8,32 546.8,31.9 547.8,31.8 548.8,31.8 549.8,31.7 550.8,31.6 551.8,31.5 552.8,31.5 553.8,31.4 554.8,31.3 555.8,31.2 556.8,31.2 557.8,31.1 558.8,31 559.8,31 560.8,30.9 561.8,30.8 562.8,30.8 563.8,30.7 564.8,30.7 565.8,30.6 566.8,30.5 567.8,30.5 568.8,30.4 569.8,30.4 570.8,30.3 571.8,30.2 572.8,30.2 573.8,30.1 574.8,30.1 575.8,30 576.8,30 577.8,29.9 578.8,29.9 579.8,29.8 580.8,29.8 581.8,29.7 582.8,29.7 583.8,29.6 584.8,29.6 585.8,29.5 586.8,29.5 587.8,29.4 588.8,29.4 589.8,29.4 590.8,29.3 591.8,29.3 592.8,29.2 593.8,29.2 594.8,29.1 595.8,29.1 596.8,29.1 597.8,29 598.8,29 599.8,28.9 600.8,28.9 601.8,28.9 602.8,28.8 603.8,28.8 604.8,28.8 605.8,28.7 606.8,28.7 607.8,28.6 608.8,28.6 609.8,28.6 610.8,28.5 611.8,28.5 612.8,28.5 613.8,28.4 614.8,28.4 615.8,28.4 616.8,28.3 617.8,28.3 618.8,28.3 619.8,28.2"/>
<polyline points="417.8,176.7 418.8,175.4 419.8,174 420.8,172.5 421.8,171 422.8,169.4 423.8,167.8 424.8,166.1 425.8,164.3 426.8,162.4 427.8,160.5 428.8,158.5 429.8,156.4 430.8,154.2 431.8,151.9 432.8,149.6 433.8,147.2 434.8,144.7 435.8,142.2 436.8,139.6 437.8,136.9 438.8,134.2 439.8,131.5 440.8,128.7 441.8,125.9 442.8,123.1 443.8,120.3 444.8,117.5 445.8,114.7 446.8,112 447.8,109.3 448.8,106.6 449.8,104 450.8,101.5 451.8,99 452.8,96.5 453.8,94.2 454.8,91.9 455.8,89.8 456.8,87.6 457.8,85.6 458.8,83.6 459.8,81.8 460.8,80 461.8,78.2 462.8,76.6 463.8,75 464.8,73.5 465.8,72 466.8,70.6 467.8,69.3 468.8,68 469.8,66.7 470.8,65.6 471.8,64.4 472.8,63.3 473.8,62.3 474.8,61.3 475.8,60.4 476.8,59.4 477.8,58.5 478.8,57.7 479.8,56.9 480.8,56.1 481.8,55.3 482.8,54.6 483.8,53.9 484.8,53.2 485.8,52.6 486.8,51.9 487.8,51.3 488.8,50.8 489.8,50.2 490.8,49.6 491.8,49.1 492.8,48.6 493.8,48.1 494.8,47.6 495.8,47.2 496.8,46.7 497.8,46.3 498.8,45.9 499.8,45.4 500.8,45 501.8,44.7 502.8,44.3 503.8,43.9 504.8,43.6 505.8,43.2 506.8,42.9 507.8,42.6 508.8,42.2 509.8,41.9 510.8,41.6 511.8,41.3 512.8,41.1 513.8,40.8 514.8,40.5 515.8,40.2 516.8,40 517.8,39.7 518.8,39.5 519.8,39.3 520.8,39 521.8,38.8 522.8,38.6 523.8,38.4 524.8,38.1 525.8,37.9 526.8,37.7 527.8,37.5 528.8,37.3 529.8,37.1 530.8,37 531.8,36.8 532.8,36.6 533.8,36.4 534.8,36.2 535.8,36.1 536.8,35.9 537.8,35.8 538.8,35.6 539.8,35.4 540.8,35.3 541.8,35.1 542.8,35 543.8,34.8 544.8,34.7 545.8,34.6 546.8,34.4 547.8,34.3 548.8,34.2 549.8,34 550.8,33.9 551.8,33.8 552.8,33.7 553.8,33.5 554.8,33.4 555.8,33.3 556.8,33.2 557.8,33.1 558.8,33 559.8,32.9 560.8,32.8 561.8,32.7 562.8,32.6 563.8,32.5 564.8,32.4 565.8,32.3 566.8,32.2 567.8,32.1 568.8,32 569.8,31.9 570.8,31.8 571.8,31.7 572.8,31.6 573.8,31.5 574.8,31.4 575.8,31.3 576.8,31.3 577.8,31.2 578.8,31.1 579.8,31 580.8,30.9 581.8,30.9 582.8,30.8 583.8,30.7 584.8,30.6 585.8,30.6 586.8,30.5 587.8,30.4 588.8,30.4 589.8,30.3 590.8,30.2 591.8,30.1 592.8,30.1 593.8,30 594.8,30 595.8,29.9 596.8,29.8 597.8,29.8 598.8,29.7 599.8,29.6 600.8,29.6 601.8,29.5 602.8,29.5 603.8,29.4 604.8,29.3 605.8,29.3 606.8,29.2 607.8,29.2 608.8,29.1 609.8,29.1 610.8,29 611.8,29 612.8,28.9 613.8,28.9 614.8,28.8 615.8,28.8 616.8,28.7 617.8,28.7 618.8,28.6 619.8,28.6"/>
<polyline points="417.8,193.1 418.8,192.6 419.8,192 420.8,191.5 421.8,190.9 422.8,190.3 423.8,189.7 424.8,189.1 425.8,188.4 426.8,187.8 427.8,187.1 428.8,186.4 429.8,185.6 430.8,184.9 431.8,184.1 432.8,183.3 433.8,182.4 434.8,181.6 435.8,180.7 436.8,179.8 437.8,178.8 438.8,177.8 439.8,176.8 440.8,175.7 441.8,174.7 442.8,173.5 443.8,172.4 444.8,171.2 445.8,169.9 446.8,168.6 447.8,167.3 448.8,165.9 449.8,164.5 450.8,163 451.8,161.5 452.8,160 453.8,158.4 454.8,156.7 455.8,155 456.8,153.3 457.8,151.5 458.8,149.6 459.8,147.8 460.8,145.8 461.8,143.9 462.8,141.9 463.8,139.8 464.8,137.7 465.8,135.6 466.8,133.5 467.8,131.4 468.8,129.2 469.8,127 470.8,124.8 471.8,122.6 472.8,120.4 473.8,118.3 474.8,116.1 475.8,113.9 476.8,111.8 477.8,109.7 478.8,107.6 479.8,105.5 480.8,103.5 481.8,101.5 482.8,99.6 483.8,97.7 484.8,95.9 485.8,94.1 486.8,92.3 487.8,90.6 488.8,88.9 489.8,87.3 490.8,85.7 491.8,84.2 492.8,82.7 493.8,81.3 494.8,79.9 495.8,78.6 496.8,77.3 497.8,76 498.8,74.8 499.8,73.6 500.8,72.5 501.8,71.4 502.8,70.3 503.8,69.3 504.8,68.3 505.8,67.4 506.8,66.4 507.8,65.5 508.8,64.7 509.8,63.8 510.8,63 511.8,62.2 512.8,61.4 513.8,60.7 514.8,60 515.8,59.3 516.8,58.6 517.8,58 518.8,57.3 519.8,56.7 520.8,56.1 521.8,55.5 522.8,55 523.8,54.4 524.8,53.9 525.8,53.4 526.8,52.9 527.8,52.4 528.8,51.9 529.8,51.4 530.8,51 531.8,50.5 532.8,50.1 533.8,49.7 534.8,49.3 535.8,48.9 536.8,48.5 537.8,48.1 538.8,47.8 539.8,47.4 540.8,47.1 541.8,46.7 542.8,46.4 543.8,46.1 544.8,45.8 545.8,45.4 546.8,45.1 547.8,44.9 548.8,44.6 549.8,44.3 550.8,44 551.8,43.7 552.8,43.5 553.8,43.2 554.8,43 555.8,42.7 556.8,42.5 557.8,42.2 558.8,42 559.8,41.8 560.8,41.5 561.8,41.3 562.8,41.1 563.8,40.9 564.8,40.7 565.8,40.5 566.8,40.3 567.8,40.1 568.8,39.9 569.8,39.7 570.8,39.5 571.8,39.4 572.8,39.2 573.8,39 574.8,38.8 575.8,38.7 576.8,38.5 577.8,38.3 578.8,38.2 579.8,38 580.8,37.9 581.8,37.7 582.8,37.6 583.8,37.4 584.8,37.3 585.8,37.1 586.8,37 587.8,36.9 588.8,36.7 589.8,36.6 590.8,36.5 591.8,36.3 592.8,36.2 593.8,36.1 594.8,36 595.8,35.8 596.8,35.7 597.8,35.6 598.8,35.5 599.8,35.4 600.8,35.3 601.8,35.1 602.8,35 603.8,34.9 604.8,34.8 605.8,34.7 606.8,34.6 607.8,34.5 608.8,34.4 609.8,34.3 610.8,34.2 611.8,34.1 612.8,34 613.8,33.9 614.8,33.8 615.8,33.8 616.8,33.7 617.8,33.6 618.8,33.5 619.8,33.4"/>
<polyline points="417.8,196.2 418.8,195.9 419.8,195.5 420.8,195.2 421.8,194.8 422.8,194.4 423.8,194 424.8,193.6 425.8,193.2 426.8,192.8 427.8,192.4 428.8,192 429.8,191.5 430.8,191.1 431.8,190.6 432.8,190.1 433.8,189.6 434.8,189.1 435.8,188.6 436.8,188.1 437.8,187.5 438.8,187 439.8,186.4 440.8,185.8 441.8,185.2 442.8,184.6 443.8,184 444.8,183.3 445.8,182.6 446.8,182 447.8,181.3 448.8,180.5 449.8,179.8 450.8,179 451.8,178.2 452.8,177.4 453.8,176.6 454.8,175.8 455.8,174.9 456.8,174 457.8,173.1 458.8,172.1 459.8,171.1 460.8,170.1 461.8,169.1 462.8,168 463.8,166.9 464.8,165.8 465.8,164.7 466.8,163.5 467.8,162.3 468.8,161 469.8,159.8 470.8,158.5 471.8,157.1 472.8,155.8 473.8,154.4 474.8,152.9 475.8,151.5 476.8,150 477.8,148.4 478.8,146.9 479.8,145.3 480.8,143.7 481.8,142 482.8,140.4 483.8,138.7 484.8,137 485.8,135.2 486.8,133.5 487.8,131.7 488.8,130 489.8,128.2 490.8,126.4 491.8,124.6 492.8,122.8 493.8,121 494.8,119.2 495.8,117.4 496.8,115.6 497.8,113.9 498.8,112.1 499.8,110.4 500.8,108.6 501.8,106.9 502.8,105.2 503.8,103.6 504.8,102 505.8,100.4 506.8,98.8 507.8,97.2 508.8,95.7 509.8,94.2 510.8,92.8 511.8,91.3 512.8,89.9 513.8,88.6 514.8,87.2 515.8,86 516.8,84.7 517.8,83.5 518.8,82.2 519.8,81.1 520.8,79.9 521.8,78.8 522.8,77.7 523.8,76.7 524.8,75.7 525.8,74.7 526.8,73.7 527.8,72.8 528.8,71.8 529.8,70.9 530.8,70.1 531.8,69.2 532.8,68.4 533.8,67.6 534.8,66.8 535.8,66.1 536.8,65.3 537.8,64.6 538.8,63.9 539.8,63.2 540.8,62.6 541.8,61.9 542.8,61.3 543.8,60.7 544.8,60.1 545.8,59.5 546.8,58.9 547.8,58.4 548.8,57.8 549.8,57.3 550.8,56.8 551.8,56.3 552.8,55.8 553.8,55.3 554.8,54.9 555.8,54.4 556.8,54 557.8,53.5 558.8,53.1 559.8,52.7 560.8,52.3 561.8,51.9 562.8,51.5 563.8,51.1 564.8,50.8 565.8,50.4 566.8,50.1 567.8,49.7 568.8,49.4 569.8,49 570.8,48.7 571.8,48.4 572.8,48.1 573.8,47.8 574.8,47.5 575.8,47.2 576.8,46.9 577.8,46.6 578.8,46.4 579.8,46.1 580.8,45.8 581.8,45.6 582.8,45.3 583.8,45.1 584.8,44.8 585.8,44.6 586.8,44.3 587.8,44.1 588.8,43.9 589.8,43.7 590.8,43.4 591.8,43.2 592.8,43 593.8,42.8 594.8,42.6 595.8,42.4 596.8,42.2 597.8,42 598.8,41.8 599.8,41.6 600.8,41.4 601.8,41.3 602.8,41.1 603.8,40.9 604.8,40.7 605.8,40.6 606.8,40.4 607.8,40.2 608.8,40.1 609.8,39.9 610.8,39.7 611.8,39.6 612.8,39.4 613.8,39.3 614.8,39.1 615.8,39 616.8,38.9 617.8,38.7 618.8,38.6 619.8,38.4"/>
<polyline points="417.8,200.8 418.8,200.6 419.8,200.4 420.8,200.2 421.8,199.9 422.8,199.7 423.8,199.5 424.8,199.2 425.8,199 426.8,198.7 427.8,198.5 428.8,198.2 429.8,198 430.8,197.7 431.8,197.4 432.8,197.1 433.8,196.9 434.8,196.6 435.8,196.3 436.8,196 437.8,195.7 438.8,195.4 439.8,195 440.8,194.7 441.8,194.4 442.8,194 443.8,193.7 444.8,193.3 445.8,193 446.8,192.6 447.8,192.2 448.8,191.8 449.8,191.4 450.8,191 451.8,190.6 452.8,190.2 453.8,189.7 454.8,189.3 455.8,188.8 456.8,188.4 457.8,187.9 458.8,187.4 459.8,186.9 460.8,186.4 461.8,185.9 462.8,185.3 463.8,184.8 464.8,184.2 465.8,183.6 466.8,183 467.8,182.4 468.8,181.8 469.8,181.2 470.8,180.5 471.8,179.8 472.8,179.1 473.8,178.4 474.8,177.7 475.8,177 476.8,176.2 477.8,175.4 478.8,174.6 479.8,173.8 480.8,172.9 481.8,172 482.8,171.1 483.8,170.2 484.8,169.2 485.8,168.3 486.8,167.3 487.8,166.2 488.8,165.2 489.8,164.1 490.8,163 491.8,161.9 492.8,160.7 493.8,159.5 494.8,158.3 495.8,157 496.8,155.8 497.8,154.4 498.8,153.1 499.8,151.7 500.8,150.3 501.8,148.9 502.8,147.5 503.8,146 504.8,144.5 505.8,142.9 506.8,141.4 507.8,139.8 508.8,138.2 509.8,136.6 510.8,134.9 511.8,133.3 512.8,131.6 513.8,129.9 514.8,128.2 515.8,126.5 516.8,124.8 517.8,123.1 518.8,121.4 519.8,119.7 520.8,118 521.8,116.3 522.8,114.6 523.8,112.9 524.8,111.3 525.8,109.6 526.8,108 527.8,106.4 528.8,104.8 529.8,103.2 530.8,101.6 531.8,100.1 532.8,98.6 533.8,97.1 534.8,95.7 535.8,94.3 536.8,92.9 537.8,91.5 538.8,90.2 539.8,88.9 540.8,87.6 541.8,86.3 542.8,85.1 543.8,83.9 544.8,82.8 545.8,81.6 546.8,80.5 547.8,79.5 548.8,78.4 549.8,77.4 550.8,76.4 551.8,75.4 552.8,74.5 553.8,73.5 554.8,72.7 555.8,71.8 556.8,70.9 557.8,70.1 558.8,69.3 559.8,68.5 560.8,67.7 561.8,67 562.8,66.3 563.8,65.6 564.8,64.9 565.8,64.2 566.8,63.5 567.8,62.9 568.8,62.3 569.8,61.7 570.8,61.1 571.8,60.5 572.8,59.9 573.8,59.4 574.8,58.8 575.8,58.3 576.8,57.8 577.8,57.3 578.8,56.8 579.8,56.4 580.8,55.9 581.8,55.4 582.8,55 583.8,54.6 584.8,54.1 585.8,53.7 586.8,53.3 587.8,52.9 588.8,52.5 589.8,52.2 590.8,51.8 591.8,51.4 592.8,51.1 593.8,50.7 594.8,50.4 595.8,50 596.8,49.7 597.8,49.4 598.8,49.1 599.8,48.8 600.8,48.5 601.8,48.2 602.8,47.9 603.8,47.6 604.8,47.3 605.8,47.1 606.8,46.8 607.8,46.5 608.8,46.3 609.8,46 610.8,45.8 611.8,45.5 612.8,45.3 613.8,45.1 614.8,44.8 615.8,44.6 616.8,44.4 617.8,44.2 618.8,44 619.8,43.7"/>
<polyline points="417.8,205.9 418.8,205.8 419.8,205.6 420.8,205.5 421.8,205.3 422.8,205.2 423.8,205 424.8,204.9 425.8,204.7 426.8,204.6 427.8,204.4 428.8,204.3 429.8,204.1 430.8,203.9 431.8,203.8 432.8,203.6 433.8,203.4 434.8,203.2 435.8,203.1 436.8,202.9 437.8,202.7 438.8,202.5 439.8,202.3 440.8,202.1 441.8,201.9 442.8,201.7 443.8,201.5 444.8,201.3 445.8,201.1 446.8,200.9 447.8,200.7 448.8,200.5 449.8,200.3 450.8,200 451.8,199.8 452.8,199.6 453.8,199.3 454.8,199.1 455.8,198.8 456.8,198.6 457.8,198.3 458.8,198.1 459.8,197.8 460.8,197.5 461.8,197.3 462.8,197 463.8,196.7 464.8,196.4 465.8,196.1 466.8,195.8 467.8,195.5 468.8,195.2 469.8,194.9 470.8,194.6 471.8,194.2 472.8,193.9 473.8,193.6 474.8,193.2 475.8,192.9 476.8,192.5 477.8,192.1 478.8,191.8 479.8,191.4 480.8,191 481.8,190.6 482.8,190.2 483.8,189.7 484.8,189.3 485.8,188.9 486.8,188.4 487.8,188 488.8,187.5 489.8,187 490.8,186.5 491.8,186 492.8,185.5 493.8,185 494.8,184.5 495.8,183.9 496.8,183.4 497.8,182.8 498.8,182.2 499.8,181.6 500.8,181 501.8,180.4 502.8,179.7 503.8,179.1 504.8,178.4 505.8,177.7 506.8,177 507.8,176.3 508.8,175.6 509.8,174.8 510.8,174.1 511.8,173.3 512.8,172.5 513.8,171.6 514.8,170.8 515.8,169.9 516.8,169 517.8,168.1 518.8,167.2 519.8,166.3 520.8,165.3 521.8,164.3 522.8,163.3 523.8,162.2 524.8,161.2 525.8,160.1 526.8,159 527.8,157.9 528.8,156.7 529.8,155.5 530.8,154.3 531.8,153.1 532.8,151.9 533.8,150.6 534.8,149.3 535.8,148 536.8,146.7 537.8,145.3 538.8,144 539.8,142.6 540.8,141.2 541.8,139.8 542.8,138.3 543.8,136.9 544.8,135.4 545.8,134 546.8,132.5 547.8,131 548.8,129.5 549.8,128 550.8,126.5 551.8,125 552.8,123.4 553.8,121.9 554.8,120.4 555.8,118.9 556.8,117.4 557.8,115.9 558.8,114.5 559.8,113 560.8,111.5 561.8,110.1 562.8,108.7 563.8,107.3 564.8,105.9 565.8,104.5 566.8,103.1 567.8,101.8 568.8,100.5 569.8,99.2 570.8,97.9 571.8,96.6 572.8,95.4 573.8,94.2 574.8,93 575.8,91.8 576.8,90.7 577.8,89.6 578.8,88.5 579.8,87.4 580.8,86.3 581.8,85.3 582.8,84.3 583.8,83.3 584.8,82.3 585.8,81.4 586.8,80.5 587.8,79.6 588.8,78.7 589.8,77.8 590.8,77 591.8,76.2 592.8,75.4 593.8,74.6 594.8,73.8 595.8,73.1 596.8,72.4 597.8,71.7 598.8,71 599.8,70.3 600.8,69.6 601.8,69 602.8,68.3 603.8,67.7 604.8,67.1 605.8,66.5 606.8,65.9 607.8,65.4 608.8,64.8 609.8,64.3 610.8,63.7 611.8,63.2 612.8,62.7 613.8,62.2 614.8,61.7 615.8,61.3 616.8,60.8 617.8,60.4 618.8,59.9 619.8,59.5"/>
<polyline points="417.8,207.9 418.8,207.8 419.8,207.7 420.8,207.6 421.8,207.5 422.8,207.4 423.8,207.3 424.8,207.2 425.8,207.1 426.8,207 427.8,206.9 428.8,206.8 429.8,206.7 430.8,206.6 431.8,206.5 432.8,206.4 433.8,206.3 434.8,206.1 435.8,206 436.8,205.9 437.8,205.8 438.8,205.7 439.8,205.6 440.8,205.5 441.8,205.3 442.8,205.2 443.8,205.1 444.8,205 445.8,204.9 446.8,204.7 447.8,204.6 448.8,204.5 449.8,204.3 450.8,204.2 451.8,204.1 452.8,203.9 453.8,203.8 454.8,203.7 455.8,203.5 456.8,203.4 457.8,203.2 458.8,203.1 459.8,202.9 460.8,202.8 461.8,202.6 462.8,202.5 463.8,202.3 464.8,202.2 465.8,202 466.8,201.9 467.8,201.7 468.8,201.5 469.8,201.4 470.8,201.2 471.8,201 472.8,200.8 473.8,200.7 474.8,200.5 475.8,200.3 476.8,200.1 477.8,199.9 478.8,199.7 479.8,199.5 480.8,199.3 481.8,199.1 482.8,198.9 483.8,198.7 484.8,198.5 485.8,198.3 486.8,198.1 487.8,197.9 488.8,197.7 489.8,197.4 490.8,197.2 491.8,197 492.8,196.8 493.8,196.5 494.8,196.3 495.8,196 496.8,195.8 497.8,195.5 498.8,195.3 499.8,195 500.8,194.7 501.8,194.5 502.8,194.2 503.8,193.9 504.8,193.6 505.8,193.4 506.8,193.1 507.8,192.8 508.8,192.5 509.8,192.2 510.8,191.8 511.8,191.5 512.8,191.2 513.8,190.9 514.8,190.5 515.8,190.2 516.8,189.9 517.8,189.5 518.8,189.1 519.8,188.8 520.8,188.4 521.8,188 522.8,187.6 523.8,187.3 524.8,186.9 525.8,186.4 526.8,186 527.8,185.6 528.8,185.2 529.8,184.7 530.8,184.3 531.8,183.8 532.8,183.4 533.8,182.9 534.8,182.4 535.8,181.9 536.8,181.4 537.8,180.9 538.8,180.4 539.8,179.9 540.8,179.3 541.8,178.8 542.8,178.2 543.8,177.6 544.8,177 545.8,176.4 546.8,175.8 547.8,175.2 548.8,174.6 549.8,173.9 550.8,173.3 551.8,172.6 552.8,171.9 553.8,171.2 554.8,170.5 555.8,169.8 556.8,169 557.8,168.3 558.8,167.5 559.8,166.7 560.8,165.9 561.8,165.1 562.8,164.3 563.8,163.4 564.8,162.6 565.8,161.7 566.8,160.8 567.8,159.9 568.8,159 569.8,158 570.8,157.1 571.8,156.1 572.8,155.1 573.8,154.1 574.8,153.1 575.8,152 576.8,151 577.8,149.9 578.8,148.8 579.8,147.7 580.8,146.6 581.8,145.5 582.8,144.4 583.8,143.2 584.8,142 585.8,140.9 586.8,139.7 587.8,138.5 588.8,137.3 589.8,136 590.8,134.8 591.8,133.6 592.8,132.3 593.8,131.1 594.8,129.8 595.8,128.6 596.8,127.3 597.8,126 598.8,124.8 599.8,123.5 600.8,122.2 601.8,121 602.8,119.7 603.8,118.5 604.8,117.2 605.8,116 606.8,114.7 607.8,113.5 608.8,112.2 609.8,111 610.8,109.8 611.8,108.6 612.8,107.4 613.8,106.3 614.8,105.1 615.8,103.9 616.8,102.8 617.8,101.7 618.8,100.6 619.8,99.5"/>
</g>
<polygon points="628.9,25.6 633.2,28.7 631.5,33.7 626.3,33.7 624.6,28.7" fill="#ff0000"/>
<text x="643.8" y="33.2" font-size="10" text-anchor="start" >–10 V</text>
<polygon points="628.9,39.8 630,42.5 632.9,42.7 630.7,44.5 631.4,47.4 628.9,45.8 626.4,47.4 627.1,44.5 624.9,42.7 627.8,42.5" fill="#ff5519"/>
<text x="643.8" y="47.1" font-size="10" text-anchor="start" >–9.5 V</text>
<polygon points="628.9,53.2 632.6,55.3 632.6,59.6 628.9,61.7 625.2,59.6 625.2,55.3" fill="#ffaa00"/>
<text x="643.8" y="61.1" font-size="10" text-anchor="start" >–9.0 V</text>
<polygon points="633.4,71.4 625.5,67.2 625.5,75.6" fill="#aaf000"/>
<text x="643.8" y="75" font-size="10" text-anchor="start" >–8.0 V</text>
<polygon points="624.4,85.3 632.3,81.1 632.3,89.5" fill="#00f01e"/>
<text x="643.8" y="88.9" font-size="10" text-anchor="start" >–7.0 V</text>
<polygon points="628.9,94.5 633.7,99.2 628.9,104 624.1,99.2" fill="#00f5dc"/>
<text x="643.8" y="102.8" font-size="10" text-anchor="start" >–6.5 V</text>
<polygon points="628.9,117.6 624.6,109.9 633.2,109.9" fill="#0096ff"/>
<text x="643.8" y="116.8" font-size="10" text-anchor="start" >–5.0 V</text>
<polygon points="628.9,122.7 624.6,130.4 633.2,130.4" fill="#1e3cff"/>
<text x="643.8" y="130.7" font-size="10" text-anchor="start" >–4.5 V</text>
<circle cx="628.9" cy="141" r="3.9" fill="#5500ff"/>
<text x="643.8" y="144.6" font-size="10" text-anchor="start" >–4.0 V</text>
<rect x="625.3" y="151.4" width="7.2" height="7.2" fill="#9600f0"/>
<text x="643.8" y="158.6" font-size="10" text-anchor="start" >–3.0 V</text>
<line x1="616.2" y1="168.9" x2="641.6" y2="168.9" stroke="#8a8a8a" stroke-width="1.3"/>
<text x="653.6" y="172.5" font-size="10" text-anchor="start" >NLS</text>
<rect x="409.2" y="12" width="272.3" height="222.5" fill="none" stroke="#000" stroke-width="1.3"/>
<path d="M427.6 234.5v-4.5M427.6 12v4.5M488.2 234.5v-4.5M488.2 12v4.5M535.3 234.5v-4.5M535.3 12v4.5M573.8 234.5v-4.5M573.8 12v4.5M606.3 234.5v-4.5M606.3 12v4.5M634.4 234.5v-4.5M634.4 12v4.5M659.3 234.5v-4.5M659.3 12v4.5" stroke="#000" stroke-width="1.1" fill="none"/>
<path d="M413 234.5v-2.5M413 12v2.5M441.2 234.5v-2.5M441.2 12v2.5M454 234.5v-2.5M454 12v2.5M466 234.5v-2.5M466 12v2.5M477.4 234.5v-2.5M477.4 12v2.5M498.5 234.5v-2.5M498.5 12v2.5M508.3 234.5v-2.5M508.3 12v2.5M517.7 234.5v-2.5M517.7 12v2.5M526.7 234.5v-2.5M526.7 12v2.5M543.6 234.5v-2.5M543.6 12v2.5M551.5 234.5v-2.5M551.5 12v2.5M559.2 234.5v-2.5M559.2 12v2.5M566.6 234.5v-2.5M566.6 12v2.5M580.7 234.5v-2.5M580.7 12v2.5M587.4 234.5v-2.5M587.4 12v2.5M593.9 234.5v-2.5M593.9 12v2.5M600.1 234.5v-2.5M600.1 12v2.5M612.2 234.5v-2.5M612.2 12v2.5M618 234.5v-2.5M618 12v2.5M623.6 234.5v-2.5M623.6 12v2.5M629.1 234.5v-2.5M629.1 12v2.5M639.6 234.5v-2.5M639.6 12v2.5M644.7 234.5v-2.5M644.7 12v2.5M649.7 234.5v-2.5M649.7 12v2.5M654.5 234.5v-2.5M654.5 12v2.5M663.9 234.5v-2.5M663.9 12v2.5M668.4 234.5v-2.5M668.4 12v2.5M672.9 234.5v-2.5M672.9 12v2.5M677.2 234.5v-2.5M677.2 12v2.5" stroke="#000" stroke-width="1.1" fill="none"/>
<path d="M409.2 226.5h4.5M681.5 226.5h-4.5M409.2 185.2h4.5M681.5 185.2h-4.5M409.2 143.9h4.5M681.5 143.9h-4.5M409.2 102.7h4.5M681.5 102.7h-4.5M409.2 61.4h4.5M681.5 61.4h-4.5M409.2 20.1h4.5M681.5 20.1h-4.5" stroke="#000" stroke-width="1.1" fill="none"/>
<path d="M409.2 216.2h2.5M681.5 216.2h-2.5M409.2 205.9h2.5M681.5 205.9h-2.5M409.2 195.5h2.5M681.5 195.5h-2.5M409.2 174.9h2.5M681.5 174.9h-2.5M409.2 164.6h2.5M681.5 164.6h-2.5M409.2 154.3h2.5M681.5 154.3h-2.5M409.2 133.6h2.5M681.5 133.6h-2.5M409.2 123.3h2.5M681.5 123.3h-2.5M409.2 113h2.5M681.5 113h-2.5M409.2 92.3h2.5M681.5 92.3h-2.5M409.2 82h2.5M681.5 82h-2.5M409.2 71.7h2.5M681.5 71.7h-2.5M409.2 51.1h2.5M681.5 51.1h-2.5M409.2 40.7h2.5M681.5 40.7h-2.5M409.2 30.4h2.5M681.5 30.4h-2.5" stroke="#000" stroke-width="1.1" fill="none"/>
<text x="427.6" y="254.1" font-size="14.8" text-anchor="middle" >0.6</text>
<text x="488.2" y="254.1" font-size="14.8" text-anchor="middle" >0.8</text>
<text x="535.3" y="254.1" font-size="14.8" text-anchor="middle" >1</text>
<text x="573.8" y="254.1" font-size="14.8" text-anchor="middle" >1.2</text>
<text x="606.3" y="254.1" font-size="14.8" text-anchor="middle" >1.4</text>
<text x="634.4" y="254.1" font-size="14.8" text-anchor="middle" >1.6</text>
<text x="659.3" y="254.1" font-size="14.8" text-anchor="middle" >1.8</text>
<text x="681.5" y="254.1" font-size="14.8" text-anchor="middle" >2</text>
<text x="401.2" y="231.6" font-size="14.8" text-anchor="end" >0.0</text>
<text x="401.2" y="190.3" font-size="14.8" text-anchor="end" >0.2</text>
<text x="401.2" y="149" font-size="14.8" text-anchor="end" >0.4</text>
<text x="401.2" y="107.8" font-size="14.8" text-anchor="end" >0.6</text>
<text x="401.2" y="66.5" font-size="14.8" text-anchor="end" >0.8</text>
<text x="401.2" y="25.2" font-size="14.8" text-anchor="end" >1.0</text>
<text x="546" y="277" font-size="14.9" text-anchor="middle" >Pulse duration (ns)</text>
<text transform="translate(369.2,123.5) rotate(-90)" font-size="14.9" text-anchor="middle">S</text>
</g></svg></body></html>
